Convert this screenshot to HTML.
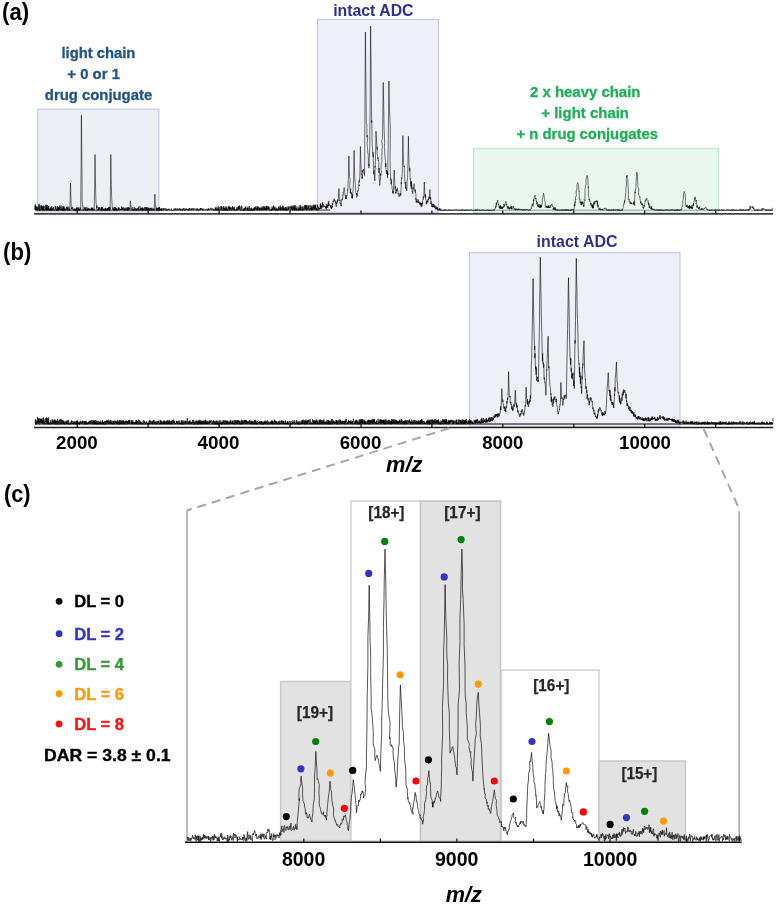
<!DOCTYPE html>
<html><head><meta charset="utf-8"><title>ADC mass spectra</title>
<style>html,body{margin:0;padding:0;background:#fff;overflow:hidden;} svg{display:block;}</style>
</head><body>
<svg width="777" height="905" viewBox="0 0 777 905" font-family="'Liberation Sans', Arial, sans-serif"><rect width="777" height="905" fill="#fff"/><text x="2.1" y="19.5" font-size="23.8" fill="#000" font-weight="bold" text-anchor="start" textLength="27.1" lengthAdjust="spacingAndGlyphs">(a)</text><rect x="37.6" y="109.2" width="121.2" height="102.8" fill="#EEEFF4" stroke="#CDD2E2" stroke-width="1.4"/><rect x="317.5" y="19.5" width="121" height="193" fill="#EFEFF8" stroke="#C6C6EA" stroke-width="1.2"/><rect x="473.5" y="148.5" width="245" height="64" fill="#EBF8F0" stroke="#BFE9D0" stroke-width="1.2"/><text x="61.5" y="58.4" font-size="15.5" fill="#215487" font-weight="bold" text-anchor="start" textLength="73.9" lengthAdjust="spacingAndGlyphs" stroke="#215487" stroke-width="0.3">light chain</text><text x="67.3" y="79.1" font-size="15.5" fill="#215487" font-weight="bold" text-anchor="start" textLength="52.7" lengthAdjust="spacingAndGlyphs" stroke="#215487" stroke-width="0.3">+ 0 or 1</text><text x="44.8" y="99.9" font-size="15.5" fill="#215487" font-weight="bold" text-anchor="start" textLength="107.4" lengthAdjust="spacingAndGlyphs" stroke="#215487" stroke-width="0.3">drug conjugate</text><text x="333.2" y="16.3" font-size="16" fill="#2E3192" font-weight="bold" text-anchor="start" textLength="80.3" lengthAdjust="spacingAndGlyphs">intact ADC</text><text x="530" y="96.6" font-size="15.5" fill="#1DB055" font-weight="bold" text-anchor="start" textLength="110.4" lengthAdjust="spacingAndGlyphs" stroke="#1DB055" stroke-width="0.3">2 x heavy chain</text><text x="541.3" y="118.2" font-size="15.5" fill="#1DB055" font-weight="bold" text-anchor="start" textLength="87.7" lengthAdjust="spacingAndGlyphs" stroke="#1DB055" stroke-width="0.3">+ light chain</text><text x="516.6" y="139.3" font-size="15.5" fill="#1DB055" font-weight="bold" text-anchor="start" textLength="141.3" lengthAdjust="spacingAndGlyphs" stroke="#1DB055" stroke-width="0.3">+ n drug conjugates</text><path d="M34.9 209.5L35.2 204.6L35 210.1L35.4 204.6L36.2 209.9L35.9 209.8L36.1 206.4L36 209.7L36.4 208.9L36.5 210.2L36.8 206.6L36.9 209L36.8 210.1L36.9 206.7L37.1 210.1L37.6 209.5L37.4 210L37.8 209.5L38.1 210L37.7 209.5L37.8 207.2L38.1 210L38.3 209.3L38.9 204.4L38.6 204.2L39 207.8L39.2 208.9L39.3 210.4L39.1 210.6L39.5 204.2L39.5 208.8L39.5 210.4L39.7 208.5L40 207.1L40.2 207.7L40.8 205.5L40.8 210.3L40.3 209L40.8 208.9L41.1 210.1L41.3 208.2L41.7 205.4L41.5 208.7L41.7 209.9L41.8 206.1L42.1 209.1L41.9 208.8L41.9 207.4L42.7 210.6L42.2 206.5L42.7 207.2L42.6 206.7L43 210.2L43 206.8L43.5 210.3L43.2 210.6L43.4 206.1L43.7 206L43.7 205.5L43.8 209L44.2 210L44.4 210.5L44.8 208.2L44.4 207.4L45 206L45.1 210.1L45.5 210.1L45.7 207.8L45.7 206.2L45.9 204.6L46.3 210.5L46.1 209.1L46.3 205.3L46.4 209.7L46.7 208.4L47 210.6L46.5 207.8L47.3 204.9L47.3 205.7L47.7 205.5L47.5 208.2L47.4 210.1L48 207.2L47.9 210L48.1 206.1L48.4 210.3L48.7 206L48.4 209.9L48.2 209.4L49 209.4L48.9 207.8L49 210.2L49.2 209.6L49.2 210.2L49.6 210.4L49.7 209.3L49.9 210.6L49.6 208.5L49.9 209.7L50.8 208.2L50.2 208.9L50.9 210.1L51 206.9L50.8 208.7L51.1 208.4L51.2 210.3L51 209.6L51.1 210.6L51.8 206.1L51.7 210.1L51.8 209.7L51.9 210.6L52.4 209.9L52.4 208.2L52.6 207.8L52.7 210.2L52.8 209.9L52.8 209.4L53.2 208.5L53.5 209.4L53.3 209.1L53.6 207L53.7 208.2L53.9 210.4L54.2 210.1L54.1 210.5L54.1 210.5L54.7 210.2L54.4 210.3L54.6 210.3L54.9 210.2L55.2 209.6L55.2 206L55.5 207.8L55.7 207.3L55.6 207.9L55.7 209.4L55.9 206.7L56 208.7L56.3 209.6L56.9 210.6L56.6 209.3L56.5 210.4L57.1 210.6L57.2 209.8L57.4 208.2L57.1 210L57.4 207.5L57.6 209.2L57.9 210.6L57.6 206L58.3 209.4L58.1 209.7L58.7 206.9L58.5 210.6L58.9 208L59 210.1L58.9 210.2L58.9 210.5L59.3 207.6L59.4 209.7L59.6 205.6L59.5 209L59.8 209L60 209.3L60.5 210L60.9 208.9L60.8 207L60.7 210.2L61 205.5L61.3 208L61.7 209.8L61.3 209L61.8 210.6L61.8 209.7L61.9 209.5L62.3 210.3L62.4 209.3L62.3 206.3L62.4 210.6L63.2 208.2L62.7 209.6L63 210.4L63.7 206.9L63.3 210.6L63.6 209.9L63.8 206L63.9 210.6L63.9 207.3L64.5 209.3L64.1 207.7L64 208.9L65 209.7L64.6 208.9L64.6 210.6L65.2 210L65.4 210.3L65.4 209.3L65.5 210.1L65.4 210.2L65.9 208.7L66.1 209.6L66.1 208L66.4 208.3L66.6 206.9L66.7 208.2L66.6 209L66.7 210.1L67.2 207.6L67.5 210.5L67.5 209.7L67.9 206.4L67.5 208.9L68 207.7L68.3 209.6L68.2 209.8L68.2 210.1L68.8 209.9L68.8 209.3L68.8 209.4L69.4 210.4L68.9 207.4L69.2 210.6L69.4 209.7L69.8 210.2L70.2 197.7L70.5 183L70.8 195L71.1 202.7L71.4 208.3L71.3 208.9L71.7 208.2L71.7 209.4L72 207.3L72.3 206.9L72.5 208.2L72.6 208.6L72.6 207.8L72.9 207.5L72.8 210L73 210L73.3 210.2L73.6 210.1L74 209.2L74.3 210.2L74 210.2L73.8 210.3L74.2 210.3L74.7 208.4L74.8 209L74.8 209.6L74.9 210.6L75.2 209.9L74.9 209.3L75.1 210.6L75.5 209.7L75.5 210.6L75.7 210.6L76 210.4L75.9 209.5L76.3 210.3L76.3 207.9L76.6 210.1L76.8 209.8L76.8 208.1L77 210.3L77 210.3L77 207.1L77.3 208.9L77.7 210L77.7 210.5L78 209.4L78.5 209.8L78.1 207.8L78.4 209.7L78.4 210.4L78.8 207.4L78.8 209.3L78.8 210.3L79.1 210.6L79.3 209.4L79.4 210.3L79.5 209.6L79.7 209.1L79.9 210.6L79.9 208.4L80.3 208.3L80.3 207.6L80.3 209.5L80.7 210.1L80.9 186L81.1 167.6L81.4 115.2L81.8 157.7L82.1 181.1L82.1 199.9L82.5 205.4L82.9 205.1L82.9 208.3L83.2 210.5L83.5 210.2L83.4 209.5L83.6 210.1L83.6 209.7L84.1 209.6L84.2 209.1L84 206.9L84.9 209.3L84.8 208.4L85 210.6L85 209.8L85.3 209.7L85 209L85.1 210L85.5 209.4L85.5 207.3L85.9 209.5L86.2 209.8L86 210.6L86.3 210.3L86.4 210.6L86.6 210.6L86.9 206.8L87 210.5L87.2 210L87.7 210.2L87.4 208.8L87.6 210.1L87.7 210.4L87.7 210.5L88 210.3L87.8 209.8L88 208.1L88.4 209.9L88.5 209.9L88.7 208.3L89 208.5L89.1 209.9L89.3 208.5L89.3 208.5L89.3 210.4L89.6 209.4L89.4 209.9L89.8 209.8L90 209.8L89.9 209.7L90.2 209.7L90.3 209.5L90.3 210.1L90.8 208.9L90.9 210L91.3 207.5L91.1 210L91.6 209.9L91.4 210.4L91.7 209.7L91.6 210.2L91.6 208.5L92.3 209.6L92.2 210.2L92.3 208.4L92.7 210.4L92.4 208L93 208.5L93.1 207.7L93.2 209.3L93.1 210.6L93.2 210.1L93.7 209.7L94 209.3L94.1 210.1L94.2 210.1L94.7 185.4L95 154.5L95.4 179.3L95.7 192.7L95.9 198.2L96 202.2L96.4 206L96.7 205.5L96.5 208.4L96.9 206.1L97 207.7L97 206.9L97 210.6L97.7 209.7L97.4 209.8L98 209.5L98 210.1L98.1 210.2L98.4 209.3L98.5 208.6L98.6 210.1L98.6 207L98.6 210L99.1 210.4L99 208.1L99.1 209.8L99.5 210L99.4 209.9L100.1 207.1L99.5 207.5L100.3 209.3L100.1 209.9L99.9 208.7L100.7 210.3L100.5 209.9L101.3 209.7L100.7 209.7L101 210L101.5 207L101.3 209.8L102.1 208.7L101.8 210.1L101.6 210.6L102 210.5L102 207.1L102.6 208.5L102.7 207.7L102.8 210.4L102.6 209L102.9 209.4L103.4 209.7L103.1 208.6L103.1 210.6L103.3 209.5L103.9 210L104.1 210.2L103.7 209.4L103.9 210.6L104 209.9L104.6 210.5L104.4 209.7L104.9 208.3L105 209.1L105 209.5L105.5 207.9L105.2 210.2L105.7 210.6L105.5 209.3L105.7 210L105.8 209.4L106.3 209.4L106.4 210.6L106.5 208.9L106.6 209.5L106.6 209.7L107.1 208.1L107.2 208.2L107.2 210.6L107.9 209.9L107.5 208.1L107.4 210.3L107.6 208.3L108.1 210.2L108.3 210.1L108.5 209.4L108.6 207L108.4 210.3L108.7 210L109.1 208.8L108.9 209.6L109.3 210.3L109.6 207.1L109.6 210.5L109.9 208.5L109.8 206.8L110 208.1L110 210.1L110.3 197.2L110.5 184.5L110.8 154.5L111.2 180.4L111.5 190.9L111.6 196.4L112 203.3L112.1 205.1L112.4 208.4L112.5 208.4L112.8 209.9L113 207.4L113.5 210.1L113.6 209.4L113.4 209.8L113.8 210.1L114 208.4L114.1 210.6L114.1 210.1L114.3 210.3L114.6 209L114.6 210.6L114.6 207L114.8 210.6L115.2 209.3L115.2 207.9L115.4 207.2L115.7 208.1L115.7 210.3L115.9 208.1L115.8 209L115.8 209.9L116.5 210.6L116.2 210.5L116.4 208.4L116.7 210.1L117 210.1L117 210.2L117.1 208.6L117.3 209.7L117.3 210.4L117.9 209.8L118.1 210.3L118 208.8L118.1 210L118.3 208.4L118.4 209.8L118.4 207.4L118.7 208.5L118.9 209.9L119.1 209.8L118.8 209.6L119.2 207.6L119.4 209.9L119.5 210.2L119.9 209.4L120 209.7L119.8 208.7L120.4 209.5L120.1 210.2L120.5 209.2L120.7 209.8L120.9 209.3L120.8 208.9L121 209.9L121.3 210L121.2 207.5L121.4 207.5L121.8 206.5L121.4 210L122.2 208.5L121.9 207.2L122.5 207.7L122.4 208.4L122.5 209.3L122.4 208.8L123.1 209.8L122.7 208.1L123 209.5L123.2 209.9L123 210L123.8 207.2L124 208.6L124 210L124 208.1L124.6 209.9L124.4 209.2L124.6 210.3L124.7 210.5L124.7 210.5L125 210.3L124.8 210.5L125.3 210.3L125.2 210.1L125.8 207.7L125.8 209.6L126 210.4L125.9 210L126.4 209.3L126.3 210.1L126.5 209.8L126.7 209.8L126.6 208.5L127.3 209.9L126.8 209.4L127.3 207.1L127.5 210.6L127.8 209.1L127.5 209.5L127.5 208.2L127.9 209.3L128.3 209.4L128.2 210.5L128.5 207.3L128.5 207.8L128.7 209.3L128.8 207.5L129.2 208.5L129 208.2L129.8 208.1L129.3 210.3L129.7 209.8L130.1 206L130.4 200.8L130.7 205.1L131 207L131.3 209.6L131 208.4L132 209.3L131.9 209.6L132.5 210L132.7 210.6L132.9 210.1L132.7 208.3L132.7 207.2L133.1 210.5L133.4 210.6L133.7 210.1L133.1 210.4L133.8 208.8L134.2 210.1L134.4 209.4L134.6 207.6L134.2 207.6L134.2 207.8L134.6 207.3L134.8 208.9L134.8 209.6L135 210L135.3 210.5L135.3 210L135.5 208.1L136 209.8L135.9 210.1L135.8 210.1L136.5 209.2L136.3 210.6L136.6 210L136.4 209.9L136.5 209.4L137.1 208.1L136.8 210.3L137.1 209.5L137.2 209.2L137.6 209.6L137.7 209.7L137.6 208.3L137.7 210.2L137.9 209.7L138.7 210.6L138.5 209.7L138.4 208.1L138.7 206.6L138.8 210L138.9 209.8L139.2 210L139.2 209.7L139.1 210.2L139.6 209.9L140.1 208.7L140 207.7L140.2 206.3L140.2 210L140.3 209.6L140.5 210.2L140.8 210.1L140.8 208.5L140.9 210.3L141 208.1L141.2 209L141.3 210.2L141.6 209.1L141.5 208.5L142 207.6L142.2 210.6L142.1 208.3L142.6 208.6L142.2 210.5L142.1 210.4L142.6 207.7L142.8 210.2L142.7 210.1L143.4 208.6L143.1 210.1L143 209.8L143.9 209.9L143.5 209.1L143.9 209.5L144.1 209.6L143.9 209.4L144.3 208L144.1 208.1L144.6 207.1L144.8 209.6L144.8 208.6L145.1 210.6L145 210.3L145.1 209.6L145.6 207.1L145.8 208.6L145.9 210.4L145.8 210.1L146 208.3L146.3 209L146.4 207.4L146.4 210.3L146.4 207.5L147 209.9L147.3 210.3L147.5 210.3L147.3 207.1L147.3 207.2L147.6 210.2L147.4 209.9L147.9 208.6L147.9 210.3L148.1 210.2L148.1 210.4L148.7 207.7L148.3 209.6L148.8 210.3L148.8 208.1L149 209.6L149.4 208.4L149.5 209.9L149.4 210.1L149.9 210.1L149.8 210.6L150.1 210L150.2 208.3L150.2 207.9L150.5 209.7L150.6 208.2L150.8 207.8L150.8 210.2L151.3 208.5L151.4 208.1L151.3 210L151.7 210.4L151.6 208.6L151.7 209.3L152 210.2L152.1 208.4L152.1 207.9L152.5 210L152.6 210.4L152.5 210.3L152.8 210L153.4 210L153.2 209.2L153.4 209L153.2 209L153.9 210.2L153.7 209.7L153.8 208.5L154.2 210.4L154.6 203.3L154.9 194.2L155.2 201.7L155.4 204.1L155.8 208.6L155.6 208.3L156.3 208L156.4 210.6L156.7 208.6L156.7 207.7L157.2 210.6L157.4 208.3L157.3 210.3L157.6 208L157.9 209.5L158 208L158.1 210L157.9 209.7L158.3 207.6L158.3 210.3L158.8 210.2L159 207.4L158.9 207.6L159.3 210.6L159.6 206.9L159.4 210.6L159.5 207.9L159.6 208L160 210.6L159.8 209.9L159.8 209.5L160.6 209L160.3 209.1L160.8 210.1L160.8 208.7L160.9 210.1L161.3 210.3L161.1 210.6L161.6 208.5L161.8 208.5L161.4 210.2L162.3 210.4L162 208.4L162.3 209.8L161.9 209.9L162.2 210.5L162.6 209.3L162.3 209.7L162.6 210.3L162.9 208.9L163.7 209.3L163.2 210L163.2 209L163.2 208L163.6 208.7L163.7 210.5L163.6 210.5L164.3 209.9L164.5 208.4L164.3 209.7L164.6 210.4L165.3 208.6L164.7 209.3L165.7 210.6L165.4 210.3L165.5 209.7L165.4 209.1L166.1 208.2L165.9 210.6L166.2 209.8L166.4 210.1L166.3 210.6L166.5 209.3L166.5 210.6L167.4 210.6L167 210.3L167.4 209.4L167.5 210.1L167.7 210.6L168.1 209.3L167.6 210.6L167.9 208.9L168 209.6L168.7 210.4L168.3 210.3L168.6 209.9L169.1 208.9L168.8 209.3L169.1 208.8L169.2 209.2L169 208.8L169.7 210.3L169.7 210.6L169.6 210.3L170 210.6L169.9 210L170.5 210.3L170.6 210.4L170.4 210.6L170.2 210.5L170.9 209.8L171.3 209L171.3 209L171.5 210.5L171.5 210L171.5 208.6L171.7 210.2L172 210.4L172.3 210L172.3 209.9L172.4 210.6L172.8 210L172.7 210.6L173 210.2L173.3 210.6L173 210L173.2 210.5L173.6 210.2L173.5 210.2L173.5 210.3L173.9 209.3L174.4 210.5L174 208.4L174.2 208.6L174.6 210.5L174.7 210.6L174.7 209.5L175 210.1L174.9 210.4L175.6 209.7L175.5 208.2L175.3 210.3L176.1 210.2L176.1 210L176 209.3L176.3 210.6L176.5 209.7L176.4 209.4L176.6 209.4L176.9 210.4L176.7 210.1L176.9 208.6L177 208.9L177.4 209.4L177.3 208.7L177.6 208.5L177.8 210.5L178.1 209.1L177.6 209.6L178.5 210L178.7 209.7L178.7 210.3L178.3 209.2L178.9 210L179 210.4L178.7 210.1L179.1 209.7L179.5 210L179.1 208.2L179.9 210.3L179.8 209.9L180.4 208.7L180.3 210.2L180.2 208.9L180.6 209.5L180.4 210.5L180.6 209.9L181.2 209.8L181.2 209L181.2 209.9L181.3 209.8L181.8 210L181.5 210.3L181.9 208.8L182.1 210.4L182.6 210.6L182.2 209.2L182.9 210.2L182.9 209.8L182.6 210.6L182.8 210.6L183.1 210.3L183.1 208.8L183.3 210.1L183.6 209.2L183.3 208.2L183.5 209.2L184.1 208L184.5 208.7L184 209.8L184.3 210.6L184.5 209.7L184.5 210.5L185.1 209.2L185.4 210.6L185.1 209.9L185.4 208.9L185.4 210.2L185.6 210.3L185.4 210.5L186.2 210.3L186.1 208.4L186.3 209.9L186.4 210L186.9 209.9L186.4 209.2L186.6 209.6L186.7 208.8L187.2 210L187.6 210.4L187.7 209.7L187.8 209.5L187.3 209.6L188.1 210.1L188.2 210.3L188.2 209.1L188.1 210.6L188.2 209.4L188.7 210.6L188.7 208.7L188.6 210.4L189.1 210.2L189.4 208.6L189.1 209.8L189.4 210.5L189.4 208.2L189.9 209.2L189.8 209.7L190.1 210.4L190.2 209.8L190.5 210.1L190.7 210.2L190.9 208.6L190.8 209.8L191 210.2L191.1 210.4L191.3 210.2L191.4 208.3L191.3 210.6L191.5 210.4L191.9 209.4L191.6 210.1L192 209.2L192.5 208.4L192.5 210.1L192.8 210.5L192.7 209.9L193 210.3L192.9 210.4L193.4 210.6L193.5 209.8L193.4 208.4L193.4 210.2L193.6 209.2L194 208.4L194.2 209.3L194.3 208.7L194.3 209.6L194.5 210.3L194.6 210.1L194.5 210.1L195.2 209.5L195.3 210.1L195.5 209.6L195.3 209.9L196 209.3L195.8 208.6L196.1 210.4L195.9 210.3L196.1 210.5L196.5 210.6L196.6 209.6L196.6 210.1L197 208.4L196.7 209.8L197.1 210.4L197.5 208.6L197.5 210.4L197.8 210.5L197.7 208.9L198 210.1L198.2 210.1L198 209L198.4 210.5L198.7 209.9L198.8 209.3L199 210.6L198.5 209.2L199.1 209.7L199.4 210.4L199.1 209.8L199.6 210.2L199.8 208.5L200.1 209.2L200 209.8L200.1 209.8L200.4 210.5L200.4 208L200.8 209.9L200.8 208.8L201 209.6L200.9 208.6L201.2 210.3L201.3 210.2L201.7 209.6L201.5 209.4L201.6 208.2L201.8 209.5L202.4 210.3L202.4 208.6L202.5 209.5L202.5 210.4L202.9 210.6L202.9 210.4L202.7 209.3L203.1 210.6L203.4 209.4L203.5 208.7L203.4 209.9L203.4 209.4L204 210.5L204.3 210.1L204.1 210.2L204.5 210.6L204.8 210.3L204.5 210.1L204.7 210.1L205.1 210.2L205.2 210.1L205.2 209.8L205.4 209.3L205.6 209.8L205.4 210.6L205.7 210.1L206.3 210.3L206.2 209.2L206.2 209.3L206.4 209.5L206.8 209.9L206.8 209.3L206.9 208.9L207.2 210.6L207.2 210.6L207.5 209.2L207.7 208.8L207.6 210.6L208.1 210.1L207.8 210.2L208.3 210.3L208.6 209.5L208.3 210L208.4 209.9L208.4 210.2L208.6 208.2L208.9 209.8L209 209.5L209.2 208.8L209.7 210.6L209.4 209.7L209.8 209.6L210.1 209.9L210 209.5L210.1 209.7L210.5 209.7L210.8 210L210.5 209.2L210.6 207.8L211.4 208.9L211.1 209.1L211.6 209.7L211.3 209.5L211.6 210.3L211.5 209.7L211.7 209.6L212 208.2L211.9 210.3L212.5 210.2L212.8 210.4L212.6 210.3L212.7 210.5L213 210.3L212.9 208.7L213.1 208.8L213.5 210.6L213.3 210.1L214 209.5L213.9 209.6L213.6 209.5L214.4 210.4L214.3 209.1L214.1 210.1L214.4 210.2L214.6 209.7L214.2 210.4L215.3 208.7L215.1 207.8L215.6 210.4L215.4 207.7L215.6 209.4L215.7 209.4L215.9 209.7L216.2 208.4L216.1 210.1L216.3 209.9L216.1 206.8L216.2 210.2L217 210.5L216.9 210.1L216.7 209.3L217.3 209.4L217.5 210.1L217.6 208.5L217.6 207.6L217.7 210.4L217.9 209.6L218.7 208.6L218.2 210.5L218.3 206.2L218.8 208.9L219 209.7L219 210.3L219 210.3L219.2 210.4L219.2 208.4L219.3 207L219.8 207.9L220 210.5L219.9 210.6L220.4 209.5L220.5 209.2L220.5 208.6L221 206.6L221.1 206.7L220.8 206L221.3 209.7L221.4 209.3L221.6 206.2L221.3 208.2L221.5 210.2L221.7 206.7L222.2 208.6L222.4 210.6L222.1 210.4L222.7 209.4L222.8 209.2L222.8 209.2L223.5 208.4L222.8 209.3L223.1 206.6L223.3 207.1L223.6 210.6L223.3 210.6L223.6 207.5L224.1 209L223.8 206.1L224.2 209.9L224.7 210.3L224.3 210L224.5 208.1L225 210.6L225.3 208.9L225.4 209.5L225.2 208.5L225.8 206.5L225.8 210.2L225.7 209.3L225.9 208.1L226.2 210.4L226.1 210.1L226.5 210.3L226.5 206.9L226.8 207.6L227 210.5L227 210.5L227.2 208.7L227.6 210.3L227.5 210.4L227.6 210.3L227.9 209.6L227.8 210.1L228.2 206.6L228.5 209.3L228.7 207.1L228.5 206.5L228.7 207.3L229 209.5L228.5 209L228.7 209.7L229.2 210.6L229.3 205.9L229.9 210.3L230.1 209.5L229.9 208.7L230 207.3L230.1 209.1L230.3 208.6L230.3 207.7L230.6 209L230.8 208.7L230.7 207.3L231 210.1L231.1 209.7L231.3 209.7L231.6 210.5L231.8 210.6L231.9 207.2L231.8 210L232.1 209.4L232.3 208L232.5 208.3L232.6 206.8L232.6 209.5L232.9 208.4L232.6 206.3L233.3 210L233.4 209.5L233.5 210.2L233.8 209.5L233.7 209.6L233.9 207.7L234.3 209.8L234.4 210.4L234.5 206.9L234.5 209.4L234.9 210L235 209.9L234.7 209.9L234.7 210.6L235.3 210.5L235.8 210.4L235.7 210.3L235.2 209.5L235.7 209.9L235.9 210.4L235.9 209.4L236.6 210.3L236.5 208.1L236.6 207.4L236.9 210.5L237 210.4L236.8 210.1L237.1 209.2L237.4 210L237.6 208.2L237.5 208.4L238.1 207.1L238.4 208.3L238.1 208.5L238.3 205.9L238.4 209L238.7 209.8L238.8 209.7L238.3 209.9L239.5 205.6L239.2 208.1L238.7 210L239.1 206.4L239.2 207.8L240.2 210L239.7 205.7L240 207.3L240.3 210L240.1 210L240.5 210.5L240.5 210.5L240.8 210.1L240.9 210.6L241.3 210L241 207.6L241.6 205.7L241.7 208.5L241.9 207.1L241.8 206.9L241.9 208.8L242.2 209.4L242.2 210.3L242.6 209.7L242.4 210.2L242.9 210.1L243 209.3L242.8 208.9L243.4 209.1L243.6 208.5L243.5 209.8L243.4 210.6L243.5 210.2L243.9 210.2L244.1 208.7L244.2 210L244.4 208.4L244.3 210.6L244.6 209.8L244.7 210.2L244.8 208.9L245 207.6L245.8 207.7L245.1 207.4L245.6 210.1L245.8 206.5L245.6 208.8L246.4 210.2L246.1 210.4L246.2 209.9L246.4 209.1L246.7 209L246.8 207.7L246.6 208L247.3 209.2L247.2 210.5L247.7 208.3L247.8 210.1L247.6 208.2L247.6 210.3L248.2 209.9L248 206.3L248.1 207L248.3 208.2L248.5 210.3L248.5 209.5L248.7 210.2L249.1 210.6L249.5 210.1L249.2 210.2L249.6 206L249.7 210.4L249.7 209.9L250.3 209.8L250.4 209.1L250.4 209.1L250.1 208.1L250.3 210.6L251 210.4L250.8 209.2L251.1 209L251.6 207.6L251.5 210.6L251.5 210L251.9 209.7L252 209.3L251.9 209.8L251.8 208.2L252.5 210.2L252.1 210.5L252.5 209.9L252.8 210.6L253 209.8L253.2 208.9L253 210.4L253.2 209.2L253.4 210.1L253.2 208.9L253.5 210.3L253.6 208.3L253.9 208L254.2 209.8L254.2 209.2L254.4 208.4L254.4 207L254.6 210.6L254.7 208L255.1 209.7L255.4 206.6L255.1 207L255.4 209.8L255.6 209.5L255.6 209L256 206.3L256.4 209.6L256.3 208.7L256.6 208.2L256.9 208.2L257 209.9L256.6 208.9L257 210.3L257.2 209.9L257.3 206.6L257.5 210.3L257.5 207.9L257.4 210L257.6 206.1L257.6 209.5L258.3 209.8L258.1 210.2L258.7 209.1L258.5 206.8L258.9 210.1L259.4 208.3L258.8 210L259.3 210.6L259.4 207.4L259.5 209.9L259.7 208.1L260 210.4L260 209.3L260.3 208.5L260 210.3L260.7 207.6L260.6 210.3L260.5 209.8L260.9 209.9L261.3 207.9L261.3 209.9L261.4 209.8L261.6 210.1L261.8 206.8L261.7 210.1L262.1 209.7L262 208.4L262.5 209.9L262.3 209.3L262.8 210.2L262.7 206.4L262.8 210.1L262.9 210.4L262.8 210.1L263.1 209.2L263.7 208.6L263.4 207.3L263.8 206.2L263.8 209.4L263.8 207.5L263.8 210L264.4 209.9L264.6 209.9L264.4 207.1L264.4 210.1L265.4 208.9L265 209.6L265 206.1L265.3 210L265.6 209.3L265.9 207.9L266.2 210.2L266.1 207.5L266 208.8L266.3 210.3L266.7 205.9L266.5 209.6L266.9 210L266.6 207.8L267.2 206.2L267.3 209.9L267.6 209.8L267.4 207.6L267.7 208.3L268.2 209.5L268.2 208.1L268 206.1L268.1 207.2L268.4 208.8L268.5 206.5L268.6 206.6L269 208.1L269 210.3L269.5 209.5L269.2 208.4L269.7 207.3L269.7 209.2L269.8 209.1L269.9 208.8L270.3 210.5L269.9 210.4L270.1 210.6L270.6 210.1L271.3 210.4L271 210.4L270.8 209L271.5 208.8L271.4 209.6L271.2 210.4L271.2 209.2L271.7 210.3L271.8 209.8L272.2 207.9L271.9 206.5L272.4 210.3L272.7 208.3L272.5 210.1L272.5 208.8L273.2 209.1L272.9 208.7L273.4 205.6L273.8 208.7L273.5 209.8L273.8 206.1L273.9 210L274 209.2L274.3 209.8L274.6 207.6L274.5 210L274.8 209.5L274.7 209.9L274.9 208.2L275.1 206.7L275.2 210.2L275.4 210.2L275.3 208.8L275.7 210.4L275.9 209.9L276.2 209.4L275.9 208.6L276.1 209L276.5 207.7L276.5 209.4L276.7 210.4L276.8 210L276.8 209.1L277.1 210.3L277.1 210.6L277.5 210L277.4 210.2L277.9 208.6L277.7 209.7L278.2 210.3L278.1 208L278.3 208.2L278.3 210.3L278.5 208.5L278.3 207L279 207.3L279.2 207.5L279.1 209.7L279 206.3L279.4 210.2L279.9 209.5L280 210.1L279.9 209.2L279.8 208L280.5 208.3L280.5 210.3L280.3 205.5L280.7 209.8L281 207.9L281.2 207L281.1 207.7L281.3 209.4L281.8 209.2L281.8 210.2L281.5 209.8L281.9 207.3L282.2 207.7L282.1 208.5L282.2 208.2L282.4 209.8L282.6 205.7L282.7 209.6L282.8 210.2L282.7 208.3L283.5 210.2L283.4 206.1L283.6 209L283.6 210.2L283.4 210.1L284 208.8L284.1 210.4L284.4 210.2L284.7 209.8L284.6 209.5L285.1 207.6L284.8 209.9L285.2 207.1L284.7 209.9L285.7 206.9L285.5 210.2L285.5 210.3L285.7 209.5L285.9 210.4L286.6 209.5L286.3 207.3L286.3 207.1L286.8 210.3L286.6 210.6L286.8 209.5L287.2 210.2L287.1 209.4L287.3 210.2L287.6 209.5L287.4 210.2L287.9 209.3L288 206.5L288 209.8L288.2 207.3L288.4 209.9L288.3 207.8L288.5 207.3L288.9 208.3L289.1 207.8L288.9 208.8L289.3 206.3L289.4 207.7L289.4 208.9L289.8 209.5L289.8 209.6L290.7 209.5L290.4 210L290.6 210.4L290.5 206L290.8 208.1L291.1 208.7L291.5 206.3L291.3 208.9L291.8 209.5L291.3 207.2L291.7 208.4L292 209.7L292.1 209.6L292.2 208.6L292.5 209.9L292.2 205.6L292.5 210.5L293.3 206.4L293.3 205.4L293.3 208.1L293 210L293.6 206.7L293.3 209.2L293.9 207.8L293.9 210L293.9 210L294.5 205.3L294.4 210.5L294.6 210.1L294.7 207.4L294.6 207.1L294.8 209.9L295.2 210.2L295.4 207.7L295.7 208.6L295.7 208.5L295.7 209.4L295.5 205.3L296.1 210.6L296.1 208.7L296.2 210L296.6 209.5L296.7 209.9L297 206.5L296.9 208.4L297.2 210L297.6 209.1L297.7 208.7L297.4 208.7L297.6 209.7L297.6 209.8L297.9 209.4L297.7 210.4L297.9 210.2L298.4 208.7L298.7 210.2L298.9 206.8L298.8 210.4L299 209.4L299.3 208.6L299.7 209.7L299.2 209.3L299.3 209.9L299.7 209.9L299.5 209.5L300 205L300.2 209.1L300.3 210L300.4 205.5L300.5 210.5L300.8 207.3L301 207.8L301 207.3L301.2 206.8L301.4 210L301.7 210.2L301.6 209.8L301.8 208.9L302.5 210.1L302 206.3L302.1 210L302.5 209.4L302.9 209.2L302.7 210.4L303.1 206.5L303 209.9L303.3 209.7L303 209.6L303.6 209.3L304 209.2L304 208.5L303.9 210.2L304.3 209.3L304.1 208.8L304.3 205.3L304.6 208.2L304.8 207.7L304.8 209.4L305.3 209.2L305.2 205.1L305 209.7L305.8 204.9L305.8 208.8L305.6 205.2L305.6 208.6L306.1 206.7L306.4 206.5L306.7 209.5L306.7 209.8L306.5 205.2L306.6 210.3L307 207.6L307.3 209.8L307.2 209.4L307.5 209.8L307.9 209.9L307.5 209.8L307.8 205.2L308.5 208L308.2 209L308.4 208.8L308.4 206.4L308.4 208.2L308.4 209.6L308.7 209.7L309.1 204.9L309.4 208.5L309.2 208.1L309.5 210.2L309.7 210.3L309.6 209.9L309.9 209.9L310.3 208.4L310.2 209.1L310.2 208.3L310.7 209.6L310.6 209.1L310.7 205.1L311 210.4L311.2 208.3L311.1 208.2L311.7 209.1L311.6 205.8L311.6 210.3L312 206.9L312.5 210L312.1 209.2L312.5 209.2L312.6 209L312.5 208.5L312.7 210.2L312.9 206.7L313 209.3L313.1 205.2L313.5 209.6L313.8 209.2L313.4 204.8L313.8 208.4L314.4 209.1L314 209.3L314.3 205.5L314.4 209.9L314.8 204.8L315 208.4L315 206L315.2 208.7L315.4 206L315.4 210L315.5 208.9L315.5 207.2L315.6 204.5L315.7 208.3L316.2 209.2L316.2 207.8L316.5 208.1L316.6 210.1L317.2 209.7L316.8 208.6L316.9 210.3L317.2 205.1L317.2 204.5L317.5 207.1L317.5 206L318 209.4L318.1 209.8L318.4 207.1L318.5 207.1L318.6 207.4L318.6 209.9L318.8 209.4L319 208L319.5 209.3L319.6 208.6L319.3 208.5L319.9 208.7L320.4 204.2L320.2 208.7L320.5 207.6L320.7 203.4L320.9 206.6L320.7 208.5L321 206.2L321.2 208.6L321.3 208.1L321.4 208.7L321.7 205.7L322 205.7L321.4 206L322 205.6L322.2 206.2L322.5 202.3L322.4 206.3L322.4 207.3L323 207.1L323 206.6L323.2 204.3L323.3 207.3L323.4 206.6L323.6 206.4L323.7 206.1L323.9 205.6L324.2 206L324.5 206.1L324.6 206.6L324.8 205.9L324.9 207L325.1 207L325.4 207.4L325.4 207.7L325.8 206.1L325.3 208.5L326 207.9L325.9 208L326.4 204.1L326.6 209.5L326.5 208.8L326.7 206.3L327.3 207.6L326.9 206.9L327.1 207.7L327.7 205.2L327.9 207.6L327.8 207.2L327.6 204.8L328.4 202.5L328 206L328.5 205.7L328.8 200.9L328.7 205.9L328.8 205.1L329 205L329.1 204.3L329.3 205.1L329.5 204.8L329.7 205.3L329.9 205.8L330 206.1L330.2 206.1L330.3 206.6L330.4 206.8L330.7 205.4L330.6 206.8L331 208.1L331.2 205.6L331.1 205.2L331.4 208.9L331.6 208.1L331.6 207.7L332.2 206L332.4 207.6L332.5 203.8L332.3 203.1L332.5 205L332.8 204.3L332.7 203.6L333 203.6L333.1 200.7L333.3 201.8L333.5 201.5L333.6 200.6L333.8 199.9L333.9 200L334.2 198.6L334.5 200.3L334.7 200.5L334.8 201.2L335 201.5L334.9 200.2L335.5 203.2L335.7 202.8L335.8 201.8L335.7 203L335.7 204L336.2 205.1L336.2 206.7L336.4 203.6L337.1 201.4L336.8 203.8L337.1 202L337.3 201.7L337.8 199.5L337.5 201.9L337.4 200.7L337.7 200.1L337.9 201.2L338.1 199.9L338.3 199.1L338.6 194.3L338.9 188.5L339.2 194.1L339.5 200.4L339.8 200.9L340.2 199.9L339.9 203.2L340.1 202.7L340.5 203.8L340.6 203.3L340.8 206L341.2 205.6L341.5 206.1L341.4 204.2L341.4 200.1L341.4 199.8L342 199.7L342.5 198.5L342.4 200.2L342.4 198.8L342.7 197.9L342.9 195L342.6 195.2L343.2 194.4L343.2 194.8L343.1 192L343.4 192.4L343.5 191.5L343.7 191.4L343.8 189.4L344 189.4L344.2 187.5L344.4 190L344.6 191.4L344.7 192.4L344.9 193.4L345 194.4L345.1 195.7L345.3 196.3L345.7 197.1L345.8 198.5L345.8 199.1L346.1 196.6L345.8 195.2L346.3 199.1L346.2 199.1L346.5 195.9L347 196.1L346.9 195.7L347.1 196L347.6 189.5L347.7 190.2L347.9 188L348 184.7L348.3 179.9L348.6 166.6L348.9 155.9L349.2 167.9L349.5 176.4L350.2 179.5L350.1 179.8L349.7 185.9L350.4 191L350.2 192.9L350.8 188.8L350.4 191.3L350.9 194.1L351 192.2L351.5 192.6L351.6 194.5L351.5 194.4L352 196.1L352.1 197.8L352.4 194.8L352 197.9L352.3 194.4L352.2 198.5L352.8 194L353.1 189.9L353.2 188.1L353.3 184.9L353.6 180L353.9 162.3L354.1 150.4L354.3 161.7L354.5 169.2L354.7 176.5L354.9 180.1L355 180.9L355.1 182.5L355.4 184.9L355.8 193.1L356.5 194.6L356.1 194.8L356.4 194.1L356.1 194.2L356.7 194L356.7 194.8L356.8 193L356.7 197.4L357.4 195.5L357.3 196L357.8 190.6L358 191.3L357.9 191.3L358.6 190L358.4 187.3L358.3 187.3L359 184.7L359.3 186L358.7 183.5L359.1 180.4L359.4 182.4L359.5 179.1L359.6 179.3L359.8 177.3L360.2 157.8L360.4 146.5L360.6 153.9L360.8 159.7L361 165.7L361.2 172.2L361.3 175.2L361.8 174.7L362.1 174.5L362 178.6L362.4 176.4L362.3 178.6L362.2 169.9L362.7 172L362.9 172.4L363 171.6L363.2 170.9L363.3 170.1L363.6 168.9L363.9 170L364.1 173.8L364.2 173.3L364.4 174.3L364.6 175.6L364.8 130.5L365 103.4L365.1 77.2L365.4 32L365.7 62.7L366 84.9L366.3 123.1L366.9 125.2L366.7 127.4L366.9 129.3L366.9 137.3L367.3 135.2L367.7 137.8L367.1 143.8L367.9 153.1L368.1 153.7L368.3 156.3L368.4 162.4L368.4 164.7L369 165.8L368.9 164.1L368.8 167.4L369 168.1L369.1 165.7L369.8 146.4L369.8 134.3L370.1 113.2L370.4 58.4L370.6 26.2L370.8 47.3L371 60.3L371.2 76.7L371.5 109.6L371.7 122.5L371.7 120.4L372.1 133L372 135.2L372.2 144.6L372.6 150.1L373.3 157.4L373 152.2L373.2 157.2L373.2 160.1L373.6 163.2L373.4 164.9L373.6 169.1L373.8 171.5L373.8 174.4L374 170.2L374.8 180.9L375 174.5L375.1 165.9L375.2 167.4L375.4 161.8L375.8 142.1L376 131.2L376.2 135.2L376.4 137.7L376.6 141.9L376.8 144.7L377.3 149.6L377 146.8L377.2 154.2L377.8 156.2L377.9 159.1L377.7 157.5L378.2 160.6L378.4 159.9L378.8 161.8L378.7 172.3L379 173L379 168L379.6 169.5L379.1 178.1L379.3 179L379.7 182.5L379.8 185.5L380.1 180.1L380.5 179.9L380.4 175L380.6 173.6L381.1 175.4L380.7 175.5L381.5 171L381 169.7L381.3 163.3L381.8 162.1L382 152.5L382 149.2L382.5 147.1L381.7 140.5L382.4 139.1L382.6 132.8L383 101.5L383.2 82.4L383.4 94.3L383.6 101L383.8 111L384 126.4L384.5 138.3L384.6 143.3L384.4 147.5L384.9 154.2L385.2 159.5L385.5 160.5L385.7 167.1L385.7 165.1L385.8 163L385.8 168.4L386.3 170.9L386.2 170.9L386.9 174L386.8 170.1L387.1 173.7L387.3 171.2L387.5 177.8L387.6 172.4L388.1 175.1L387.7 173.9L388.3 138.3L388.7 101.2L388.9 81L389.1 93.3L389.3 101L389.5 109.4L390.3 127.1L390.2 150.3L390 157L390.5 176.5L390.8 180.5L390.7 178.5L391.2 179.1L390.9 184.1L391.6 180.3L391.5 184.4L391.6 185.9L392.1 186.6L391.9 188.2L392.7 190.4L392.6 192.9L392.9 190.7L393 192.7L393.2 193.8L393.3 190.6L393.6 184.8L393.9 176.5L394.2 170L394.5 177.2L394.8 183.5L395.2 189.5L395.2 186.9L395.4 186.2L395.3 191.6L395.8 193.6L396.2 192.1L396.2 192.6L396.4 189.5L396.5 191.2L396.6 190.9L396.8 190.2L396.9 189.3L397.1 188.6L397.3 187.7L397.5 188.8L397.7 191.2L397.8 190.7L398 192.1L398.1 193.6L398.2 193L398.4 193.4L398.2 194.3L399.1 194.9L399.1 196.8L399.1 195.3L399.8 195.4L399.5 195.2L400 195.1L399.9 194.6L400.1 193.4L400.3 193L399.9 194.8L400.5 195.1L400.9 193.8L400.6 195.6L401.3 186L401.4 182L401.3 184.2L401.4 177.7L402 178.5L402 176.6L402.3 172.1L402.6 152.4L402.9 135.6L403.2 151.5L403.5 162.7L404 167.1L404.4 165.9L404.3 170.1L404.5 173.5L404.5 174.3L404.6 177.8L405.1 181.8L405.4 184.2L404.9 182.8L405.8 181.9L405.4 188.1L405.8 184.7L405.6 188.6L406.2 187.2L406.4 188.9L406.4 190.4L406.4 189.3L406.8 190.5L407.1 182.9L407.2 181.1L407.6 177.9L407.6 174.3L407.8 169L408.2 149.1L408.4 136.2L408.6 147.9L408.8 155.6L409 164.5L409.2 166.9L409.6 171.2L409.5 170.3L409.9 167.9L410 173.6L410.2 178.9L410 178.6L410.5 179L410.5 183.3L410.3 182.9L410.6 184.3L411.1 186.4L411.1 182.5L411.3 188.8L411.1 181L411.9 185.6L411.9 189.6L412.1 190.4L412 191.3L412.2 192L412.4 191.6L412.8 193.7L412.9 190L412.8 187.4L413.8 189.3L413.3 189.3L413.4 188.3L413.6 186.8L413.7 186.5L413.9 185.2L414.1 183.7L414.3 186.2L414.5 187.3L414.6 188.4L414.8 189.6L414.9 191.1L415.3 192.4L415.2 190.3L415.1 189.5L415.8 194L416 195.3L415.8 199.6L415.9 198.2L416 202.1L416.8 200.9L416.4 202.5L417 199.1L416.6 201.6L416.9 202.1L417.1 201.6L417.5 202L417.7 201.2L417.7 202.5L417.6 202.4L417.6 202.4L418.2 203.1L418.5 202.5L418.3 199.6L418.3 200.9L418.7 201.1L418.5 202.7L418.9 202.9L419.1 203L419.1 201.7L419.4 204.3L419.8 204.1L420.1 203.1L420.1 203.5L420.1 202.8L420.4 205.1L420.3 202.6L420.7 204.4L420.9 204.9L421.2 205.7L421.1 203L421.1 206.8L421.5 206.3L421.6 203.7L421.9 206.3L421.9 206.4L422.1 205.8L422.4 202.5L422.6 204.1L422.7 203.3L422.5 201.3L423.3 199L423.1 199.4L423.2 196.5L423.5 198.4L423.8 197L424.1 186.9L424.3 182L424.5 186.8L424.7 190.3L424.9 195L425.1 196.5L425.3 194.6L425.8 197.5L425.4 194.5L425.4 198L426 199.9L426.2 201.2L426.2 201.3L426.2 203.3L426.5 201.4L426.8 201.1L426.7 204.1L427.2 200.7L427.3 202L427.7 202.3L427.6 200.5L428 202.2L427.6 199.7L428.1 200.1L428.4 199.9L428.4 200.1L428.8 198.6L429 199.2L428.6 199.5L429.1 196.7L429 199L429.3 198.3L429.6 193.5L429.9 189.5L430.2 196L430.5 199.3L430.6 197.1L430.9 204L431.3 201.4L431.3 201.9L431.5 205.5L431.5 206.6L432.1 206.5L431.8 204L432.5 205.6L432.8 207L432.3 206.4L432.6 206.4L432.9 203.8L432.6 204.4L433.3 204.3L432.8 207.2L433.4 205.8L433.5 206.7L434 206.8L433.8 204.2L434.1 207.3L434.7 206.7L434.4 207.4L434.7 207.8L434.5 207.7L434.8 205.1L434.9 207.5L435.1 208.1L435.4 207.9L435.5 209.3L435.7 208.8L436 206.2L436.1 208.8L436.1 208.2L436.3 209.2L436.7 208.4L436.5 208.4L436.5 209.1L437 207.1L437.2 209.3L437.3 207.3L437.4 209.9L437.6 209.7L437.9 209.9L437.6 210.6L437.9 209.3L438.2 210L438.5 209.9L438.7 209.9L438.7 208.7L438.8 209.3L438.9 210.2L439.3 210L439.4 208.5L439.6 209.8L439.8 209.4L440 208.2L439.8 210.5L440.2 210.1L439.8 210.1L440.2 210L440.5 210.6L440.9 210.5L440.8 209.6L441 210.6L441 209.8L441.5 209.9L441.2 210.3L441.3 210.6L441.5 209.7L441.6 209.6L442.2 210L442.4 210L442.4 210.6L442.4 210.3L442.4 210L442.8 210.2L443.1 210.2L442.9 210.4L443.7 210L443.5 210.1L443.7 210.2L443.7 210.6L444.3 210.4L444.4 209.3L444.3 210.1L444.4 210.4L445 210L444.5 210.6L444.9 209.9L444.8 210.4L445.4 210.4L445.1 210.2L445.6 210.1L445.9 209.8L445.4 209.6L446 210.3L446.2 210.1L446.4 210.3L446.5 209.7L446.7 210.6L446.6 210.4L447.3 210.5L447.1 210.1L447.2 210.1L447.3 210.3L447.6 210.1L447.6 210.4L448.1 210.5L447.8 210.4L448 210.3L448.4 210L448.5 210.3L448.7 209.2L448.8 210.1L448.7 210.2L448.7 210L449.3 210.3L449.4 210.2L449.6 210.2L449.5 210L449.9 209.7L450 210.1L450 210L450.3 210L450 210.4L450.9 210.4L450.4 210.1L450.6 210.1L451.3 210.4L451.1 210.3L451.5 210.5L451.3 210.5L451.4 210L452 209.7L451.9 210.2L452.1 210.2L452.2 209.8L452.8 210.4L452.6 210.6L453 209.9L453 210L452.7 210.3L453.2 210L453.3 210L453.7 210.1L453.8 210L453.8 210.3L453.7 210.1L454 209.6L454.3 210L454.2 210L454.3 210.3L454.4 210.1L454.6 210.3L454.9 210.6L455 210.1L455.2 210.1L455.4 210.2L455.4 210L455.3 209.7L455.7 210.4L456 210.4L455.9 209.5L456.3 210.2L456 210.1L456.6 210L456.4 209.9L456.8 209.6L456.9 209.8L457.4 210.4L457.1 210.5L457.6 210.3L457.6 210.3L457.9 210.3L457.8 210.3L458.2 210.6L457.9 210L458.4 210.4L458.5 209.7L458.6 210.4L459 210.6L458.8 210.3L459.3 210L459.2 209.8L459.2 210.6L459.6 210L459.9 210.1L460.1 210.2L460.3 210L460.4 210.3L460.3 210.6L460.5 210L460.4 210.2L461.2 210.3L461.3 209.7L461.3 210.2L461.3 210.4L461.6 210.6L461.3 209.7L462 210.1L461.9 210.4L462.2 210.1L462 210.1L462.5 210.2L462.2 210.1L462.4 209.7L463 210.2L463 210.3L462.8 209.6L463.2 210.3L463.2 210.2L463.5 210.1L463.8 209.7L464.1 210.6L463.9 210.3L464 209.8L464.4 210.2L464.4 210.5L464.7 209.9L464.5 210.6L464.9 210.5L465.3 209.9L465.1 209.8L465.1 210.3L465.7 210.4L465.5 209.8L466 210.6L465.8 210.3L466 210L466.4 210.6L466.3 209.9L466.2 209.9L466.3 209.5L466.7 210L466.8 210.5L467 209.8L467.4 209.8L467.6 210.6L467.8 210.2L467.6 210L467.8 210.2L468 210.6L468.1 209.6L468 210.6L468.4 210.3L469 210.1L468.6 210.3L468.7 210.5L469.1 210L469.2 210.2L469.1 210.6L469.8 210.1L469.9 210.3L469.8 210.5L470.2 209.8L469.9 209.5L470.4 210.4L470 210L470.5 210.4L470.6 210.2L470.7 210.2L471.1 210.2L471.2 209.9L471.7 210L471.6 210L471.2 209.8L471.7 209.5L471.8 210L472 210L472.5 210.6L472.5 209.9L472.6 209.9L472.8 210.6L472.9 210L473.1 210.1L473.2 210.5L473.2 210.5L473.3 210.6L473.4 210.5L473.8 210L473.9 210L474.2 210.1L474.3 210.4L474.7 210.2L474.5 210.4L474.5 210.1L474.3 210.4L475.1 209.5L474.9 210.3L475.4 210L475.6 210.6L475.4 210L475.9 210.4L475.4 210.5L476.2 210L476.1 209.8L476.1 210.6L476.6 210.6L476.8 209.9L477.1 209.7L476.7 210.3L477.3 209.9L476.8 210.3L477.4 209.7L477.5 210.6L477.5 210.4L478 210.1L478.1 209.9L477.8 209.4L478.3 210.2L478.3 210.5L478.7 210.1L478.6 209.8L479.1 210.4L478.8 210.1L479.4 209.5L479.6 209.7L479.5 210L479.6 210.6L479.5 210.1L480 210.6L480 210.6L480.1 209.8L480.4 210L480.7 210.6L480.6 210.3L480.9 210.5L480.9 210.1L481.4 210.2L481 209.9L481.4 210.2L481.2 210.3L481.8 210.5L481.9 210.2L482.3 210L482 209.7L482.2 210.5L482.3 210.3L482.9 209.7L483.2 210L482.8 210.6L483 210.2L483.2 210.2L483.2 210.3L483.7 210.1L483.7 209.8L483.8 209.9L484.1 210.4L484.3 210L484 210.3L484.7 210.6L484.3 210.3L484.9 210.1L484.8 209.9L485.2 210.1L485 210.3L485.4 210.5L485.7 210.4L485.9 210L485.6 210.6L485.9 210.6L486 210.4L486.3 210.1L486.4 210L486.2 210.6L486.8 210.6L486.9 210.1L486.8 210.4L487.1 209.3L487.2 210.1L487.2 210.6L487.6 210.5L487.7 210.3L487.8 210.1L488.2 209.9L488.2 210.2L488.5 210.6L488.4 210L488.9 210.5L488.4 210.4L488.8 210.1L489.2 210.3L489.3 209.8L489.3 209.9L489.4 210.3L489.5 209.8L489.9 210.6L489.9 210.3L489.9 209.9L490.3 210.1L490.6 209.8L490.7 210.6L490.9 210.5L491 210.2L491 210.6L491.1 210.3L491.6 210.2L491.8 210L491.6 209.9L492 210.4L492 210.5L491.7 210.3L492 210.3L492.2 209.9L492.3 210.5L493 210.1L492.7 210.3L493.1 210.1L493.2 210L493.5 209.8L493.2 209.7L493.8 210.4L493.6 210L493.7 210.6L494.1 209.8L494.4 209.4L494.2 210.3L494.7 210.1L494.8 210.2L494.8 209.6L495 208.6L495.2 208.5L495.7 207.6L495.1 207.1L495.8 207.1L495.7 207.4L495.8 206.2L496.1 207L496.4 202.6L496.2 205.3L496.8 204.2L496.8 203.2L497 203.2L497.1 202.5L497.3 202.1L497.4 201L497.7 200L498 202.2L498.2 203.1L498.3 203.9L498.5 204.7L498.4 205.3L498.7 204L499.2 206.6L499.4 208.1L499.3 206.9L499.4 207.2L499.8 206L499.7 206.3L499.9 208.5L500.3 205.2L500.2 208.1L500.7 206.3L500.6 208.8L501.1 207.5L501 208.2L501.2 206.4L501.2 208.7L501.2 208.6L501.3 207.5L501.8 208.8L502 208.4L502.3 207.2L502.3 209L502.4 208.3L502.4 207.7L502.5 206.8L503 206.6L503.2 206.7L503.6 207.6L503.6 207.3L503.7 206.4L503.6 207.3L503.9 204L504.6 205.2L504.5 206.5L504.7 205.4L504.9 205.1L504.9 204.8L505.1 203.7L505.2 203.4L505.4 203.2L505.5 202.6L505.8 201.3L506.1 202.9L506.3 203.7L506.4 204.1L506.6 205L506.8 203.9L506.7 206.3L507.5 206.4L507.3 208.5L507.8 206.9L507.9 206.7L507.7 206.5L508.1 207.1L508 207.1L508.1 208.5L508.5 206.4L509 208.5L509 207.8L508.8 208.9L509.2 208.7L509.6 208.6L509.2 209.3L509.6 209.4L509.7 208L510 207.3L510.4 208.5L510.4 208L510.6 206.7L510.9 208.5L511.1 208.8L511.3 206.5L511.3 209.2L511.5 209L511.8 207.6L511.8 206.5L511.7 208.7L511.8 208.6L512.2 209.3L512.4 208.4L512.6 207.8L512.7 207.7L512.9 207.1L513.2 206L513.5 206.8L513.6 207.6L513.8 208.2L513.9 208.7L514.1 208.8L514.2 209.7L514.6 208.8L514.7 208.6L515 208L515.2 210L515 209.6L515.2 209.5L515.5 210.3L515.5 209L515.9 209.6L516.1 209.9L515.8 210L516.4 209.3L516.1 209.4L516.4 209.9L516.7 209.6L517 209.6L517.2 209.4L516.8 208.6L517.1 209.7L517.6 209.9L517.6 210.4L517.8 209.2L517.7 209.9L518.3 209.6L518.4 209.5L518.3 208.9L518.7 208.4L518.6 209.8L518.6 209.9L518.9 209.4L519.1 209.5L519.3 209.5L519.3 209.8L519.4 209.5L519.8 209.1L519.7 209.9L519.9 209.8L520 209.1L520.1 209.2L520.4 209.1L520.3 209.7L520.6 209.8L521.1 210.1L520.9 209.7L521.2 209.9L521.1 209.5L521.5 209.8L521.8 209.7L521.9 209.7L521.6 209.3L521.9 210L522.3 210.4L522.3 209.6L522.6 210.1L522.5 209.7L523 209.7L522.9 209.6L522.8 209.7L523.4 209.3L523.1 210.3L523.6 209.8L523.4 210.2L523.9 209.4L523.9 210.2L524.1 210.1L524.8 209.7L524.5 210.2L524.5 209.8L524.8 210.1L524.6 209.7L524.9 209.6L525.3 209.9L525.5 210.2L525.4 210.4L526.1 209.5L525.7 209.8L526.1 209.4L526.1 210L526.3 209.9L526.4 209L526.6 210L526.8 209.4L526.9 209.6L527.1 210L527.1 209.8L527.3 209.6L527.4 209.3L527.6 209.8L527.8 210.2L528 210L528 210.5L528.6 210.6L528.4 210.4L528.5 209.7L528.5 210.4L528.6 210.3L528.9 210.3L529.5 210.2L529.2 209.9L529.3 209.8L529.8 209.7L529.7 209.8L530.2 209.7L529.7 209.8L530.3 210.1L530.4 210.4L530.3 209.6L530.8 209.5L530.7 209L531.1 208.5L531.4 208.8L531.3 208.4L531.2 206.9L531.1 206.8L531.5 207.1L531.9 206.4L532.1 204.3L531.9 203.8L532.5 203.9L533.1 206.5L533.1 203.8L533.6 204.2L533.5 199.5L533.8 200.8L533.6 201.3L534 200L533.9 197.6L534.3 197.4L534.5 197.5L534.6 196.7L534.8 195.8L535 194.9L535.2 196.5L535.4 197.4L535.5 198L535.7 198.7L535.8 199.2L535.9 198L536.4 201.6L536.2 201.1L536.8 202.5L536.9 203.8L536.6 204.3L537 201.8L537.5 204.7L537.7 206.4L537.8 205.3L537.8 206.3L537.9 204.3L538.4 204.8L538.4 207.1L538.6 204.4L538.7 207.2L538.7 205.8L539.3 204.4L539 206.1L539.5 207.4L539.5 206.7L540 205.4L539.9 207.8L539.8 208L540.2 207.2L540.3 207.4L540.8 204.6L540.3 206.8L540.5 207.6L540.7 206.5L541.3 206.6L541 206.1L541.5 205.3L541.6 206.4L541.4 207.3L542.2 203.1L542.4 201.2L542.2 199.6L542.9 197.3L543 196.4L543.2 195.7L543.3 194.4L543.6 193.2L543.9 194.8L544.1 196.6L544.2 197L544.4 198.2L544.7 199.3L544.6 200.5L545.5 203.1L545.3 203.6L545.1 205.1L545.5 206.2L546 207.4L546.3 207.2L546.1 207.6L546.3 205.7L546.4 206.9L546.2 206.6L547 207.3L547.1 205.7L547.3 207.6L547.2 207.1L547.2 208.1L547.6 206.8L548 206.6L548 207.1L548.4 207.8L548.5 206.1L548.2 207.8L548.9 206.5L549.1 205.9L548.9 205.1L548.8 206.5L549.3 208L549.6 207.7L549.8 206.8L550 207.6L549.7 207.3L550.2 207.6L550.3 206.7L550.6 207.3L550.6 205.2L551.3 205.8L551.1 205.9L551.3 205.2L551.4 205L551.6 204.4L551.7 204.6L552 204.1L552.3 205.1L552.5 205.7L552.6 206.4L552.8 206.9L552.9 206.7L553.2 206.6L553.2 209.6L554.2 207.4L553.8 209.3L553.7 208.4L554.2 209.6L554.2 209.9L554.4 208.5L554.7 209.5L554.5 208.5L555 207.5L554.7 209.6L555.6 209.6L555.5 209.5L555.5 210.2L555.5 207.8L555.6 208.3L556.2 210.3L556.2 210.1L556.2 209.9L556.4 210.6L556.5 210.3L556.8 209.7L557.2 209.8L557.1 210.6L557.2 209.5L557.4 210.6L557.3 210.6L557.5 209.9L557.5 210.3L557.9 210.3L558.2 209.8L558.4 209.7L558.6 210.3L558.8 210L558.6 209.7L559.1 210.6L559.4 210.6L559.5 210.4L559.5 210L559.8 210L560 209.5L559.8 210.4L560 210.2L560.1 209.8L559.9 210L560.3 210L560.8 209.8L560.8 209.9L560.9 210.6L560.9 210.3L561 210.5L561.8 209.9L561.5 210.5L561.6 210.1L562 210.5L562.1 210L561.9 209.5L561.9 210.5L562.4 209.9L562.6 209.7L562.8 210.6L562.8 209.8L562.8 209.8L563.2 209.9L563.3 210.4L563.5 210.4L563.4 209.8L563.9 209.8L563.7 210.6L564.2 210.2L564.2 209.9L564.4 210.4L564.4 210.5L564.7 210.2L565 209.3L564.7 210.6L565.2 210.2L565 209.8L565.5 210.4L565.4 210.6L565.5 210.5L565.8 210L566 210.4L566.3 209.5L566 209L566.3 210.6L566.9 210.1L566.7 209.8L567 209.8L566.7 210.6L567.6 209.7L567.1 210.5L567.4 209.8L567.8 209.4L568.1 210.2L567.9 210L568.3 209.7L568.1 210.6L568.5 210L568.6 210.5L568.6 210.3L568.8 209.8L569 210.4L568.9 209.8L569 210.3L569.6 210.1L569.8 210.6L569.8 210L569.9 210.4L570.1 210.5L570.3 210.5L570.1 210L570.3 210.3L570.8 210.4L570.8 210.5L571.1 209.2L571.4 209.7L570.8 209.2L571.3 210.1L571.2 209.9L571.7 209.7L572.1 210.2L571.9 210.5L572.1 210.5L572.4 210.1L572.2 210.1L572.8 209.3L572.6 210L572.6 210L573.1 209.7L573.6 210.6L573.1 209.4L573.6 210L573.6 210L574.4 207.9L574.1 205.5L574.5 206.4L574.6 203.6L574.7 205.9L575 205.3L575 204.1L575.2 201.6L575.1 202.8L575.3 199.7L575.5 200.1L575.9 200.1L575.5 197.8L576.3 195.5L576.1 190.6L576.9 189.9L577 184.5L577.2 183.8L577.4 183.5L577.7 182.6L578 183L578.1 184.1L578.5 184.9L578.7 186.2L579 191.5L579.1 191.3L579.2 191.2L579.3 199.1L579.8 198.9L580.1 201.4L579.9 200.9L580.2 202.1L580.3 202.8L580.4 201.8L580.8 204.3L581.2 203.9L581.2 204.7L581.5 202.9L581.1 202.9L581.7 201.5L581.7 204.5L581.6 203.2L581.7 202.1L582.2 202.8L582.2 201.7L582.5 204.2L583 203.3L582.9 203.4L582.8 202.4L583.6 204.7L583.7 204.9L583.4 206.6L583.6 205.1L583.9 206.5L584.1 205.2L584.2 199.6L585 200.6L584.9 197.9L585 195.2L585 191.6L585.2 187.9L586.1 183.6L585.9 181.8L586.2 179.7L586.2 177.8L586.5 176.9L586.7 176.3L587 175.3L587.3 175.9L587.4 176.9L587.8 178.3L588.3 187.6L588.3 186.8L588.5 192L588.3 193.8L588.6 196.3L589.1 197.8L588.7 199.5L589.3 199.8L589.3 199L589.5 200.7L590.2 200.2L590 201.2L589.9 201.5L590.4 202.5L590.2 203.9L590.6 204L590.9 203L590.7 205.2L591.2 205L591 203.3L591.2 205.6L591.8 206.2L591.4 205.4L591.9 205.8L592.2 207.9L592.5 204.6L592.4 208.3L592.7 206.7L592.4 205.5L593 208.1L593.1 206.3L593.4 208.3L593.4 203.9L593.7 204.5L593.7 205.5L593.7 205.7L593.8 204.1L594.1 202.5L593.9 204.7L594 201.4L595.1 201.7L594.4 203.3L594.9 203.9L595.2 202.2L595.5 201.5L595.7 201.5L596 200.7L596.3 201.7L596.4 201.9L596.8 202.2L597 200.3L597.4 204.5L597.6 201.5L597.3 205.8L597.6 206.5L597.9 204.3L598.2 206.3L598.1 206.1L598.2 205.5L598.2 207.3L598.5 208.1L599 209.2L599.1 209.8L598.9 208.9L599.5 209.7L599.5 209.3L599.6 208.4L599.8 208.3L599.9 207.7L600 209.5L600.4 209.7L600.6 209.8L600.6 210.2L600.7 209.3L600.9 209.6L600.7 209.4L600.9 210.3L601.2 209.6L601.4 209.5L601.2 209.9L601.6 210L601.9 209.6L602.5 210L601.9 209.3L602 209.7L602.5 210.1L602.5 209.8L603 209.6L602.6 209.9L603.1 210.4L603.1 210.4L603.3 210L603.9 209.7L604.1 209.3L604.3 208.3L604.2 209L604.4 208.8L604.5 208.5L604.7 208.3L605 207.8L605.3 208.2L605.4 208.7L605.6 208.8L605.7 209L605.9 209.3L606.2 208.4L606.3 209L606.3 209.5L606.8 209.6L606.8 210.4L606.9 209.9L607.5 210.1L607 210.4L607.5 210L607.6 210.3L607.2 210.5L607.9 209.8L607.9 210.4L608 210.1L608.5 210.4L608.3 209.8L608.6 209.9L608.7 210.6L608.6 209.7L609.4 210.2L609.2 209.8L609.5 210.2L609.7 210.5L609.7 209.9L610.3 210.3L610 210.4L610.1 209.8L610.3 210.3L610.2 209.8L610.5 210.3L610.8 210L610.6 210L611.2 210.6L611.1 209.5L611.1 210.5L611.2 210.1L611.7 210.2L611.7 209.8L612.2 210.4L611.8 210.4L612.1 209.6L612.4 210.2L612.4 210.1L612.7 210.1L612.8 209.8L613.4 210.5L613.4 210.4L613.3 210.4L613.4 209.9L613.6 210.6L613.6 209L613.9 209.8L613.9 210L614.3 209.5L614.2 210.2L614.2 210.1L614.7 210.2L614.6 210.1L615 210.5L615.2 210.1L615.2 210.3L615.3 210L615.4 209.9L615.5 210.5L615.9 210.5L615.5 209.6L616.1 209.9L616.5 210.1L616.6 210.2L616.7 210.2L617.1 209.4L616.9 209.3L617.1 210.3L617 209.8L617.5 210.4L617.3 210L617.7 209.9L618 210.3L618 209.9L618.3 210.5L618.2 210.5L617.9 210.3L618.4 209.4L618.7 209.9L618.8 210.4L618.8 210.6L619 210L619.1 209.4L619.6 210L619.3 210.5L619.5 209.7L619.6 210.6L619.9 210L620.1 210.4L620.6 209.9L620.4 209.8L620.8 210.4L621 210L620.5 210.6L620.8 210.6L620.9 210.1L621.4 210.3L621.5 210.2L621.3 210.2L621.4 210.6L622 210.1L622 210.6L622 208.8L622.4 210.6L622.8 208.7L623.1 208.3L623.6 207.3L623.1 206.7L623.4 204.8L624 204.6L623.9 204L624.1 203.6L623.9 203.7L624.2 203.9L624.1 203.7L624.6 200.5L624.6 202.3L624.8 200.3L624.9 200.3L625.2 199.4L625.8 192.3L625.8 188.6L626 188.2L626.5 184L626.2 179.8L626.6 176.4L626.7 177.2L627 175.1L627.3 177.9L627.5 178.3L627.8 180L628.1 186.8L628.3 189.2L628.4 193.1L628.5 200L629.5 199.3L629.1 201.4L629.2 201.2L629.3 201.5L629.5 201.2L630 201.4L630.1 202.6L629.8 203.4L630.2 202.2L630.4 203.2L631.3 203L630.5 202.2L630.9 204L631.2 203.7L631.1 202.6L631.4 202.9L631.5 204L631.7 203.7L631.8 203.8L632 203.8L632.1 203.6L632.3 204.1L632.5 203.8L632.7 203.8L632.9 204L633 203.9L633.2 204L633.3 204.1L633.6 203.6L633.6 203.8L634 201.3L633.6 204.6L634.2 202L634.3 204.9L634.7 205.6L634.7 197.5L634.8 195.8L635.1 191.8L635 193.2L635.5 189.9L635.9 187.8L636 182.5L636.2 181.2L636.3 178.1L636.5 176.4L636.8 172.3L637.1 173.6L637.2 174L637.5 176L637.6 180L637.9 184.7L637.9 186.9L638.8 189L638.5 193.8L638.9 193.7L638.6 194.3L639.4 196.5L639.3 196.6L639.3 197.2L639.5 197.1L639.9 196.7L640.1 197.8L639.9 198.4L640.1 199.4L640.3 200.6L640.4 200.7L640.7 203.4L640.9 201.3L641.1 202.1L640.7 201.9L641.4 203.5L641.6 203.6L641.4 204.8L641.8 205L641.7 204.5L642.1 204.7L642.2 203.1L642.9 206L642.9 206.8L642.7 206.8L642.9 207.8L643 207.3L643.2 208.1L643.8 207.9L643.9 207.8L643.4 208.7L644.1 206L643.9 205L644.7 206.5L644.4 206.1L644.7 205.4L644.7 204.6L645 202.3L645.2 200.3L645.4 200.7L645.6 200.8L645.5 199.7L646 200.4L646.2 199.4L646.4 199.3L646.7 198L647 199L647.1 199.6L647.5 200L648.1 200.8L648.2 200.6L648 202L648 202.6L648.7 203.2L648 202.9L648.4 204.1L648.7 205.2L649.1 204.3L648.6 202.8L649.1 207.5L649.3 208.1L649.9 205.5L649.6 207.5L650.7 208.3L650.5 208.1L650.2 207.6L650.5 208.6L650.6 208.5L650.8 208.1L650.6 208.3L651.3 206.7L651.4 208.5L651.4 207.7L651.8 206.4L651.4 208L651.6 209.5L652.2 209.3L652.1 208.4L652 209.1L652.7 209.1L652.4 209.2L653 208.9L653.2 209.7L653.3 209.8L653.7 208.8L653.4 210L653.6 209.8L654.1 210.2L654 209.8L654.4 209.8L654.5 209.7L654.4 210.1L654.2 209.9L654.8 210L655.2 210.2L654.9 210.1L655.4 210.2L655.3 209.9L655.3 209.9L655.7 209.6L655.7 210.6L656.4 210.2L656.9 209.8L656.7 209.7L656.8 209.9L656.7 210.6L657 209.5L657.4 210.2L657.5 210.3L657.5 209.9L657.8 210.2L658 210.6L657.7 210.6L658.2 209.5L658 210.4L658.3 209.9L658.7 210.6L659 209.7L658.8 210.2L658.9 210.4L659.1 209.6L659.4 210.3L659.4 209.9L659.5 210.4L659.9 210.1L659.8 210.6L660.4 210.4L660.2 210L660 209.9L660.7 209.6L660.8 210.3L660.8 210.3L661 210.5L661.1 210.2L661 209.8L661.1 210.2L661.5 210.1L661.8 210.5L661.6 209.7L662.1 210.1L662.1 210.5L662 209.9L662.2 210.2L662.4 209.8L662.5 210.4L662.9 209.8L662.8 210L663.4 210.4L663.3 210L663.5 210.3L664 210.5L663.6 210.1L664.1 210L663.8 210.6L664.2 210.3L664.2 210.2L664.4 210.4L664.9 209.8L664.7 210.6L664.7 209.9L665 210L665.3 210L665.5 210.1L665.6 210.4L665.3 210.1L665.9 209.6L666.6 210.1L666.2 210.4L666.3 210.2L666.6 209.7L666.2 209.7L666.6 210.2L667.2 210L667.2 210.4L667.1 209.6L667.3 210.2L667.4 209.8L667.8 210.2L668.1 210.3L667.7 209.8L668.3 210.4L668.2 210.6L668.6 210.1L668.8 209.7L668.8 210.3L669.1 209.9L669 210.3L669.3 210.5L669.2 209.9L669.6 210.2L669.7 210.2L669.7 209.8L669.7 210L669.9 209.9L670.5 210.1L670.3 209.8L670.6 210.3L671.1 210.6L670.5 210.4L670.8 210.4L671.1 210.5L671.3 210.1L671.4 209.8L672 210.2L671.6 210.6L671.7 209.9L672.1 210.2L672.2 209.3L672.3 210L672.5 209.9L672.6 210.2L672.9 210.4L672.6 209.8L673.6 210.1L673.5 210.3L673.5 209.9L673.8 210.5L673.6 209.9L673.9 210.2L674.2 210.6L674.2 210.3L674.3 209.7L674.6 209.8L674.5 210.4L674.5 210.5L674.6 210.1L675 209.7L675.3 210.6L675.1 210L675.6 210.6L675.8 210.1L676.1 210.1L675.9 209.7L675.8 210.2L676.1 210.2L676.1 210.3L676.3 209.7L676.5 210.6L677.2 210.2L676.8 209.6L677.2 209.5L677.4 210.6L677.2 209.8L678.1 210.4L677.6 210.5L677.5 209.6L678 210.5L678 209.7L678.3 209.8L678.4 209.6L678.8 210L678.9 210.6L679.5 209.5L678.9 210.6L679.6 210.3L679.8 210.2L679.5 210.4L680.2 210L680 210.2L680.1 210.4L680.5 210.4L680.4 210.4L680.4 209.7L680.8 209.9L680.7 209.8L681.1 209.9L681.2 210.2L681 209.5L681.6 209.9L681.9 209.1L681.8 207.9L681.7 207.7L682.1 206.9L682.5 206.1L682.7 205.2L682.8 200.8L683.1 199.6L683.3 198.7L683.5 193.7L683.7 192.9L683.9 192.6L684.2 191.4L684.5 192L684.6 192.7L685 193.4L685.4 197.6L685.6 197.6L685.3 202.1L685.8 205.9L686 206.8L686.4 205.4L686.7 207.3L686.5 206.3L686.6 205.7L686.6 206.4L687 205.6L687.2 206.4L687.7 206.1L687.2 204.9L687.7 207.4L687.9 208.1L688.2 207L688.1 207.3L688.5 206L688.2 207.2L688.6 207.9L689 208.4L688.9 206.6L689.1 207.6L689.5 208.6L689.3 208L689.4 205.1L689.6 208L690 208.5L690.2 206.5L690 206.4L690.2 208.1L690.5 207.2L690.8 206.2L690.9 206.7L690.9 207.6L691 208.2L691 207.3L691.5 207.7L691.8 208L691.7 207.1L691.8 208.9L692.2 207.6L692.2 208.1L692 205.1L691.7 208L692.5 208.5L693 205.9L693.4 203.3L693.4 205.7L693.4 204.7L693.5 203.6L693.9 202.9L693.8 202L694.2 200.7L694.4 200.5L694.5 198.4L694.7 199L694.8 198.4L695.1 196.7L695.4 199.1L695.6 200L695.7 200.6L695.9 201.5L696.4 200.2L696.3 203.5L696 203L696.6 204.5L696.8 204.6L696.5 207.4L697.4 206.6L697.4 205.5L697.6 206.1L697.4 207.1L697.7 207.8L698.2 208.1L698.3 207.5L698.4 208.2L698.3 209L698.8 208.3L698.6 208.5L699 207.5L699.5 207L699.3 207.5L699.7 206.6L699.5 209L699.6 209.4L700.2 208.9L700 209.6L700.2 209.7L700.6 209.6L700.7 209.5L701 209.8L701.1 208.8L701.1 209.4L701.1 208.6L701.3 209.2L701.5 209.7L701.8 208.7L701.8 209.3L702 208.5L702.3 209.3L702.3 209.6L702.4 209.1L702.5 209.1L703.2 209.5L703 209.3L702.8 208.7L703.3 209.1L703.4 209.1L703.7 209.4L703.7 209.2L703.6 208.9L703.7 208.7L704.1 208.5L704.2 208.2L704.4 208.8L704.7 208.8L704.9 208.2L705 207.9L705.2 207.5L705.5 206.9L705.8 207.3L705.9 207.7L706.1 207.8L706.2 208.3L706.4 208.4L706.7 208.8L706.9 208.8L706.9 209.8L707 209.8L707.4 208.9L707.5 209.3L707.6 209.9L707.9 210.1L708 209.9L708.2 210.5L708.3 210.3L708.7 210.6L709.1 209.9L708.8 209.7L709 210.3L709.4 210.3L709.2 209.9L709.3 210.2L710 210.1L709.5 210.6L709.7 210.1L710.3 210.1L710.6 210.3L710.1 210.5L710.5 210.4L710.8 210.4L710.6 210.5L711.1 210.1L711.1 209.6L711.7 209.8L711.3 210.6L711.6 210.5L711.8 209.7L711.8 209.8L712.1 210.4L712.3 210.1L712.3 210.4L712.7 209.7L712.6 210.3L712.6 210.2L712.8 210.5L713.5 210.2L713.6 210.3L713.4 209.8L713.6 210.5L713.7 210.5L714 210.1L714.3 210.1L714 210.1L714.7 210L714.4 210.1L714.6 210.6L714.7 210.5L715.2 209.7L715 210.1L715.4 210.1L715.7 209.9L715.3 210.2L715.5 210.5L716.1 210.3L716 210.2L715.9 209.5L716.5 210.3L716.8 209.7L716.7 210.3L716.9 210.3L717.2 210.1L717.2 209.9L717 210.1L717.3 210.2L717.7 210.1L717.5 209.8L717.6 210L717.9 210.5L718.2 210.6L718.2 210.1L718.4 209.9L718.8 210.6L718.5 210.5L718.8 210.5L718.9 209.6L718.9 210.5L719.2 210.3L719.5 210L719.7 209.4L719.7 210.6L719.9 210.1L720 210L720.4 210.5L720.4 210.3L720.6 210.2L720.7 210.4L720.9 210.4L721 210.3L720.9 210.2L721.2 210.1L721.6 210L721.3 210.1L721.5 209.6L721.4 210.1L721.6 210L722.3 210.5L722.1 209.6L722.3 210.6L722.3 210.4L722.9 210.3L723 209.9L723.1 210.1L722.9 210.6L723.5 210L723.5 209.8L723.3 210.6L724.2 210.4L724.1 210.2L724.1 210.1L723.7 210.4L724.3 209.5L724.3 210.3L725.1 210.1L724.9 210.4L725.1 210.4L725.4 210.4L725.4 210.4L725.5 210.6L725.7 210.1L725.9 210.2L726 210L726.2 210.4L726.3 210.1L726.1 210L726.7 210L726.7 210.4L726.7 209.7L727.1 209.6L727.2 209.5L727.3 209.9L727.3 209.5L727.6 209.7L727.7 209.6L728.1 210.6L728 210.3L728.3 210L728.2 209.7L728.5 209.9L728.3 210.6L729 209.9L729.1 210.3L729 210.4L729.1 209.9L729.2 210L729.6 210L729.9 210.1L729.5 210L729.8 210L730.1 210.6L730.5 210.4L730.3 209.7L730.3 210.4L730.7 210.3L731 210L731.1 210.5L731.1 210.2L731.2 210.6L731.8 209.4L731.5 210.4L731.9 209.6L732.2 210.3L731.9 210.4L732.4 210.6L732.6 210.3L732.6 210L732.6 210.5L733 210.2L733 210.5L732.8 209.2L733.3 210.2L733.4 209.3L733.9 210.4L734.1 209.9L734 209.9L734.3 210.4L733.8 210.3L734.5 210.5L734.4 210.6L734.7 210.3L735.2 210.2L735 209.9L735.2 210.4L734.9 210.2L735.2 210.2L735.6 210.4L735.5 210.1L735.9 210L735.6 210.2L736.3 210.6L736.3 209.9L736.5 209.8L736.8 210.1L736.9 209.9L736.6 209.8L737.1 210.5L737.1 210.1L737.5 210.6L737.5 210.6L737.7 210.1L737.9 210L738.2 210.2L738 210.6L737.8 210.4L738.3 210L738.2 210.2L738.6 210.6L738.4 209.8L738.9 210.2L739.2 210.2L739.4 210.1L739.3 210.6L739.4 209.8L739.6 210.3L739.7 210.2L739.6 210.5L740 210.2L740.3 210.3L740.5 210L740.7 208.9L740.7 210.5L740.9 210.3L741.3 210.1L741.1 210.6L741.2 209.5L741.5 210.6L741.6 210.1L742 210L742.1 209.8L742 210.4L742 209.8L742.1 210.3L742.3 209.8L742.8 210.6L742.8 210.1L742.7 210.6L743.4 210.4L743.4 210.1L743.4 210.2L744 209.7L743.2 209.9L744.1 209.8L743.8 209.8L744.4 210.6L744.5 209.9L744.5 210.4L744.4 210.4L744.9 210.2L744.8 210.3L745.4 209.8L745.3 210.6L745.5 210.4L745.6 210.5L746.1 209.7L745.8 209.9L745.9 209.6L746.3 210.4L745.8 210.2L746.2 210L747 210.2L746.9 210.2L746.9 210L747.4 210.6L747.5 210.3L747.3 210.3L747.5 210.4L748.1 210.2L748 209.7L747.9 210.3L747.9 209.3L748.3 210.4L748.3 210.1L748.7 209.5L748.5 210.3L748.7 210.6L748.8 209.8L749.2 210.1L749.3 209.5L749.6 209.3L749.9 210.1L750 208.6L750.1 205.9L749.9 208.7L750.5 207.5L750.8 207.4L750.9 206.8L751.1 206.9L751.3 206.9L751.5 206.9L751.7 207L751.8 206.9L752 207.3L752.1 206.9L752.5 207.7L752.3 208L753.1 206.2L753 206.6L753.2 208.5L753.3 208.2L753.6 209.1L753.6 207.8L754 208.2L754.2 209.9L754.3 210.5L754.4 210L754.8 210.3L754.5 209.7L755 210.6L755.4 210.1L755.2 210.3L755.5 210.3L755.5 209.7L755.8 210.3L755.7 210.2L755.8 210.4L755.7 210.6L756.1 210.5L756.4 210L756.5 210.1L756.5 209.9L756.8 210.6L757.2 209.5L757.5 210.6L757.3 209.7L757 210.2L757.6 210.2L757.9 210L758 210.5L758 210.2L758.3 210.4L758.3 210.6L758.9 210.6L758.3 209.7L758.7 210.2L758.7 209.9L758.9 209.8L759 210L759.1 210.2L758.8 210.1L760.1 210.5L759.4 210.2L759.8 209.8L759.9 210.4L760 210.2L760.4 210.5L760.5 210.2L760.9 210.2L760.7 209.9L761 210L760.7 210.6L761.3 209.5L761.7 210L761.6 210.1L762.1 210.1L761.8 210.6L762 209.8L762.1 208L762.4 210.2L762.7 209.5L762.9 209.5L763.1 209.4L763.2 209L763.4 209.3L763.7 208.2L764 209.1L764.1 209L764.3 209.1L764.4 209.8L764.6 210L765.2 209.6L765 209.7L765.5 210.6L765.6 210.4L765.8 209.7L765.7 210.3L766 210.3L766.2 209.9L766.3 209.8L766.5 210.5L766.3 210.4L766.4 209.8L766.1 210.2L767 210.5L767.1 210.2L767.4 210.6L767.2 209.7L767.6 210.5L767.7 210.2L767.7 209.8L767.8 209.8L767.8 210.2L768.1 209.8L768.3 210.6L768.1 210.3L768.3 209.5L768.7 210.1L769.3 210.6L769.2 210.1L768.9 209.5L769.2 210.6L769.7 210.3L769.9 210.4L769.8 210L770 209.8L770 210.1L770.5 210.4L770.8 209.6L770.5 210.3L770.8 209.7L771 210.4L771.2 210.3L771.5 210L771.6 210.6L771.6 210.6L771.4 210.4L771.7 210.1L771.8 210.2L772 209.6L772.4 210.5L772.3 207.7" fill="none" stroke="#000" stroke-width="0.55" stroke-linejoin="round"/><line x1="35" y1="210.1" x2="162" y2="210.1" stroke="#000" stroke-width="0.9"/><line x1="162" y1="210.1" x2="215" y2="210.1" stroke="#666" stroke-width="0.6"/><line x1="215" y1="210.1" x2="330" y2="210.1" stroke="#000" stroke-width="0.8"/><line x1="440" y1="210.2" x2="772.5" y2="210.2" stroke="#555" stroke-width="0.6"/><line x1="34" y1="213.8" x2="773" y2="213.8" stroke="#444" stroke-width="1.8"/><line x1="77.2" y1="210.5" x2="77.2" y2="213.5" stroke="#000" stroke-width="1.2"/><line x1="148.1" y1="210.5" x2="148.1" y2="213.5" stroke="#000" stroke-width="1.2"/><line x1="219.1" y1="210.5" x2="219.1" y2="213.5" stroke="#000" stroke-width="1.2"/><line x1="290.0" y1="210.5" x2="290.0" y2="213.5" stroke="#000" stroke-width="1.2"/><line x1="361.0" y1="210.5" x2="361.0" y2="213.5" stroke="#000" stroke-width="1.2"/><line x1="431.9" y1="210.5" x2="431.9" y2="213.5" stroke="#000" stroke-width="1.2"/><line x1="502.8" y1="210.5" x2="502.8" y2="213.5" stroke="#000" stroke-width="1.2"/><line x1="573.8" y1="210.5" x2="573.8" y2="213.5" stroke="#000" stroke-width="1.2"/><line x1="644.7" y1="210.5" x2="644.7" y2="213.5" stroke="#000" stroke-width="1.2"/><line x1="715.7" y1="210.5" x2="715.7" y2="213.5" stroke="#000" stroke-width="1.2"/><text x="3.1" y="260.2" font-size="23.8" fill="#000" font-weight="bold" text-anchor="start" textLength="28.2" lengthAdjust="spacingAndGlyphs">(b)</text><rect x="469.5" y="252.5" width="210.5" height="174" fill="#EFEFF8" stroke="#C6C6EA" stroke-width="1.2"/><text x="536.6" y="246.9" font-size="16" fill="#2E3192" font-weight="bold" text-anchor="start" textLength="80.9" lengthAdjust="spacingAndGlyphs">intact ADC</text><path d="M35 423.5L35.3 423.3L35.4 419.2L35.6 424.3L35.7 421.6L35.9 420L36 424L36.2 424L36.3 423.8L36.5 421.1L36.6 422.1L36.8 424.1L36.9 422.8L37.1 420.5L37.2 422.9L37.4 421.5L37.5 416.8L37.7 421L37.8 422.9L38 423.8L38.1 423.1L38.3 422.5L38.4 418.3L38.6 419.8L38.7 423.2L38.9 418.3L39 422.3L39.2 421L39.3 424.3L39.5 424.3L39.6 423.5L39.8 418.4L39.9 420.5L40.1 419.3L40.2 421.2L40.4 423.1L40.5 422.3L40.7 421.7L40.8 419L41 423.4L41.1 418.5L41.3 421.8L41.4 419.3L41.6 422.5L41.7 420.3L41.9 423.2L42 422L42.2 424.1L42.3 423.3L42.5 423.6L42.6 420.4L42.8 422.8L42.9 418.1L43.1 419L43.2 423.3L43.4 417.5L43.5 422.1L43.7 420L43.8 423.3L44 423.8L44.1 423.8L44.3 424.2L44.4 422L44.6 424.3L44.7 423.7L44.9 419.4L45 424.3L45.2 423L45.3 422.4L45.5 421.1L45.6 422L45.8 418.1L45.9 420L46.1 421.7L46.2 421.4L46.4 422.3L46.5 417.4L46.7 423.8L46.8 420.8L47 421.8L47.1 424L47.3 423.1L47.4 417.9L47.6 420L47.7 424.3L47.9 423.9L48 424.2L48.2 418.9L48.3 423.9L48.5 423.9L48.6 417.3L48.8 423.1L48.9 423.3L49.1 424.3L49.2 422.7L49.4 423.3L49.5 422.4L49.7 424L49.8 424.3L50 423.8L50.1 423.4L50.3 424.3L50.4 421.9L50.6 424L50.7 420L50.9 420.1L51 424.2L51.2 424L51.3 422.8L51.5 421.8L51.6 424.1L51.8 423.8L51.9 423L52.1 422.3L52.2 419.6L52.4 420.1L52.5 420.9L52.7 424L52.8 419.4L53 422.1L53.1 423.6L53.3 424.3L53.4 422.6L53.6 423.4L53.7 423.1L53.9 420.8L54 420.3L54.2 422.4L54.3 421.1L54.5 423.5L54.6 419.9L54.8 422.4L54.9 419.4L55.1 424.3L55.2 420.5L55.4 422.3L55.5 421.5L55.7 424.3L55.8 422.5L56 423.8L56.1 423.9L56.3 424.3L56.4 420.7L56.6 421.4L56.7 423.7L56.9 424.1L57 423.2L57.2 420.9L57.3 423.8L57.5 419L57.6 419.7L57.8 424.2L57.9 422.5L58.1 424.3L58.2 421.3L58.4 424.3L58.5 423.2L58.7 423.1L58.8 422.1L59 422.3L59.1 419.8L59.3 424.3L59.4 423.8L59.6 423.2L59.7 422.7L59.9 419.5L60 421.8L60.2 421.5L60.3 419.2L60.5 424.1L60.6 423.8L60.8 423.1L60.9 423.6L61.1 421.5L61.2 419.3L61.4 424.2L61.5 422.9L61.7 421.9L61.8 423.4L62 420L62.1 421.9L62.3 421.1L62.4 424.3L62.6 424.3L62.7 424L62.9 421.4L63 420.3L63.2 424.1L63.3 421.6L63.5 422.3L63.6 421.2L63.8 423.9L63.9 422.1L64.1 424.1L64.2 424.3L64.4 422.1L64.5 424.3L64.7 422.7L64.8 424.2L65 423.1L65.1 420.8L65.3 423.9L65.4 423.2L65.6 424L65.7 423.9L65.9 423.5L66 424L66.2 421.3L66.3 423L66.5 423.5L66.6 420.7L66.8 423.3L66.9 422.5L67.1 422.1L67.2 424L67.4 424.2L67.5 420.7L67.7 420.3L67.8 424.3L68 424.3L68.1 424.1L68.3 423.1L68.4 420.3L68.6 420.4L68.7 420.1L68.9 424.3L69 422.6L69.2 423.4L69.3 423.8L69.5 424.3L69.6 424.3L69.8 423.6L69.9 423.7L70.1 423.9L70.2 424.3L70.4 422.5L70.5 423.1L70.7 424.2L70.8 423L71 423.2L71.1 422.5L71.3 420.3L71.4 423.7L71.6 423L71.7 423.4L71.9 421L72 422.1L72.2 424.2L72.3 423.3L72.5 424L72.6 423.9L72.8 423.6L72.9 421.1L73.1 423.8L73.2 424.2L73.4 423L73.5 423.4L73.7 421.9L73.8 423.8L74 424.3L74.1 424.2L74.3 424.3L74.4 421.4L74.6 423.9L74.7 424.1L74.9 423.9L75 422L75.2 423.7L75.3 422.7L75.5 424L75.6 424.2L75.8 423.4L75.9 421.6L76.1 421L76.2 423.9L76.4 420.8L76.5 424.3L76.7 423.4L76.8 424.1L77 422.9L77.1 423.6L77.3 420.9L77.4 423.9L77.6 420.3L77.7 424.1L77.9 423.1L78 423.1L78.2 421.8L78.3 423.5L78.5 423.1L78.6 424.1L78.8 423.5L78.9 422.3L79.1 424.2L79.2 423L79.4 424.3L79.5 423.3L79.7 424.3L79.8 421.5L80 422L80.1 423.3L80.3 423.5L80.4 422.3L80.6 422.9L80.7 420.8L80.9 420.7L81 423.2L81.2 422.7L81.3 423L81.5 423.9L81.6 423.7L81.8 421.9L81.9 423L82.1 422.5L82.2 423L82.4 420.8L82.5 421.4L82.7 424L82.8 421.2L83 420.8L83.1 421.6L83.3 424.2L83.4 424.1L83.6 424.3L83.7 424.3L83.9 423.6L84 421.1L84.2 421.4L84.3 422.7L84.5 421L84.6 422.6L84.8 424.3L84.9 421.5L85.1 424.1L85.2 420.9L85.4 423.8L85.5 424.3L85.7 422.5L85.8 423.8L86 421.1L86.1 423.3L86.3 421.8L86.4 424.3L86.6 422.6L86.7 422L86.9 424.3L87 422.8L87.2 423.9L87.3 423.9L87.5 423.9L87.6 422.9L87.8 423.5L87.9 423.9L88.1 422.2L88.2 422L88.4 423.2L88.5 423.9L88.7 422.3L88.8 423.4L89 423.9L89.1 420.8L89.3 424.2L89.4 421.7L89.6 422.6L89.7 422.4L89.9 422.1L90 421.9L90.2 420.6L90.3 420.5L90.5 423.9L90.6 423.4L90.8 420.9L90.9 423.6L91.1 423.7L91.2 421.2L91.4 420.2L91.5 421.1L91.7 423.2L91.8 423.3L92 420L92.1 422L92.3 422.3L92.4 424L92.6 424.1L92.7 424.3L92.9 420.9L93 423.6L93.2 424.1L93.3 422.7L93.5 424.3L93.6 422.9L93.8 420.3L93.9 421.5L94.1 423.7L94.2 421L94.4 423.9L94.5 423L94.7 423.8L94.8 420.2L95 424.3L95.1 422L95.3 422.5L95.4 422.4L95.6 424.2L95.7 422.8L95.9 420L96 423L96.2 424.3L96.3 424.3L96.5 423.9L96.6 421.7L96.8 424.3L96.9 424L97.1 422.2L97.2 420.8L97.4 423.2L97.5 422.6L97.7 424.1L97.8 423.9L98 423.1L98.1 424.1L98.3 423.2L98.4 424.3L98.6 421.1L98.7 422.4L98.9 424.1L99 424.3L99.2 422L99.3 423.6L99.5 424.3L99.6 424.3L99.8 422L99.9 422.9L100.1 421.4L100.2 424L100.4 422.4L100.5 420.7L100.7 421.2L100.8 421.7L101 423.2L101.1 424L101.3 422.5L101.4 424.3L101.6 424.2L101.7 423.7L101.9 424.1L102 423L102.2 421L102.3 424.3L102.5 421.4L102.6 419.9L102.8 424.3L102.9 423.6L103.1 422.1L103.2 422.2L103.4 424.3L103.5 421.9L103.7 423.7L103.8 423.6L104 422.8L104.1 422.3L104.3 421.3L104.4 422.7L104.6 424.3L104.7 423.1L104.9 424.3L105 421.8L105.2 424.3L105.3 422.4L105.5 421.4L105.6 424.1L105.8 424.1L105.9 421.4L106.1 421L106.2 424.3L106.4 420.2L106.5 424L106.7 423.2L106.8 423.6L107 423.5L107.1 421.1L107.3 422.7L107.4 420.5L107.6 422.6L107.7 420.7L107.9 423.2L108 423L108.2 423.1L108.3 423.8L108.5 421.4L108.6 423.6L108.8 419.7L108.9 424.3L109.1 422.6L109.2 421.6L109.4 422.8L109.5 423.9L109.7 421.4L109.8 423.8L110 423.5L110.1 422.2L110.3 419.8L110.4 424.1L110.6 423.7L110.7 422.5L110.9 423.9L111 420.5L111.2 423.3L111.3 424.1L111.5 423.5L111.6 424L111.8 422.6L111.9 420.7L112.1 424.1L112.2 424.3L112.4 424.3L112.5 422.7L112.7 423.4L112.8 423.7L113 423.8L113.1 421.1L113.3 423.7L113.4 420.8L113.6 424.3L113.7 424.1L113.9 423.5L114 421.8L114.2 421.8L114.3 422.8L114.5 424.3L114.6 422.5L114.8 420.9L114.9 421.7L115.1 420.6L115.2 423.3L115.4 423.5L115.5 423.9L115.7 421.8L115.8 421.4L116 422.8L116.1 421.4L116.3 423.6L116.4 421.4L116.6 422.3L116.7 424.1L116.9 423.3L117 422.1L117.2 424.2L117.3 420.3L117.5 421.2L117.6 424.3L117.8 424.2L117.9 424.3L118.1 420.7L118.2 423.9L118.4 421.7L118.5 423L118.7 424.3L118.8 424.1L119 424.2L119.1 421.5L119.3 423.9L119.4 424.3L119.6 420.5L119.7 423L119.9 423.9L120 420.1L120.2 422.4L120.3 423.3L120.5 423.6L120.6 422.4L120.8 424.3L120.9 420.4L121.1 421.5L121.2 421.9L121.4 421.6L121.5 420.9L121.7 423.3L121.8 420.8L122 424.2L122.1 422L122.3 422.1L122.4 423.7L122.6 424.1L122.7 420.6L122.9 420.3L123 424.3L123.2 422.6L123.3 424.2L123.5 424L123.6 420.5L123.8 422.3L123.9 421.2L124.1 424L124.2 421.5L124.4 422.2L124.5 424L124.7 423.2L124.8 424.3L125 423.1L125.1 424.3L125.3 423.5L125.4 420.8L125.6 423.1L125.7 423.2L125.9 424.1L126 421.4L126.2 422.2L126.3 420.8L126.5 420.7L126.6 420.7L126.8 422.9L126.9 421.7L127.1 424.1L127.2 424.1L127.4 421.5L127.5 422.2L127.7 421L127.8 424.3L128 422.6L128.1 421.6L128.3 422.5L128.4 421L128.6 423.8L128.7 420.2L128.9 421.3L129 420.2L129.2 423.6L129.3 420.6L129.5 423.6L129.6 422.7L129.8 419.8L129.9 423L130.1 422.2L130.2 423.2L130.4 423L130.5 423.2L130.7 422.7L130.8 422.9L131 423.4L131.1 423.9L131.3 419.9L131.4 422.5L131.6 424.2L131.7 423.6L131.9 422.2L132 424.1L132.2 420.5L132.3 422.9L132.5 422.3L132.6 422.1L132.8 424.3L132.9 420.5L133.1 421.7L133.2 424L133.4 422.7L133.5 422.7L133.7 423.8L133.8 423.8L134 423.4L134.1 421.9L134.3 423L134.4 424.1L134.6 424L134.7 423.8L134.9 422.4L135 422.9L135.2 423.7L135.3 422.6L135.5 422L135.6 423.8L135.8 424.3L135.9 420.1L136.1 423.9L136.2 424L136.4 421.6L136.5 420.3L136.7 423.9L136.8 422.9L137 421L137.1 424.1L137.3 424.2L137.4 422.8L137.6 421.2L137.7 424.3L137.9 423.7L138 423.3L138.2 422.7L138.3 423L138.5 419.8L138.6 420.2L138.8 424.3L138.9 424.2L139.1 423.4L139.2 423.4L139.4 423.9L139.5 422.8L139.7 420.2L139.8 424.2L140 424.3L140.1 422.7L140.3 424.1L140.4 423.9L140.6 423.9L140.7 421.4L140.9 424.2L141 422.8L141.2 423.7L141.3 421.9L141.5 423.1L141.6 424.2L141.8 424L141.9 424.2L142.1 424.3L142.2 423.9L142.4 424.3L142.5 422.7L142.7 423.5L142.8 423.9L143 423.7L143.1 420.2L143.3 420.2L143.4 423.3L143.6 424L143.7 423.9L143.9 424L144 424.3L144.2 420.9L144.3 420.7L144.5 423.4L144.6 422.9L144.8 422.2L144.9 422.1L145.1 421.8L145.2 422.5L145.4 423.1L145.5 424.3L145.7 422.6L145.8 422.4L146 423.9L146.1 423.7L146.3 422.7L146.4 423.3L146.6 421.3L146.7 423.5L146.9 422.5L147 422.5L147.2 424.2L147.3 423.8L147.5 423.3L147.6 424L147.8 424.1L147.9 423.7L148.1 423.2L148.2 424.3L148.4 423L148.5 423.7L148.7 423.4L148.8 424.3L149 421.4L149.1 424.2L149.3 420.5L149.4 422.3L149.6 420.6L149.7 423.2L149.9 423.6L150 424L150.2 420.3L150.3 423.4L150.5 423.9L150.6 424L150.8 424.1L150.9 423.3L151.1 423L151.2 421.1L151.4 423.8L151.5 423.4L151.7 423.6L151.8 423.9L152 423.9L152.1 421.2L152.3 424.2L152.4 423.9L152.6 421.4L152.7 423.3L152.9 424.3L153 422.2L153.2 420.1L153.3 421.9L153.5 419.8L153.6 422.2L153.8 423.7L153.9 421.7L154.1 422.6L154.2 423.7L154.4 422.9L154.5 420.5L154.7 422L154.8 424L155 422.1L155.1 422.2L155.3 423.5L155.4 423.5L155.6 421.6L155.7 424.3L155.9 422.8L156 424.2L156.2 424L156.3 421.9L156.5 423.9L156.6 421.4L156.8 422.1L156.9 422.7L157.1 424.3L157.2 423.6L157.4 421.1L157.5 422.5L157.7 424.1L157.8 423.4L158 423L158.1 422.9L158.3 423.5L158.4 421.3L158.6 422.9L158.7 421.2L158.9 420.4L159 420.9L159.2 421.8L159.3 424.2L159.5 424L159.6 424.3L159.8 423.1L159.9 423.7L160.1 423.9L160.2 420.6L160.4 424L160.5 424.1L160.7 423.4L160.8 420L161 421.8L161.1 421L161.3 424.3L161.4 421.6L161.6 424.1L161.7 423.6L161.9 423.7L162 423.7L162.2 421.6L162.3 423.6L162.5 423.7L162.6 424.1L162.8 422.7L162.9 422.5L163.1 424.1L163.2 421.3L163.4 422L163.5 423.9L163.7 422.9L163.8 420.7L164 421.6L164.1 423.6L164.3 424.3L164.4 420.5L164.6 422L164.7 422.3L164.9 423.5L165 421.5L165.2 424.3L165.3 421.6L165.5 421.8L165.6 422.7L165.8 423.5L165.9 421.8L166.1 423.4L166.2 423.8L166.4 423.6L166.5 421.4L166.7 423.9L166.8 422.8L167 423.4L167.1 420.3L167.3 424.3L167.4 422.9L167.6 424.2L167.7 420.7L167.9 424L168 420.5L168.2 422.6L168.3 424.1L168.5 423.4L168.6 423.9L168.8 423.1L168.9 421.1L169.1 423.3L169.2 420L169.4 420.5L169.5 424.2L169.7 424.2L169.8 422.6L170 423.5L170.1 424.3L170.3 421.2L170.4 422.7L170.6 423.8L170.7 422.7L170.9 422.7L171 421.5L171.2 423.6L171.3 423L171.5 424.3L171.6 420.9L171.8 420.6L171.9 424.3L172.1 422.2L172.2 420.7L172.4 421.6L172.5 421.9L172.7 423.5L172.8 419.9L173 423.5L173.1 421.1L173.3 421.8L173.4 423.1L173.6 420.2L173.7 419.6L173.9 423L174 423.4L174.2 421L174.3 423L174.5 421.3L174.6 424.1L174.8 424.3L174.9 422.8L175.1 423.8L175.2 423.3L175.4 424L175.5 424L175.7 423.4L175.8 424L176 423.3L176.1 422.9L176.3 420.7L176.4 423.3L176.6 422.5L176.7 421L176.9 423.3L177 423.8L177.2 423L177.3 421.2L177.5 423.9L177.6 421.7L177.8 423.5L177.9 423.1L178.1 423L178.2 423.5L178.4 424.3L178.5 423.9L178.7 424L178.8 421.2L179 422.7L179.1 420.4L179.3 424L179.4 422.8L179.6 423L179.7 423.9L179.9 423.1L180 422.5L180.2 423.6L180.3 423.6L180.5 424L180.6 424.2L180.8 422.8L180.9 424.3L181.1 424.3L181.2 420.3L181.4 420.5L181.5 423.7L181.7 423L181.8 424.3L182 420.1L182.1 423.8L182.3 421.4L182.4 421.7L182.6 424.3L182.7 424.3L182.9 423L183 424.3L183.2 420.5L183.3 420.5L183.5 422L183.6 424.3L183.8 423.9L183.9 424L184.1 423.2L184.2 423.9L184.4 424.3L184.5 421.6L184.7 421.5L184.8 423L185 420.6L185.1 421L185.3 423.6L185.4 423.8L185.6 423.9L185.7 421.3L185.9 423L186 420.8L186.2 423.2L186.3 421.3L186.5 423.8L186.6 424L186.8 423.8L187 423.7L187.3 418L187.5 420.5L187.8 424.2L188.1 424.1L188.3 422.7L188.4 421.9L188.6 423.5L188.7 422.1L188.9 421.2L189 423.8L189.2 423.3L189.3 423.3L189.5 421.9L189.6 420.7L189.8 423.2L189.9 424.3L190.1 420.4L190.2 422.6L190.4 423.6L190.5 422L190.7 423.5L190.8 423.9L191 423.9L191.1 422.2L191.3 423.8L191.4 424.1L191.6 423.7L191.7 423.1L191.9 421.7L192 423.9L192.2 423.8L192.3 421.6L192.5 422.8L192.6 420.1L192.8 421L192.9 420.8L193.1 423.2L193.2 421.3L193.4 419.9L193.5 424.3L193.7 423.5L193.8 422L194 423.7L194.1 424.2L194.3 423.6L194.4 424.3L194.6 424.3L194.7 423.9L194.9 421.8L195 424.3L195.2 420.7L195.3 422.8L195.5 423L195.6 424.2L195.8 423.6L195.9 423.7L196.1 421.3L196.2 423.8L196.4 424.2L196.5 420.5L196.7 420.4L196.8 420.7L197 424L197.1 423.1L197.3 422L197.4 424.3L197.6 423.7L197.7 424.1L197.9 421.1L198 424.1L198.2 420.5L198.3 424.3L198.5 421.2L198.6 423.2L198.8 424.3L198.9 423.3L199.1 419.9L199.2 424L199.4 421.6L199.5 421.2L199.7 423.7L199.8 422.6L200 423.4L200.1 419.8L200.3 424.3L200.4 423.7L200.6 422L200.7 424L200.9 424.3L201 420.9L201.2 422.3L201.3 422.4L201.5 421L201.6 424L201.8 420.7L201.9 423.9L202.1 420.9L202.2 422.1L202.4 421.6L202.5 422.4L202.7 422L202.8 423.7L203 422.2L203.1 424.3L203.3 421.6L203.4 420.8L203.6 420.5L203.7 424.2L203.9 421.1L204 423L204.2 423.7L204.3 423.4L204.5 423.4L204.6 423.2L204.8 420.4L204.9 421.9L205.1 424.2L205.2 421.6L205.4 422.5L205.5 419.8L205.7 423.8L205.8 421.6L206 422.9L206.1 424.2L206.3 424.3L206.4 420.7L206.6 424L206.7 423.3L206.9 423.2L207 423.9L207.2 422.8L207.3 424L207.5 421.9L207.6 423L207.8 422.3L207.9 420.7L208.1 424.3L208.2 424L208.4 424.1L208.5 423.7L208.7 423.1L208.8 421.8L209 423.8L209.1 421.7L209.3 421.8L209.4 422.6L209.6 421.2L209.7 423.4L209.9 420.3L210 420.1L210.2 422.9L210.3 420.9L210.5 421.9L210.6 423L210.8 422.7L210.9 421.9L211.1 420.5L211.2 420.7L211.4 420.4L211.5 423.2L211.7 424.3L211.8 424.1L212 423.8L212.1 424L212.3 422.8L212.4 423.6L212.6 423.7L212.7 423.8L212.9 420.6L213 423.6L213.2 424.3L213.3 421.8L213.5 420.3L213.6 422.1L213.8 424.3L213.9 421.1L214.1 424L214.2 421.6L214.4 421.1L214.5 422.4L214.7 423.8L214.8 423.6L215 424.2L215.1 421.7L215.3 424.3L215.4 423.4L215.6 421.9L215.7 421.6L215.9 423.4L216 424.3L216.2 420.8L216.3 423.9L216.5 423.1L216.6 424.2L216.8 423.7L216.9 420.5L217.1 421.2L217.2 422.4L217.4 422.6L217.5 424.2L217.7 423.7L217.8 421L218 424.3L218.1 422.9L218.3 423.5L218.4 422L218.6 424.3L218.7 424.1L218.9 423.6L219 424.2L219.2 421.8L219.3 420L219.5 424.3L219.6 424L219.8 423.7L219.9 423.6L220.1 423.7L220.2 422.7L220.4 423.8L220.5 423L220.7 421L220.8 420.6L221 423.9L221.1 424.3L221.3 422.5L221.4 422.7L221.6 424.2L221.7 422.3L221.9 421.8L222 423.4L222.2 424.2L222.3 422.1L222.5 424.3L222.6 424.3L222.8 422.8L222.9 422.9L223.1 420L223.2 423.7L223.4 423.8L223.5 423.8L223.7 421L223.8 422L224 424.3L224.1 424.1L224.3 420.2L224.4 423.1L224.6 423.6L224.7 424.3L224.9 424.3L225 424.3L225.2 421.2L225.3 420.4L225.5 422.5L225.6 421.5L225.8 423.9L225.9 423.9L226.1 422.8L226.2 422.2L226.4 422.9L226.5 424.3L226.7 420.5L226.8 423.8L227 422.6L227.1 421.4L227.3 424.3L227.4 423.1L227.6 422.1L227.7 420.6L227.9 422.5L228 423.5L228.2 421.5L228.3 423.7L228.5 424.3L228.6 424.3L228.8 422L228.9 422.3L229.1 423.2L229.2 424L229.4 424.3L229.5 421.8L229.7 423.7L229.8 421.7L230 420.6L230.1 421.1L230.3 422.6L230.4 424L230.6 421.8L230.7 419.9L230.9 423.4L231 421.6L231.2 423.1L231.3 421.5L231.5 422.6L231.6 423.8L231.8 423.5L231.9 424.2L232.1 424L232.2 423.6L232.4 421.9L232.5 423.9L232.7 420.8L232.8 422.3L233 420.5L233.1 421.6L233.3 423.4L233.4 423.9L233.6 423.3L233.7 422.9L233.9 424.3L234 424.2L234.2 420.2L234.3 421.4L234.5 423.8L234.6 424.3L234.8 424.2L234.9 423.3L235.1 420.5L235.2 424.2L235.4 422.2L235.5 420.3L235.7 420.2L235.8 422.8L236 421.8L236.1 422L236.3 424.3L236.4 423.9L236.6 420.5L236.7 424.1L236.9 424.1L237 423L237.2 420.4L237.3 423.9L237.5 422.3L237.6 420.4L237.8 421.1L237.9 423.8L238.1 422.6L238.2 423.7L238.4 420.1L238.5 421.7L238.7 420.7L238.8 422.8L239 424.3L239.1 424.3L239.3 424.3L239.4 422.2L239.6 420.8L239.7 423.3L239.9 421.4L240 424L240.2 423.3L240.3 422.7L240.5 423L240.6 424.3L240.8 424L240.9 424.3L241.1 421.4L241.2 422.7L241.4 419.6L241.5 422.8L241.7 424.3L241.8 423.8L242 422.2L242.1 421.5L242.3 424.2L242.4 423.1L242.6 420.1L242.7 420.5L242.9 423.7L243 422.8L243.2 421.2L243.3 422.6L243.5 424.1L243.6 423.3L243.8 423.9L243.9 424L244.1 419.8L244.2 421.8L244.4 420.2L244.5 420.7L244.7 420.3L244.8 423.5L245 420.9L245.1 422.9L245.3 420.7L245.4 423.5L245.6 420.5L245.7 423.7L245.9 420.1L246 423.4L246.2 423.6L246.3 423.3L246.5 420.4L246.6 421.9L246.8 424.2L246.9 423.3L247.1 421.6L247.2 421.3L247.4 422.1L247.5 423.6L247.7 421.3L247.8 423.8L248 422L248.1 421.4L248.3 422.4L248.4 424L248.6 424L248.7 422L248.9 422.6L249 420.8L249.2 422.2L249.3 422.1L249.5 420.7L249.6 420.3L249.8 423.6L249.9 421.3L250.1 420.7L250.2 424.1L250.4 423.8L250.5 422.7L250.7 422.8L250.8 421.5L251 424.3L251.1 424.3L251.3 421.7L251.4 423.7L251.6 424L251.7 424.1L251.9 420.6L252 423.3L252.2 424.3L252.3 421.2L252.5 422L252.6 423.5L252.8 423.5L252.9 423.9L253.1 421L253.2 424.2L253.4 423.8L253.5 423.1L253.7 424.3L253.8 422L254 422.1L254.1 422.2L254.3 423.6L254.4 424.1L254.6 421.7L254.7 420.3L254.9 422.2L255 419.8L255.2 424.1L255.3 421.8L255.5 423.7L255.6 423.7L255.8 424.3L255.9 420.7L256.1 424.3L256.2 424.2L256.4 423.6L256.5 423.6L256.7 422.1L256.8 424.3L257 423.9L257.1 424.1L257.3 421.4L257.4 421.4L257.6 421L257.7 423.5L257.9 424.3L258 422.8L258.2 423.8L258.3 423.8L258.5 423.7L258.6 422.2L258.8 422.7L258.9 422L259.1 423.2L259.2 422.5L259.4 423.2L259.5 421.5L259.7 422.4L259.8 422.6L260 424.1L260.1 423.8L260.3 421.6L260.4 422.6L260.6 421.7L260.7 422.9L260.9 424.3L261 421.3L261.2 424.1L261.3 421.4L261.5 424.3L261.6 424.1L261.8 424.3L261.9 424.3L262.1 421.3L262.2 424.3L262.4 423.3L262.5 423.2L262.7 423.3L262.8 422.1L263 422.9L263.1 423.6L263.3 424.3L263.4 421.9L263.6 423.5L263.7 424.3L263.9 423.5L264 424.3L264.2 421.1L264.3 423.9L264.5 423.1L264.6 423.1L264.8 422.6L264.9 420.6L265.1 423.2L265.2 423.9L265.4 422L265.5 423.7L265.7 423.8L265.8 421.2L266 424.2L266.1 423.9L266.3 423.5L266.4 421.9L266.6 421.3L266.7 423.2L266.9 424.3L267 423.6L267.2 423.9L267.3 420.2L267.5 423.3L267.6 423.1L267.8 422.7L267.9 422.8L268.1 424.3L268.2 421.6L268.4 423.6L268.5 423.6L268.7 424.3L268.8 423.2L269 421.6L269.1 423.8L269.3 424.3L269.4 423.7L269.6 423.9L269.7 423.9L269.9 422.5L270 422.4L270.2 422.2L270.3 423.2L270.5 422.2L270.6 423.7L270.8 423.1L270.9 424.3L271.1 420.9L271.2 424L271.4 421.8L271.5 420.8L271.7 423.7L271.8 422.5L272 422.6L272.1 421.9L272.3 420.4L272.4 424.3L272.6 421.3L272.7 424.1L272.9 423.8L273 422.2L273.2 423.6L273.3 423.9L273.5 423.8L273.6 424.3L273.8 423L273.9 424.1L274.1 420.9L274.2 423.9L274.4 424.2L274.5 419.7L274.7 424L274.8 423L275 424.1L275.1 421.9L275.3 422.8L275.4 420.6L275.6 421.7L275.7 422.5L275.9 423.8L276 423.1L276.2 421.7L276.3 423.6L276.5 422.5L276.6 424.3L276.8 421L276.9 422.6L277.1 424.2L277.2 424.2L277.4 423.8L277.5 423.8L277.7 422.7L277.8 423L278 423.2L278.1 424.1L278.3 424.2L278.4 421.5L278.6 423.3L278.7 423.7L278.9 421.8L279 424.3L279.2 422.7L279.3 423.6L279.5 420.6L279.6 420.8L279.8 423.8L279.9 422.9L280.1 424.2L280.2 423.1L280.4 424.1L280.5 423.3L280.7 423.6L280.8 420.8L281 422.7L281.1 420.9L281.3 423.5L281.4 423.8L281.6 420.1L281.7 423.5L281.9 423.5L282 423.6L282.2 422L282.3 422.7L282.5 421.6L282.6 422.2L282.8 420.6L282.9 423.9L283.1 421.2L283.2 424.2L283.4 423.1L283.5 420.8L283.7 424.3L283.8 422.5L284 423.3L284.1 424L284.3 423.2L284.4 424.2L284.6 424.1L284.7 423L284.9 424L285 421.3L285.2 423.3L285.3 423.7L285.5 424L285.6 420.4L285.8 421.4L285.9 422.9L286.1 424.2L286.2 423.1L286.4 424.3L286.5 424.1L286.7 423.8L286.8 424.3L287 424.3L287.1 422.9L287.3 421.4L287.4 424L287.6 421.5L287.7 423.9L287.9 423.2L288 423.8L288.2 421.8L288.3 423.2L288.5 423.3L288.6 424.3L288.8 423.6L288.9 424.2L289.1 422.3L289.2 421.3L289.4 420.8L289.5 421.2L289.7 421.5L289.8 420.9L290 422.1L290.1 424.2L290.3 424.3L290.4 424.3L290.6 422.5L290.7 422.2L290.9 424.2L291 424.2L291.2 424.3L291.3 421.3L291.5 421.6L291.6 422.5L291.8 422.8L291.9 423.1L292.1 423.3L292.2 423.9L292.4 423.2L292.5 423.1L292.7 421.8L292.8 424.1L293 420.3L293.1 422.1L293.3 422.2L293.4 423.6L293.6 423.2L293.7 422.2L293.9 423.8L294 422L294.2 422.5L294.3 421.8L294.5 422.9L294.6 422.6L294.8 420.4L294.9 422.2L295.1 424.3L295.2 424.3L295.4 423.8L295.5 423.5L295.7 423.1L295.8 423.7L296 423.8L296.1 423.9L296.3 421.5L296.4 423.4L296.6 420.6L296.7 421.1L296.9 420.4L297 422.4L297.2 424.3L297.3 423.2L297.5 422.7L297.6 423.9L297.8 423.5L297.9 422.2L298.1 421.5L298.2 424.3L298.4 424.3L298.5 421.8L298.7 422.1L298.8 424.3L299 424.3L299.1 423.9L299.3 422.1L299.4 421.2L299.6 421.5L299.7 424.3L300 423.3L300.3 422.7L300.5 422.5L300.6 424.3L300.8 423.6L300.9 422.1L301.1 422.4L301.2 420.6L301.4 422.8L301.5 424.1L301.7 424.3L301.8 422.6L302 423.4L302.1 420.3L302.3 424L302.4 420.6L302.6 423.8L302.7 421.1L302.9 421.3L303 419.6L303.2 421.8L303.3 420.3L303.5 420.6L303.6 423.8L303.8 422.7L303.9 424.2L304.1 423.8L304.2 420.4L304.4 423.7L304.5 423L304.7 424.1L304.8 420.6L305 424.3L305.1 422.5L305.3 423.6L305.4 420.7L305.6 424.3L305.7 422.5L305.9 419.6L306 422.1L306.2 422.7L306.3 421.4L306.5 423.3L306.6 424.2L306.8 421.7L306.9 420.7L307.1 424.2L307.2 423.5L307.4 420.5L307.5 423.7L307.7 423.8L307.8 423.7L308 423.9L308.1 420.2L308.3 422.2L308.4 422.1L308.6 421.6L308.7 420.4L308.9 422.3L309 419.6L309.2 424.1L309.3 423.8L309.5 424.3L309.6 422.2L309.8 421.6L309.9 421.3L310.1 419.2L310.2 420L310.4 423.1L310.5 423.2L310.7 423L310.8 424L311 423.9L311.1 421.7L311.3 424.2L311.4 423.9L311.6 424.2L311.7 424.1L311.9 423.5L312 423.1L312.2 424L312.3 422.5L312.5 421.6L312.6 419.3L312.8 421.6L312.9 423.9L313.1 424.3L313.2 420L313.4 423.9L313.5 423.8L313.7 423.4L313.8 421.2L314 422.9L314.1 424.3L314.3 423.5L314.4 420.2L314.6 423.6L314.7 421.3L314.9 423.6L315 423.9L315.2 423.3L315.3 423L315.5 420.7L315.6 424L315.8 420.5L315.9 423.8L316.1 424.2L316.2 423.1L316.4 419.4L316.5 423.5L316.7 423.7L316.8 423.6L317 424.1L317.1 422.3L317.3 421.7L317.4 423.2L317.6 420.5L317.7 424.3L317.9 421.8L318 423.3L318.2 422.7L318.3 423.6L318.5 423.7L318.6 423.6L318.8 424L318.9 422.5L319.1 419.7L319.2 424.3L319.4 420.6L319.5 422.1L319.7 424.2L319.8 423.8L320 423.9L320.1 419.8L320.3 422.2L320.4 419.6L320.6 423.6L320.7 423.9L320.9 422.5L321 424.3L321.2 422.8L321.3 422.9L321.5 420L321.6 421.9L321.8 424.1L321.9 423.8L322.1 424.3L322.2 422.4L322.4 422.8L322.5 422.5L322.7 420.7L322.8 423.9L323 422.8L323.1 420.2L323.3 421.8L323.4 423.8L323.6 424.1L323.7 424.2L323.9 419.4L324 424.3L324.2 423.7L324.3 421.6L324.5 422.5L324.6 422.4L324.8 422.1L324.9 423.8L325.1 423.1L325.2 423.3L325.4 424.1L325.5 421.8L325.7 423.3L325.8 423.8L326 422.5L326.1 421.9L326.3 420.7L326.4 421.7L326.6 423.9L326.7 424.2L326.9 422.5L327 423.8L327.2 423.5L327.3 419.8L327.5 424L327.6 424.2L327.8 424.1L327.9 423L328.1 423L328.2 424.3L328.4 419.9L328.5 422.7L328.7 424.3L328.8 421.1L329 422.2L329.1 423.2L329.3 422L329.4 421.3L329.6 423.6L329.7 420.7L329.9 422.8L330 424.3L330.2 424.1L330.3 424.3L330.5 421.4L330.6 424L330.8 423.5L330.9 422.9L331.1 424.3L331.2 419.8L331.4 419.8L331.5 419.5L331.7 423.7L331.8 424.1L332 423.9L332.1 418.8L332.3 421.3L332.4 424.3L332.6 423.8L332.7 420.9L332.9 423.7L333 423.6L333.2 421.9L333.3 421.4L333.5 422.3L333.6 420.5L333.8 423.1L333.9 423.2L334.1 422.2L334.2 422.4L334.4 423.3L334.5 421.4L334.7 422L334.8 423.9L335 422.5L335.1 423.3L335.3 422.5L335.4 422.8L335.6 422L335.7 422.9L335.9 423.3L336 419.8L336.2 423.9L336.3 421.5L336.5 424.3L336.6 424.3L336.8 420.1L336.9 423.9L337.1 423.6L337.2 420.5L337.4 424.1L337.5 423.3L337.7 422.6L337.8 422.6L338 421.6L338.1 422.5L338.3 421.2L338.4 423.7L338.6 424.3L338.7 421.2L338.9 419.9L339 420.9L339.2 424.3L339.3 423.4L339.5 422.4L339.6 422.3L339.8 420.8L339.9 419.3L340.1 421.8L340.2 420.6L340.4 423.3L340.5 422.9L340.7 420L340.8 423.9L341 421.9L341.1 422.2L341.3 424.1L341.4 421.3L341.6 421.1L341.7 422.4L341.9 423.7L342 423.7L342.2 422.8L342.3 423.7L342.5 421.5L342.6 420.8L342.8 423.5L342.9 421.9L343.1 421.9L343.2 422.1L343.4 421.1L343.5 421.7L343.7 424L343.8 423.7L344 422.3L344.1 421L344.3 423.6L344.4 423L344.6 424.1L344.7 421.8L344.9 420.6L345 424.2L345.2 420.6L345.3 424.2L345.5 423.4L345.6 423.1L345.8 419.5L345.9 423.9L346.1 420.7L346.2 419.3L346.4 421.6L346.5 421.2L346.7 421.8L346.8 422.4L347 424L347.1 423.1L347.3 423.3L347.4 424.2L347.6 421.7L347.7 424.1L347.9 423.7L348 423.9L348.2 423.2L348.3 423.2L348.5 419.8L348.6 423.9L348.8 421.2L348.9 423.5L349.1 421L349.2 423L349.4 422.6L349.5 422.1L349.7 421.5L349.8 421.1L350 422.7L350.1 422.9L350.3 423.4L350.4 423.4L350.6 420.5L350.7 423.7L350.9 422.3L351 423.3L351.2 420.5L351.3 423.8L351.5 424.1L351.6 423.6L351.8 422.3L351.9 424L352.1 424.2L352.2 424L352.4 424.1L352.5 421L352.7 423.9L353 423.7L353.3 420.3L353.5 418.8L353.7 420.8L354 423.8L354.3 424.1L354.5 422.5L354.6 424L354.8 423.1L354.9 422.7L355.1 420.5L355.2 421.5L355.4 421.6L355.5 424.3L355.7 421.5L355.8 421.1L356 423.5L356.1 419.6L356.3 423.4L356.4 420.5L356.6 422.2L356.7 422.9L356.9 422L357 421L357.2 423.4L357.3 421.4L357.5 424.3L357.6 424.3L357.8 423.7L357.9 423.8L358.1 420.5L358.2 423.4L358.4 424.3L358.5 422.5L358.7 423.6L358.8 423.4L359 423.6L359.1 424.2L359.3 423.8L359.4 419.7L359.6 424.1L359.7 422.8L359.9 422.5L360 422.6L360.2 418.9L360.3 424L360.5 420.4L360.6 423.8L360.8 423.7L360.9 423.1L361.1 422.9L361.2 422.3L361.4 423.6L361.5 419L361.7 420.5L361.8 422.3L362 419.5L362.1 423.4L362.3 419.9L362.4 422.6L362.6 423.6L362.7 419.3L362.9 423.9L363 423.6L363.2 424.1L363.3 421.7L363.5 421.5L363.6 420.8L363.8 423.6L363.9 423.2L364.1 419.6L364.2 423.7L364.4 423.9L364.5 420.6L364.7 424.1L364.8 421.9L365 424L365.1 421.9L365.3 423.7L365.4 421.1L365.6 423.6L365.7 424.3L365.9 423.3L366 424.1L366.2 424.1L366.3 423.8L366.5 424.1L366.6 424.1L366.8 423.7L366.9 421.7L367.1 423.5L367.2 420.6L367.4 423.7L367.5 421.5L367.7 421.6L367.8 422.9L368 423L368.1 423.5L368.3 419.6L368.4 422.2L368.6 424.1L368.7 424.3L368.9 420.2L369 422.7L369.2 420.7L369.3 421.3L369.5 424.3L369.6 420L369.8 421.9L369.9 422.9L370.1 423.2L370.2 422.8L370.4 420L370.5 423.7L370.7 424.3L370.8 423.5L371 421.6L371.1 423.4L371.3 423.2L371.4 420L371.6 422.4L371.7 423.9L371.9 423.3L372 423.1L372.2 419.1L372.3 423.5L372.5 421.8L372.6 421.5L372.8 424.2L372.9 419.7L373.1 423.9L373.2 423.9L373.4 420L373.5 419.2L373.7 422.3L373.8 423.6L374 424L374.1 419.9L374.3 423L374.4 419.1L374.6 422.5L374.7 421.5L374.9 423L375 423.1L375.2 422.1L375.3 424.1L375.5 422.9L375.6 422.3L375.8 423.9L375.9 423.7L376.1 423.6L376.2 423.9L376.4 421.2L376.5 423.6L376.7 420.4L376.8 423.7L377 424L377.1 423L377.3 424L377.4 423.6L377.6 424.2L377.7 423.4L377.9 420.2L378 418.9L378.2 418.8L378.3 422.8L378.5 423.1L378.6 423.6L378.8 421.6L378.9 422.9L379.1 421.9L379.2 423.4L379.4 421L379.5 420.5L379.7 421.2L379.8 422L380 419.5L380.1 421.4L380.3 423.8L380.4 419.1L380.6 420.1L380.7 423.4L380.9 424.3L381 419.4L381.2 422.9L381.3 420.9L381.5 421.2L381.6 420.1L381.8 423.4L381.9 420.1L382.1 422.4L382.2 423.2L382.4 422.8L382.5 420.2L382.7 422.8L382.8 420.4L383 421.4L383.1 423L383.3 424L383.4 420.6L383.6 423.6L383.7 419.7L383.9 424.1L384 419.7L384.2 423.9L384.3 424.3L384.5 420.3L384.6 423.9L384.8 423.9L384.9 422.7L385.1 422.3L385.2 424L385.4 420.4L385.5 423.9L385.7 423.6L385.8 419.3L386 423.1L386.1 424.3L386.3 423.6L386.4 423.4L386.6 423.4L386.7 420.4L386.9 423.3L387 423.2L387.2 423.3L387.3 423.6L387.5 422.8L387.6 421.1L387.8 420.6L387.9 422.2L388.1 423.9L388.2 420.9L388.4 423.1L388.5 420.1L388.7 421.5L388.8 422.9L389 423.7L389.1 422.3L389.3 419.7L389.4 421.3L389.6 423.4L389.7 422.2L389.9 424.2L390 423.6L390.2 421.5L390.3 420.6L390.5 421.2L390.6 423.2L390.8 423.8L390.9 421.4L391.1 423.4L391.2 421.9L391.4 421.1L391.5 424.3L391.7 419.1L391.8 419.1L392 424L392.1 423.2L392.3 419.7L392.4 424L392.6 423.2L392.7 424L392.9 419.9L393 423.1L393.2 419.7L393.3 419.2L393.5 423.3L393.6 423.2L393.8 423.7L393.9 420.9L394.1 419.3L394.2 423.3L394.4 420.6L394.5 424L394.7 423.2L394.8 423.5L395 422.5L395.1 423.4L395.3 419.8L395.4 424.1L395.6 422.7L395.7 421.7L395.9 419.8L396 422.8L396.2 422.8L396.3 423.9L396.5 423.5L396.6 420.8L396.8 423.8L396.9 420.4L397.1 420.3L397.2 422.6L397.4 421.2L397.5 423.7L397.7 423.4L397.8 421.3L398 421.9L398.1 423.8L398.3 421.8L398.4 423.7L398.6 424.3L398.7 420.9L398.9 423L399 421.4L399.2 422.6L399.3 423.2L399.5 419.7L399.6 419.8L399.8 422.9L399.9 423.1L400.1 423.6L400.2 420.7L400.4 423.4L400.5 423.5L400.7 424.1L400.8 424L401 420.3L401.1 420.2L401.3 418.9L401.4 423.5L401.6 422.3L401.7 422.8L401.9 420.2L402 423.2L402.2 420.3L402.3 423.1L402.5 423.8L402.6 424.1L402.8 423.7L402.9 421.6L403.1 421.5L403.2 423.4L403.4 421.2L403.5 422.1L403.7 421.2L403.8 423.6L404 423.1L404.1 421.7L404.3 424.2L404.4 420.9L404.6 420.9L404.7 424.1L404.9 421.5L405 422.8L405.2 419.8L405.3 424.3L405.5 424.3L405.6 423.7L405.8 420.8L405.9 423.8L406.1 423.6L406.2 422.6L406.4 420.9L406.5 421.4L406.7 424.1L406.8 423.4L407 420L407.1 423.4L407.3 423.6L407.4 423.8L407.6 423.2L407.7 422.7L407.9 420.1L408 420.1L408.2 420L408.3 423.8L408.5 423.7L408.6 423.3L408.8 422L408.9 422.5L409.1 420.8L409.2 422.3L409.4 419.4L409.5 422L409.7 423.1L409.8 423.2L410 420.8L410.1 423L410.3 423.7L410.4 423.7L410.6 421.5L410.7 422.6L410.9 424.3L411 422.3L411.2 421.8L411.3 420.3L411.5 419.6L411.6 423.8L411.8 422.1L411.9 423.7L412.1 423.7L412.2 422.5L412.4 421.6L412.5 424.3L412.7 424.3L412.8 420.6L413 423.4L413.1 423.6L413.3 422.5L413.4 423.3L413.6 423.7L413.7 420.2L413.9 420.7L414 423.2L414.2 421.4L414.3 420.3L414.5 423.9L414.6 423.9L414.8 423.6L414.9 422.8L415.1 420L415.2 421L415.4 421.7L415.5 423.2L415.7 421.6L415.8 424.1L416 423.5L416.1 423.9L416.3 423.1L416.4 423.6L416.6 420.5L416.7 421.3L416.9 421.3L417 423.5L417.2 421.4L417.3 423.8L417.5 421.5L417.6 424.1L417.8 423.7L417.9 423.6L418.1 423.1L418.2 422.8L418.4 420.2L418.5 423.8L418.7 423.3L418.8 424.1L419 421.2L419.1 423.8L419.3 421.7L419.4 422.7L419.6 423.4L419.7 423.8L419.9 420.9L420 420.4L420.2 424.1L420.3 422.2L420.5 420.2L420.6 423.9L420.8 424.1L420.9 420.7L421.1 423.2L421.2 421.5L421.4 419.3L421.5 423.4L421.7 422.2L421.8 423L422 419.3L422.1 423.1L422.3 422.9L422.4 421.4L422.6 424.1L422.7 420.9L422.9 422.8L423 422.6L423.2 421.1L423.3 423.7L423.5 423.2L423.6 422.5L423.8 421.2L423.9 422.6L424.1 421.7L424.2 423.8L424.4 423.2L424.5 421.7L424.7 423.5L424.8 423.4L425 424L425.1 423.8L425.3 423.6L425.4 423.9L425.6 422.6L425.7 423.8L425.9 424.1L426 423.8L426.2 422L426.3 422.1L426.5 420.8L426.6 420.9L426.8 423.3L426.9 421.5L427.1 423L427.2 422.6L427.4 421.9L427.5 422.6L427.7 420.5L427.8 424.3L428 419.7L428.1 422.9L428.3 422.5L428.4 424.2L428.6 423L428.7 424L428.9 420.2L429 423.8L429.2 420.1L429.3 420.4L429.5 424L429.6 424.3L429.8 424.1L429.9 423.4L430.1 419.5L430.2 423.5L430.4 420.3L430.5 423.5L430.7 423L430.8 424.1L431 423.6L431.1 422.9L431.3 423.5L431.4 421.1L431.6 419.7L431.7 420L431.9 423.6L432 421.4L432.2 421.8L432.3 419.3L432.5 423.6L432.6 421.9L432.8 423.1L432.9 419.8L433.1 422.7L433.2 420.3L433.4 424.3L433.5 420.9L433.7 421.7L433.8 423.6L434 421.1L434.1 423.1L434.3 421.5L434.4 419.5L434.6 422.9L434.7 422.2L434.9 421.3L435 424.1L435.2 424L435.3 423.6L435.5 419.2L435.6 420.8L435.8 420.7L435.9 422.7L436.1 421.3L436.2 422.9L436.4 419.9L436.5 420.2L436.7 423.7L436.8 423.6L437 421.8L437.1 420.4L437.3 423.9L437.4 420.3L437.6 420.7L437.7 423.8L437.9 421.5L438 420L438.2 420.3L438.3 420.8L438.5 423.7L438.6 419.3L438.8 423.1L438.9 424.3L439.1 424.3L439.2 421.6L439.4 422.3L439.5 422.3L439.7 423.9L439.8 421.9L440 422.1L440.1 422.7L440.3 423.2L440.4 424.3L440.6 422.7L440.7 423.4L440.9 423.6L441 420.3L441.2 424.3L441.3 423L441.5 421.6L441.6 423.4L441.8 423.7L441.9 423.9L442.1 423.1L442.2 423.7L442.4 422.9L442.5 419.2L442.7 419.9L442.8 421.1L443 423.4L443.1 419.7L443.3 424.3L443.4 422.7L443.6 421.8L443.7 420.7L443.9 419.4L444 422L444.2 421.9L444.3 421L444.5 419.7L444.6 424L444.8 420.6L444.9 421L445.1 423.2L445.2 420.1L445.4 420.3L445.5 423.9L445.7 419.2L445.8 423L446 424.2L446.1 422.7L446.3 419.4L446.4 423.3L446.6 419.3L446.7 422.5L446.9 423.3L447 420.7L447.2 423.5L447.3 422.1L447.5 424L447.6 424.1L447.8 422.2L447.9 423.4L448.1 424.3L448.2 423.2L448.4 421.7L448.5 421.8L448.7 420L448.8 424.2L449 420.9L449.1 423.4L449.3 421.5L449.4 423.3L449.6 423.9L449.7 420L449.9 422.9L450 422.5L450.2 421L450.3 423.4L450.5 420.6L450.6 421.6L450.8 421L450.9 419.7L451.1 421.6L451.2 421.9L451.4 420.8L451.5 421.6L451.7 420.3L451.8 422.5L452 423.5L452.1 423.3L452.3 419.9L452.4 423.7L452.6 424.2L452.7 423.1L452.9 422.3L453 421.1L453.2 424.1L453.3 423.3L453.5 421.5L453.6 422.7L453.8 423.9L453.9 419.9L454.1 423.4L454.2 423.2L454.4 423.2L454.5 421.8L454.7 421.3L454.8 421.8L455 422.2L455.1 422.7L455.3 421.5L455.4 420.7L455.6 420.8L455.7 421.2L455.9 423.9L456 421.7L456.2 420.8L456.3 419.7L456.5 420.3L456.6 424.1L456.8 419.5L456.9 423.3L457.1 422.7L457.2 424.2L457.4 422.8L457.5 424L457.7 423.4L457.8 423.6L458 424L458.1 423.2L458.3 419.8L458.4 422.6L458.6 423.7L458.7 424.2L458.9 423.6L459 419.3L459.2 419.9L459.3 420.6L459.5 420.7L459.6 420.3L459.8 424L460 419.9L460.2 420.5L460.4 423.7L460.5 420L460.7 421.8L460.8 423L461 420.3L461.1 424.2L461.3 422.2L461.4 423.5L461.6 422.1L461.7 420.5L461.9 422.7L462 421.6L462.2 424.2L462.3 419.1L462.5 422.8L462.6 424.1L462.8 424.1L462.9 420.2L463.1 423.6L463.2 419.8L463.4 420.8L463.5 423.9L463.7 420.4L463.8 423.6L464 421.8L464.1 423.5L464.3 421.3L464.4 424L464.6 420.5L464.7 422.6L464.9 420.6L465 422.3L465.2 421.2L465.3 422.8L465.5 420.9L465.6 419.7L465.8 424.3L465.9 421.1L466.1 423L466.2 420.1L466.4 419L466.5 421.6L466.7 423.2L466.8 421L467 421.8L467.1 423.5L467.3 423.7L467.4 424L467.6 422.9L467.7 423.9L467.9 423.1L468 423.2L468.2 420.8L468.3 420.5L468.5 423.9L468.6 423.4L468.8 421.1L468.9 421.9L469.1 422.5L469.2 420.4L469.4 423.8L469.5 419.1L469.7 422.5L469.8 421.3L470 423.9L470.1 423.3L470.3 420.9L470.4 423L470.6 422.9L470.7 420.5L470.9 422.9L471 420L471.2 423.4L471.3 421.8L471.5 422.5L471.6 423.4L471.8 422.1L471.9 422.6L472.1 421.9L472.2 422L472.4 423.9L472.5 423.2L472.7 421.6L472.8 422.7L473 423.6L473.1 422.8L473.3 423.6L473.4 423.2L473.6 423.8L473.7 423.7L473.9 422L474 420.7L474.2 420.4L474.3 421.9L474.5 421.4L474.6 421.8L474.8 423.6L474.9 423.2L475.1 419.7L475.2 423.6L475.4 423.3L475.5 421.8L475.7 422.5L475.8 420.8L476 422.3L476.1 420L476.3 422.9L476.4 422.5L476.6 421.5L476.7 419.5L476.9 423.2L477 422.9L477.2 422.9L477.3 423.3L477.5 419.3L477.6 421.4L477.8 422.6L477.9 423.1L478.1 422.2L478.2 422.5L478.4 423.4L478.5 422.2L478.7 421.1L478.8 421.5L479 420.4L479.1 420.5L479.3 423.1L479.4 423.2L479.6 421L479.7 421.9L480 423.7L480.3 422.5L480.5 423.1L480.6 422.2L480.8 423.2L480.9 419.3L481.1 419.1L481.2 423.5L481.4 421.3L481.5 418.9L481.7 422.8L481.8 417.8L482 422.7L482.1 423L482.3 423.1L482.4 421.9L482.6 421.1L482.7 420.1L482.9 423.2L483 423L483.2 423L483.3 419.1L483.5 418.2L483.6 420.2L483.8 422.8L483.9 422.2L484.1 422L484.2 421.2L484.4 420.2L484.5 420L484.7 421.9L484.8 419.4L485 419.3L485.1 421.9L485.3 421.1L485.4 422L485.6 422.7L485.7 422.8L485.9 422.1L486 420.4L486.2 418.1L486.3 421.6L486.5 422.4L486.6 418.6L486.8 422.2L486.9 422.1L487.1 419.8L487.2 419.9L487.4 420.9L487.5 421.2L487.7 422.4L487.8 422.1L488 419.6L488.1 420.7L488.3 420.4L488.4 421L488.6 418.7L488.7 417.7L488.9 421.2L489 422L489.2 421.7L489.3 422.1L489.5 417.4L489.6 420.1L489.8 421.5L490 422L490.2 420.1L490.4 420.9L490.5 419.1L490.7 417.2L490.8 421.1L491 418.9L491.1 420.9L491.3 419.9L491.4 417L491.6 418.6L491.7 417.7L491.9 417.1L492 419.4L492.2 419.6L492.3 421L492.5 418.6L492.6 417.6L492.8 417.9L492.9 419.4L493.1 418L493.2 418.7L493.4 418.4L493.5 419.7L493.7 419.1L493.8 418.6L494 415.5L494.1 418.1L494.3 417.6L494.4 416.2L494.6 417.8L494.9 416.9L495.2 414.2L495.3 417.2L495.5 415.6L495.6 416.6L495.8 416.2L495.9 414.4L496.1 415.6L496.2 416.2L496.4 415.7L496.5 414.1L496.7 414L496.8 415.1L497 414.4L497.1 417.1L497.3 414.1L497.4 417.6L497.6 416.1L497.7 416.9L497.9 415.2L498 413.8L498.2 413L498.3 415.7L498.5 414.6L498.6 414.5L498.8 416.9L498.9 414.1L499.1 415.1L499.2 415.7L499.4 414.8L499.7 413.6L500 413.2L500.1 413.5L500.3 411.2L500.4 408.6L500.6 410.2L500.7 406.3L500.9 409.9L501 406L501.2 405L501.5 397.1L501.8 388.6L502.1 393.9L502.4 400.1L502.7 401.9L502.8 399.7L503 403.6L503.1 403.7L503.3 404.2L503.4 404.7L503.6 404.8L503.7 408L504 408.5L504.3 406.6L504.5 408.1L504.6 407.3L504.8 410.9L504.9 410.2L505.1 411.1L505.2 408.2L505.4 408.3L505.5 409.1L505.8 411.9L506.1 406.3L506.3 408L506.4 407.7L506.6 407.1L506.7 406.4L506.9 401.3L507 403.3L507.2 401.2L507.3 399.2L507.5 397.7L507.6 400L507.8 398.1L508.1 396.6L508.4 381.4L508.6 371.7L508.8 381.1L509 386.2L509.2 393.1L509.4 394.2L509.6 394.3L509.7 396.1L509.9 397.2L510 396L510.2 402.6L510.3 401.8L510.5 403L510.6 403.3L510.8 403L510.9 402.1L511.1 404.7L511.3 404.1L511.5 405.9L511.7 408.7L511.8 409.3L512 405.8L512.1 408.8L512.3 409.3L512.4 408.8L512.6 410.5L512.7 407.6L512.9 408.2L513.1 410.5L513.3 407.7L513.5 407.6L513.6 406.6L513.8 404.4L513.9 406.4L514.1 406.6L514.2 407.1L514.4 405.3L514.5 403.6L514.8 402.6L515 397.1L515.3 390.3L515.6 396L515.9 403.4L516.2 404.8L516.3 402.9L516.5 407.6L516.6 406.7L516.8 405L516.9 406.3L517.1 406.5L517.2 405.7L517.4 407.1L517.5 410.5L517.7 412.4L518 410.2L518.3 412L518.4 413.2L518.6 413.2L518.7 413.2L518.9 414L519 414.8L519.2 414.5L519.3 414.4L519.5 416.7L519.8 416.7L520.1 416.4L520.2 413.5L520.4 415.4L520.5 414.1L520.7 413.8L520.8 413.4L521 414.4L521.1 411.4L521.3 410.5L521.4 412.1L521.6 411.3L521.7 411.1L521.9 410.7L522.2 409.2L522.5 410.9L522.6 411.8L522.8 411.9L522.9 413.2L523.1 414.4L523.2 413.1L523.4 414.3L523.5 415.4L523.8 415.6L524.1 414.9L524.3 411.4L524.4 412.1L524.6 411.6L524.7 410.3L524.9 408.8L525 407.6L525.2 405L525.3 406.4L525.6 405.9L525.8 397.6L526.1 387.1L526.4 393.7L526.7 399.1L527 399.5L527.1 399.5L527.3 403.8L527.4 399.4L527.6 404.7L527.7 401.4L527.9 402.1L528 404.1L528.3 406.9L528.6 405.3L528.8 403.8L528.9 403.8L529.1 401.2L529.2 403.4L529.4 402.7L529.5 400.6L529.7 401.5L529.8 402.3L530 399.4L530.1 401.5L530.3 395.3L530.4 396.3L530.7 398.7L531 380.5L531.2 373.3L531.3 365.2L531.5 363.7L531.6 360.6L531.8 350.6L531.9 345.5L532.2 330L532.6 309L532.8 292.9L533.1 278.8L533.4 300.3L533.7 315.3L534.2 338L534.5 347.7L534.6 349.9L534.8 346.1L534.9 358.2L535.1 353.4L535.2 361.7L535.4 365L535.6 369.3L535.8 366.2L536 372.3L536.1 374.8L536.3 367.4L536.4 373.6L536.6 380.7L536.8 378.7L537 378.3L537.2 377.5L537.3 378.1L537.5 377.4L537.6 376.7L537.8 380.8L537.9 382L538.1 380.4L538.4 381.4L538.7 363.8L538.8 359.3L539 348.9L539.1 343L539.3 332.5L539.5 321.8L539.7 300.1L539.9 289L540 276.1L540.3 257.3L540.6 273.9L540.9 287.4L541.2 307.9L541.5 324.6L541.7 330.9L541.8 331.7L542 343.8L542.2 350.1L542.4 361.4L542.6 353.6L542.7 354.3L542.9 358.6L543 364.1L543.2 362.7L543.3 362.7L543.5 362.6L543.6 367.6L543.8 364.2L544.1 379.4L544.4 378.5L544.5 377.6L544.7 380.1L544.8 382.6L545 382.1L545.1 384.1L545.3 384.5L545.4 386.6L545.6 388.6L545.9 395.3L546.2 386.4L546.3 381.8L546.5 379.5L546.6 369.5L546.8 370.3L546.9 365.1L547.2 359.4L547.6 348.6L547.8 342.4L548.1 336.2L548.4 352.8L548.7 368.1L549 366.3L549.2 371.7L549.3 378.8L549.5 379.9L549.6 380.4L549.8 384.5L550.1 386.5L550.4 388.4L550.5 388.8L550.7 394.4L550.8 394.9L551 393.5L551.1 401.5L551.3 399.5L551.4 396.8L551.6 399.6L551.7 402.3L551.9 398.9L552 400.5L552.2 404.8L552.4 404.3L552.6 403.6L552.8 405.4L552.9 406.8L553.1 403.9L553.2 399.6L553.4 401.8L553.5 403.4L553.7 398.2L553.8 398.2L554 397.4L554.1 400.1L554.3 399.4L554.4 398.2L554.6 397.3L554.9 396.3L555.2 398.3L555.3 398.4L555.5 399.2L555.6 400L555.8 401.7L555.9 401.4L556.1 401.7L556.2 401.9L556.4 398.8L556.5 404L556.7 404.6L556.8 406L557 406.3L557.1 406L557.3 407.6L557.4 408.3L557.6 410L557.7 412.4L557.9 413.4L558 413.3L558.2 412.7L558.5 414.2L558.8 411.5L558.9 411.6L559.1 410.4L559.2 410.1L559.4 408.9L559.5 409.7L559.7 406.3L559.8 406.7L560 404.3L560.1 404.8L560.4 402.6L560.6 393.8L560.9 382.4L561.2 389.2L561.5 395.7L561.8 398.8L561.9 397.9L562.1 397.4L562.2 400.2L562.4 402.9L562.5 403.5L562.8 405.5L563.1 403.9L563.3 403.3L563.4 400.4L563.6 398.8L563.7 400L563.9 400L564 398L564.2 395.3L564.3 398.1L564.5 398.3L564.6 398L564.8 396.7L564.9 396.3L565.2 394.7L565.5 396.2L565.7 395.9L565.8 396.5L566 396.9L566.1 398.8L566.4 397.4L566.7 377L566.9 366.1L567 357.9L567.2 352.1L567.3 340.9L567.6 328.4L568 307.9L568.2 291.7L568.5 277.7L568.8 296L569.1 308.3L569.4 329.7L569.7 344.2L570 356.3L570.3 359.6L570.5 358.4L570.6 364.6L570.8 359.9L570.9 358.5L571.1 371.5L571.2 370.1L571.4 368.1L571.6 378.2L571.8 378L572 376.8L572.1 373.8L572.3 379.3L572.4 374.3L572.6 373.8L572.7 375.1L572.9 374.6L573.1 372.4L573.3 376.4L573.5 381.3L573.6 386L573.8 380.8L573.9 382L574.1 383.5L574.3 388.6L574.5 376.4L574.7 361.4L574.8 351.4L575 340.2L575.1 343.5L575.3 332L575.5 320.6L575.7 301L575.9 289.5L576 278.3L576.3 258.3L576.6 277.2L576.9 288.8L577.2 310.8L577.5 319.3L577.7 326L577.8 329.7L578 338.5L578.1 345.4L578.3 354.7L578.6 359.5L578.9 362.7L579 364.6L579.2 363.3L579.3 372.7L579.5 373.5L579.6 367.1L579.8 377.1L579.9 372.3L580.1 377.5L580.2 375.8L580.4 383.8L580.5 377.6L580.7 381.7L580.8 384.2L581 384.4L581.1 388L581.3 386.7L581.6 393.7L581.9 388.4L582 375.8L582.2 379.3L582.3 376L582.5 366.7L582.6 368.2L582.8 363.6L582.9 365.5L583.2 354.8L583.5 349.1L583.7 345.5L584 340.6L584.3 354.8L584.6 368.7L584.9 374.1L585 374.7L585.2 377.4L585.3 379.6L585.5 379.2L585.8 389L586.1 388.8L586.2 386.4L586.4 388.6L586.5 390L586.7 392.6L586.8 390.1L587 395.4L587.1 398.9L587.3 395.3L587.4 394.2L587.6 396L587.7 397.8L587.9 398.2L588 400.2L588.2 399L588.3 398.4L588.5 400.6L588.6 402.3L588.9 403.5L589.2 405.2L589.4 404L589.5 401.4L589.7 403.1L589.8 400.8L590 400.8L590.1 398.2L590.3 397.4L590.4 400.3L590.6 399.6L590.7 399.1L590.9 398.4L591 397.7L591.3 398L591.6 399.8L591.8 401.3L591.9 401.3L592.1 402L592.2 401.1L592.4 402.9L592.5 405.2L592.7 406.1L592.8 409.1L593 407.5L593.1 408.5L593.3 409.1L593.4 410.2L593.7 411.5L594 409.8L594.2 414.1L594.3 412.9L594.5 414.5L594.6 413.8L594.8 412.9L594.9 412.6L595.1 414.1L595.2 414.6L595.4 414.7L595.5 417.1L595.7 416.7L595.8 416.3L596 416.6L596.1 416.2L596.3 417.3L596.4 417.7L596.6 418.6L596.8 416.9L597 418.6L597.2 415.6L597.3 417.7L597.5 417.2L597.6 414.1L597.8 415.7L597.9 414.4L598.1 412.1L598.2 410.7L598.4 411.9L598.5 412.5L598.7 409.1L598.8 410.9L599 410.4L599.1 409.7L599.3 409.1L599.4 408.4L599.6 407.9L599.8 407.3L600 408.9L600.2 408.4L600.3 409.3L600.5 408.8L600.6 409.8L600.8 410.5L600.9 410.7L601.1 410L601.2 411.1L601.4 412.2L601.5 412.9L601.7 413.7L601.8 414.6L602 413.7L602.2 415.4L602.4 412.4L602.6 413.2L602.7 416.1L602.9 414.4L603 413.5L603.2 413.6L603.3 413.9L603.5 414.5L603.6 413.5L603.8 412.6L603.9 413.7L604.1 414.9L604.2 413.7L604.4 415.2L604.5 415L604.7 415.3L604.8 411.1L605 411.3L605.1 413.5L605.3 412.8L605.4 413.7L605.6 411.6L605.9 411.3L606.2 408.5L606.3 406L606.5 404.3L606.6 397.1L606.8 395.7L606.9 394.4L607.1 391.8L607.2 387.3L607.5 383.6L607.8 379.7L608 375.2L608.3 372.6L608.6 378.7L608.9 388.3L609.2 390.8L609.3 390L609.5 390.9L609.6 393.2L609.8 393.7L609.9 395.9L610.1 390L610.2 392.8L610.4 400.7L610.5 396.6L610.8 395.1L611.1 400.1L611.3 399.8L611.4 401.5L611.6 403L611.7 401.8L611.9 402.5L612 404.9L612.2 402L612.3 403.5L612.5 402.4L612.6 402.4L612.8 404.2L612.9 404.8L613.1 405.4L613.2 402.9L613.4 407.4L613.5 405.1L613.8 407.8L614.1 400.5L614.3 399.1L614.4 393.8L614.6 396.1L614.7 387.6L614.9 387.3L615 391.4L615.2 378.7L615.3 378.1L615.6 374.9L616 370.1L616.2 366.1L616.5 361.9L616.8 372.9L617.1 382.4L617.4 382.7L617.6 387L617.7 388L617.9 391.8L618 391.6L618.2 393.4L618.5 392L618.8 394L618.9 395.9L619.1 397.4L619.2 398.5L619.4 400.8L619.5 395.5L619.7 402.6L619.8 400.5L620 398.4L620.1 400.4L620.3 400.7L620.5 404.3L620.7 400.8L620.9 403L621 403.8L621.2 401.9L621.3 400.7L621.5 398.6L621.6 398.2L621.8 397.9L621.9 397.2L622.1 400.6L622.2 393.7L622.5 396.4L622.8 396.1L623 391.6L623.1 392.7L623.3 394.7L623.4 391.2L623.6 390.4L623.7 389.4L623.9 393.1L624 392.4L624.2 391.5L624.3 391.8L624.5 391L624.6 390.2L624.9 390.1L625.2 391.4L625.4 392.3L625.5 393.7L625.7 394.8L625.8 398.3L626 398.2L626.1 393.8L626.3 397L626.4 401.5L626.6 402L626.7 400.5L627 405.6L627.3 402.9L627.5 404.7L627.6 405.9L627.8 404.2L627.9 404.9L628.1 405.8L628.2 406.3L628.4 406.1L628.5 407.6L628.7 409.4L628.8 408.2L629 408.3L629.1 406.3L629.3 409.2L629.5 409.4L629.7 410.7L629.9 410L630 407.1L630.2 410.3L630.3 410.8L630.5 411.3L630.6 410.7L630.8 410.2L630.9 411.6L631.1 412L631.2 412.6L631.4 409.7L631.5 411.7L631.7 411.7L631.8 412.6L632 413.4L632.1 411.2L632.3 413.5L632.4 412L632.6 411.1L632.8 413.2L633 414.2L633.2 412.6L633.3 413.4L633.5 414.3L633.6 416.2L633.8 412.4L633.9 416.4L634.1 414.1L634.2 414.9L634.4 414.1L634.5 415.8L634.7 416.6L634.8 416.1L635 417L635.1 415.6L635.3 415L635.4 416.8L635.6 414.5L635.7 416.8L636 418.5L636.3 418.5L636.5 416.8L636.6 418.2L636.8 418.6L636.9 418.8L637.1 418.5L637.2 417.5L637.4 417.3L637.5 416.7L637.7 416.4L637.8 419.8L638 417.7L638.1 418.8L638.3 417.2L638.4 417.9L638.6 416.2L638.7 416.9L638.9 418.6L639 416.2L639.2 417.1L639.3 418.1L639.5 419.4L639.6 418.6L639.8 417.8L639.9 418.8L640.1 417.9L640.2 418.5L640.4 418.8L640.5 417.4L640.7 417.2L640.8 418.3L641 420.2L641.1 419.2L641.3 419.8L641.4 419.6L641.6 418.8L641.7 418.5L641.9 418.7L642 419.6L642.2 418.9L642.3 417.4L642.5 420.4L642.6 419.8L642.8 419.8L642.9 419L643.1 419.1L643.2 420.2L643.4 418L643.5 418.3L643.7 421L643.8 418.9L644 418.3L644.1 421.1L644.3 419.3L644.4 419.3L644.6 420.3L644.7 420.1L645 418.2L645.3 420.9L645.5 420.2L645.6 418.1L645.8 417.7L645.9 420.1L646.1 418L646.2 420L646.4 419.6L646.5 418.7L646.7 419.8L646.8 421.4L647 420.6L647.1 420.6L647.3 420.8L647.4 419.2L647.6 418.8L647.7 419.5L647.9 418.3L648 417.5L648.2 419.1L648.3 417.4L648.5 421.1L648.6 417.7L648.8 420L648.9 418.3L649.1 417.9L649.2 421.2L649.4 420.7L649.5 420.3L649.7 421.5L650 420.7L650.3 419.8L650.4 420.7L650.6 420.1L650.7 419.8L650.9 418.1L651 420.2L651.2 418.4L651.3 418.3L651.5 419.2L651.6 417.9L651.8 420.2L651.9 416.5L652.1 418.4L652.2 418.9L652.4 418.9L652.5 416.8L652.7 418L652.8 419.8L653 418.9L653.1 418.9L653.3 418.1L653.4 418.8L653.6 418.4L653.8 418.3L654 418.8L654.2 418.6L654.3 418.7L654.5 418.4L654.6 418.9L654.8 416.9L654.9 419.3L655.1 419.2L655.2 420.9L655.4 419L655.5 419.2L655.7 419.7L655.8 420.6L656 418.5L656.1 419.9L656.3 419L656.4 418.9L656.6 420.8L656.7 419.3L657 418.9L657.3 419.6L657.5 420.5L657.6 416.9L657.8 420.5L657.9 419.4L658.1 418.7L658.2 417.9L658.4 419.8L658.5 419.2L658.7 419.2L658.8 417.9L659 418.1L659.1 418.4L659.3 418.9L659.4 418L659.6 416.7L659.7 417.9L659.9 415.1L660 416.6L660.2 416.4L660.3 416.4L660.5 419.3L660.6 418.1L660.8 417.5L660.9 417L661.1 417.1L661.2 416.9L661.4 416.9L661.7 416.9L662 417.2L662.1 417.4L662.3 417.6L662.4 418L662.6 417.6L662.7 418.5L662.9 416.4L663 416.1L663.2 418.8L663.3 416.6L663.5 419.3L663.6 417.5L663.8 418.4L663.9 417.7L664.1 418.2L664.2 419.8L664.4 417.1L664.5 419.4L664.7 420.7L665 420.2L665.3 419.9L665.4 418.7L665.6 419.5L665.7 419.9L665.9 419.7L666 420.7L666.2 420.4L666.3 420.5L666.5 418.4L666.6 419.9L666.8 420.1L666.9 420.2L667.1 419.2L667.2 421L667.4 420.1L667.5 420L667.7 418.2L667.8 418L668 419.7L668.1 419.4L668.3 420.4L668.4 418.2L668.6 419.5L668.7 418L668.9 418.7L669 419L669.2 418.2L669.3 419.3L669.5 418.1L669.6 418.6L669.8 419.8L669.9 419.7L670.1 419.7L670.2 419.5L670.4 419.9L670.6 419L670.8 419.4L671 419.9L671.1 419.6L671.3 420.3L671.4 419.9L671.6 419.9L671.7 418.9L671.9 420.6L672 419.5L672.2 421.6L672.3 419L672.5 420L672.6 418.6L672.8 420.7L672.9 419.5L673.1 421.4L673.2 419.3L673.4 421.7L673.5 419.8L673.7 421.3L673.8 420.4L674 421.4L674.1 422L674.3 421.2L674.4 419.3L674.6 422L674.7 421.8L675 420.2L675.3 420.7L675.5 422.9L675.6 421.9L675.8 420.6L675.9 422.8L676.1 420.6L676.2 422.4L676.4 423.2L676.5 421.4L676.7 422.3L676.8 422.6L677 423.4L677.1 420.9L677.3 420.7L677.4 422.6L677.6 420.2L677.7 421.2L677.9 420.2L678 419.6L678.2 423.2L678.3 420.7L678.5 422.9L678.6 420L678.8 420.6L678.9 423L679.1 421.4L679.2 423L679.4 423.5L679.5 422.4L679.7 423.3L679.8 422.7L680 423.5L680.1 423.2L680.3 421.7L680.4 422.9L680.6 422.9L680.7 423.2L680.9 422.7L681 422.5L681.2 422.8L681.3 422.5L681.5 422.2L681.6 422.6L681.8 422.2L681.9 422.2L682.1 421.8L682.2 421.4L682.4 422.3L682.5 423.3L682.7 422.9L682.8 423.1L683 421.3L683.1 421.4L683.3 420.6L683.4 423.6L683.6 423.7L683.7 420.9L683.9 423.3L684 422.3L684.2 423.5L684.3 421.6L684.5 422.2L684.6 423.7L684.8 423.7L684.9 423L685.1 423.2L685.2 422.8L685.4 422L685.5 423.1L685.7 423.6L685.8 422.8L686 421.4L686.1 420.4L686.3 422L686.4 423.9L686.6 422.8L686.7 422.7L686.9 422.3L687 423.9L687.2 423L687.3 423.8L687.5 423.2L687.6 422.1L687.8 423.5L687.9 421.6L688.1 422.6L688.2 423.5L688.4 423.2L688.5 423.8L688.7 422L688.8 421.9L689 423.2L689.1 423.5L689.3 422.6L689.4 423.5L689.6 423.3L689.7 422.8L689.9 422.5L690 421.8L690.2 423.1L690.3 423.7L690.5 421.8L690.6 423.8L690.8 421.8L690.9 423.1L691.1 422.4L691.2 421.9L691.4 422.4L691.5 423.3L691.7 424.1L691.8 421.5L692 423.5L692.1 421.6L692.3 423.9L692.4 423.1L692.6 422L692.7 423.5L692.9 421.2L693 421.3L693.2 423.8L693.3 423.3L693.5 423.2L693.6 424.1L693.8 423.1L693.9 423.7L694.1 423.5L694.2 423.9L694.4 423.7L694.5 423.9L694.7 421.5L694.8 424.3L695 424.2L695.1 423.9L695.3 422.6L695.4 423.4L695.6 423.3L695.7 422L695.9 422.4L696 421.8L696.2 422.5L696.3 424.3L696.5 423.9L696.6 423.4L696.8 421.7L696.9 421.2L697.1 424.3L697.2 423.8L697.4 424L697.5 424.1L697.7 422.7L697.8 424L698 424L698.1 424.3L698.3 422.9L698.4 421.8L698.6 422.6L698.7 424.3L698.9 423.3L699 421.9L699.2 424L699.3 423.2L699.5 423.9L699.6 424.3L699.8 422.3L700 422.8L700.2 423.8L700.4 423.9L700.5 423.7L700.7 424.1L700.8 423.9L701 422.7L701.1 423.9L701.3 422.9L701.4 422.5L701.6 424.3L701.7 422.4L701.9 423.2L702 424.2L702.2 423.2L702.3 423.5L702.5 422.7L702.6 423.5L702.8 421.7L702.9 423.5L703.1 423.9L703.2 422.2L703.4 422.6L703.5 423.8L703.7 422.5L703.8 423.2L704 423.7L704.1 423.8L704.3 423.5L704.4 424.3L704.6 421.7L704.7 424.3L704.9 423.6L705 423.5L705.2 422.5L705.3 423.5L705.5 423.2L705.6 421.8L705.8 423.8L705.9 423.7L706.1 423.7L706.2 424.3L706.4 423.4L706.5 424L706.7 423.9L706.8 423.5L707 422.1L707.1 422.8L707.3 421.4L707.4 423.7L707.6 422.2L707.7 424.2L707.9 424.3L708 423.6L708.2 422.9L708.3 424.3L708.5 422.2L708.6 424.1L708.8 424.2L708.9 422.7L709.1 424L709.2 423.4L709.4 422.9L709.5 422.1L709.7 423.1L709.8 424L710 423.8L710.1 422.6L710.3 424.2L710.4 422.9L710.6 423.7L710.7 423.7L710.9 423.6L711 423.2L711.2 423.5L711.3 422.3L711.5 422.6L711.6 421.6L711.8 423.8L711.9 423.6L712.1 424.2L712.2 423.6L712.4 422.1L712.5 424L712.7 423.6L712.8 424.1L713 423.4L713.1 422.1L713.3 422.6L713.4 423.7L713.6 423.8L713.7 423.9L713.9 424L714 424.2L714.2 423.3L714.3 422L714.5 424.2L714.6 423.3L714.8 423.3L714.9 422.9L715.1 422.3L715.2 423.7L715.4 423.2L715.5 423.1L715.7 423.6L715.8 423.8L716 424.3L716.1 422L716.3 423.5L716.4 424.2L716.6 423.8L716.7 423.9L716.9 422.5L717 424.2L717.2 423.9L717.3 423.5L717.5 422.7L717.6 423L717.8 423.5L717.9 422.7L718.1 424L718.2 422.1L718.4 424.1L718.5 424L718.7 423.6L718.8 423.2L719 423.8L719.1 424.3L719.3 423.4L719.4 422.8L719.6 422.9L719.7 421.5L719.9 424.3L720 422.8L720.2 424.3L720.3 421.4L720.5 422.9L720.6 421.7L720.8 423L720.9 423.7L721.1 424.2L721.2 423.4L721.4 422.6L721.5 424.3L721.7 423L721.8 422.4L722 423.8L722.1 423.5L722.3 421.6L722.4 422.3L722.6 423.8L722.7 423.2L722.9 423L723 424.1L723.2 423.4L723.3 423.2L723.5 423.9L723.6 423.9L723.8 421.9L723.9 424.1L724.1 422.7L724.2 422.9L724.4 422.1L724.5 422.7L724.7 422.3L724.8 423.3L725 422.5L725.1 423.3L725.3 422.8L725.4 424L725.6 422.4L725.7 424.3L725.9 424.3L726 421.4L726.2 421.8L726.3 422.4L726.5 422.6L726.6 422.5L726.8 422.6L726.9 424.3L727.1 424.1L727.2 423.9L727.4 424.3L727.5 423.5L727.7 424L727.8 422.9L728 423.9L728.1 424.3L728.3 422.7L728.4 424.3L728.6 423.4L728.7 423.9L728.9 421.6L729 423.5L729.2 422.6L729.3 424.3L729.5 421.7L729.6 424L729.8 424.1L729.9 424.3L730.1 423.7L730.2 423.9L730.4 423.8L730.5 423.6L730.7 424L730.8 422.4L731 423.5L731.1 423.1L731.3 423.3L731.4 423.9L731.6 421.5L731.7 422.5L731.9 424.3L732 424.1L732.2 423.6L732.3 422.8L732.5 424.3L732.6 423.7L732.8 423.4L732.9 422L733.1 424.3L733.2 421.8L733.4 421.5L733.5 422L733.7 422.8L733.8 422.8L734 422.3L734.1 423.3L734.3 421.9L734.4 422.5L734.6 424L734.7 423.3L734.9 423.9L735 422.8L735.2 423.1L735.3 422.5L735.5 423.5L735.6 423.7L735.8 422.5L735.9 422.1L736.1 423.5L736.2 423.6L736.4 423.9L736.5 422.2L736.7 422.9L736.8 422.9L737 424.3L737.1 424.1L737.3 422.6L737.4 422.7L737.6 422.5L737.7 422.9L737.9 423.7L738 423.7L738.2 422.8L738.3 424.1L738.5 423.7L738.6 422.6L738.8 423.9L738.9 423L739.1 423.9L739.2 423.6L739.4 421.5L739.5 422L739.7 422.5L739.8 423.2L740 422.9L740.1 421.7L740.3 422.2L740.4 423.5L740.6 421.7L740.7 422.7L740.9 421.9L741 424.1L741.2 423.9L741.3 423.8L741.5 423.5L741.6 423.9L741.8 423.8L741.9 424.3L742.1 423.2L742.2 421.7L742.4 423.7L742.5 423.8L742.7 423.2L742.8 423L743 421.4L743.1 424.3L743.3 423.5L743.4 424L743.6 424.2L743.7 422.6L743.9 422.4L744 422.6L744.2 423.9L744.3 422.4L744.5 422.4L744.6 422.2L744.8 423.3L744.9 423.4L745.1 424.1L745.2 423.7L745.4 423.1L745.5 423.4L745.7 423.5L745.8 423.4L746 423.6L746.1 423.6L746.3 422.2L746.4 423.7L746.6 421.7L746.7 422L746.9 423.4L747 422L747.2 421.8L747.3 423.8L747.5 423.8L747.6 423.9L747.8 424.3L747.9 423.6L748.1 424.3L748.2 423.5L748.4 424.3L748.5 424.2L748.7 424.3L748.8 422.7L749 422.6L749.1 422L749.3 424L749.4 424.2L749.6 421.9L749.7 423.5L749.9 422.1L750 423.9L750.2 423.4L750.3 421.7L750.5 423.6L750.6 423.4L750.8 423.9L750.9 423.3L751.1 423.4L751.2 423.5L751.4 423.6L751.5 423.3L751.7 422.4L751.8 423.5L752 422.7L752.1 424.1L752.3 424.2L752.4 422L752.6 424L752.7 423.8L752.9 424L753 421.6L753.2 421.7L753.3 423.5L753.5 423.7L753.6 422.7L753.8 424L753.9 424.3L754.1 422.5L754.2 423.6L754.4 420.9L754.5 423.8L754.7 422.3L754.8 423.2L755 424.2L755.1 423.7L755.3 423.1L755.4 424.3L755.6 423.9L755.7 423.5L755.9 424.1L756 423.9L756.2 422.8L756.3 423.3L756.5 422.9L756.6 423.7L756.8 423.9L756.9 423.3L757.1 424.1L757.2 423.7L757.4 422.5L757.5 423.5L757.7 423.5L757.8 424.3L758 423.6L758.1 423.3L758.3 424.3L758.4 422.6L758.6 422.8L758.7 423.7L758.9 424.2L759 423.6L759.2 423.7L759.3 423.9L759.5 423.9L759.6 423.8L759.8 422.3L759.9 422.6L760.1 424.3L760.2 423.6L760.4 424.3L760.5 424L760.7 423.9L760.8 423.9L761 423.6L761.1 423.8L761.3 421.9L761.4 422.2L761.6 423.1L761.7 424.3L761.9 423.1L762 423.9L762.2 423.2L762.3 421.7L762.5 423.1L762.6 421.9L762.8 423.6L762.9 424L763.1 422.2L763.2 422.4L763.4 424.3L763.5 424.2L763.7 423.9L763.8 423.8L764 424.2L764.1 423.6L764.3 422.2L764.4 424L764.6 422.7L764.7 423.3L764.9 423.1L765 423.7L765.2 423.9L765.3 424.3L765.5 424.2L765.6 424L765.8 423.9L765.9 423.4L766.1 424.3L766.2 423.3L766.4 422.9L766.5 422.4L766.7 424.3L766.8 421.5L767 424L767.1 421.9L767.3 422.6L767.4 424.3L767.6 423.9L767.7 422.8L767.9 422.9L768 423.9L768.2 424.3L768.3 423.9L768.5 424L768.6 424.3L768.8 423.9L768.9 423.4L769.1 423.2L769.2 423.6L769.4 423.7L769.5 421.6L769.7 424L769.8 423.7L770 424.3L770.1 422.2L770.3 423.6L770.4 424.2L770.6 423.1L770.7 423L770.9 422.1L771 422.8L771.2 424.1L771.3 422.5L771.5 423.9L771.6 424.1L771.8 423.4L771.9 422.7L772.1 423.5L772.2 423.9L772.4 423.2L772.5 422.9L772.8 424.3L773 418.1" fill="none" stroke="#000" stroke-width="0.6" stroke-linejoin="round"/><line x1="35" y1="424.0" x2="772.8" y2="424.0" stroke="#000" stroke-width="1.0"/><line x1="34" y1="427.5" x2="773.2" y2="427.5" stroke="#222" stroke-width="1.3"/><line x1="77.2" y1="424" x2="77.2" y2="427.5" stroke="#000" stroke-width="1.2"/><line x1="148.1" y1="424" x2="148.1" y2="427.5" stroke="#000" stroke-width="1.2"/><line x1="219.1" y1="424" x2="219.1" y2="427.5" stroke="#000" stroke-width="1.2"/><line x1="290.0" y1="424" x2="290.0" y2="427.5" stroke="#000" stroke-width="1.2"/><line x1="361.0" y1="424" x2="361.0" y2="427.5" stroke="#000" stroke-width="1.2"/><line x1="431.9" y1="424" x2="431.9" y2="427.5" stroke="#000" stroke-width="1.2"/><line x1="502.8" y1="424" x2="502.8" y2="427.5" stroke="#000" stroke-width="1.2"/><line x1="573.8" y1="424" x2="573.8" y2="427.5" stroke="#000" stroke-width="1.2"/><line x1="644.7" y1="424" x2="644.7" y2="427.5" stroke="#000" stroke-width="1.2"/><line x1="715.7" y1="424" x2="715.7" y2="427.5" stroke="#000" stroke-width="1.2"/><text x="56" y="449" font-size="19" fill="#000" font-weight="bold" text-anchor="start" textLength="41.8" lengthAdjust="spacingAndGlyphs">2000</text><text x="197.6" y="449" font-size="19" fill="#000" font-weight="bold" text-anchor="start" textLength="42.0" lengthAdjust="spacingAndGlyphs">4000</text><text x="339.7" y="449" font-size="19" fill="#000" font-weight="bold" text-anchor="start" textLength="41.7" lengthAdjust="spacingAndGlyphs">6000</text><text x="482.2" y="449" font-size="19" fill="#000" font-weight="bold" text-anchor="start" textLength="41.2" lengthAdjust="spacingAndGlyphs">8000</text><text x="619.1" y="449" font-size="19" fill="#000" font-weight="bold" text-anchor="start" textLength="51.9" lengthAdjust="spacingAndGlyphs">10000</text><text x="386" y="471.5" font-size="22" fill="#000" font-weight="bold" font-style="italic" text-anchor="start" textLength="36.5" lengthAdjust="spacingAndGlyphs">m/z</text><line x1="449.3" y1="428.2" x2="187" y2="510.5" stroke="#A6A6A6" stroke-width="2" stroke-dasharray="9 6"/><line x1="703.7" y1="429" x2="738.5" y2="507.5" stroke="#A6A6A6" stroke-width="2" stroke-dasharray="9 6"/><text x="3.9" y="501.5" font-size="23.8" fill="#000" font-weight="bold" text-anchor="start" textLength="26.6" lengthAdjust="spacingAndGlyphs">(c)</text><rect x="280.6" y="681.5" width="69.9" height="159" fill="#E3E2E3" stroke="#C9C9C9" stroke-width="1.5"/><rect x="351" y="501" width="69.5" height="340" fill="#fff" stroke="#D2D2D2" stroke-width="1.5"/><rect x="420.5" y="501" width="80" height="340" fill="#E3E2E3" stroke="#C4C4C4" stroke-width="1.5"/><rect x="501.5" y="670" width="97.5" height="171" fill="#fff" stroke="#D2D2D2" stroke-width="1.5"/><rect x="599" y="761" width="86.5" height="80" fill="#E3E2E3" stroke="#C9C9C9" stroke-width="1.5"/><line x1="187" y1="510.5" x2="187" y2="842" stroke="#A6A6A6" stroke-width="1.5"/><line x1="739.2" y1="511" x2="739.2" y2="842" stroke="#A6A6A6" stroke-width="1.5"/><text x="296.8" y="717.6" font-size="16" fill="#262626" font-weight="bold" text-anchor="start" textLength="36.4" lengthAdjust="spacingAndGlyphs" stroke="#262626" stroke-width="0.25">[19+]</text><text x="368.3" y="517.6" font-size="16" fill="#262626" font-weight="bold" text-anchor="start" textLength="36.1" lengthAdjust="spacingAndGlyphs" stroke="#262626" stroke-width="0.25">[18+]</text><text x="444.2" y="517.6" font-size="16" fill="#262626" font-weight="bold" text-anchor="start" textLength="36.4" lengthAdjust="spacingAndGlyphs" stroke="#262626" stroke-width="0.25">[17+]</text><text x="533.2" y="691.2" font-size="16" fill="#262626" font-weight="bold" text-anchor="start" textLength="36.3" lengthAdjust="spacingAndGlyphs" stroke="#262626" stroke-width="0.25">[16+]</text><text x="621.4" y="779.3" font-size="16" fill="#262626" font-weight="bold" text-anchor="start" textLength="35.9" lengthAdjust="spacingAndGlyphs" stroke="#262626" stroke-width="0.25">[15+]</text><path d="M187.6 840.2L187.8 837.2L187.5 837.7L187.9 837.4L189 840.9L188.7 837.5L189.5 838.6L190.4 840.9L190.4 838.4L191 838.7L191.1 840.3L190.9 838.2L191.6 837.9L191.7 838.7L192.7 836.7L192.6 835.2L193.4 838.8L193.7 837.9L194 837.4L194.8 839.4L194.9 839.5L195.2 834.8L196.1 840.2L196.2 841.2L196.2 836L197.4 839.9L197 838.7L197.9 835.4L198.4 841.5L198.5 836L198.8 839.8L199.3 841.6L199.9 837.2L199.9 835.6L200.9 841.6L200.8 838.1L201.2 840L202.2 838L202 837L202.1 839.9L203 836.9L203.4 834.4L203.8 839.2L204.8 835.1L204.4 837.5L205.4 837.6L205.7 836.1L206.2 838.8L206.2 836.5L206.5 837.6L206.9 837.7L207.5 838.3L208.1 836.1L208.7 840.1L208.1 836.2L209.3 840L209.5 839.2L209.8 838.9L209.9 836.9L210.7 839.6L210.5 841.6L211.8 836.9L211.5 837.2L212.2 837.8L212.6 836L213.2 840.4L213 836.1L214.1 839.8L214.3 834.3L215.1 836.5L215.1 838.2L215.4 836.2L215.2 837.7L216.1 836.6L217.1 839.3L216.9 839.8L217.3 841.1L217.8 837.9L218.5 840.8L218.1 836.7L219.5 841.6L219.6 837.9L220.2 836.6L220.2 837L221.2 832.9L220.9 836L221.7 838.3L221.8 836.6L221.8 834.5L222.6 840L223.2 838.4L223.3 839.5L223.7 838.2L224.2 836.7L224.4 839L224.7 838.7L225.4 839.2L225.5 837.7L226.4 838.6L226.8 838.5L227.4 838.7L227.7 838.2L227.7 835L228.3 839L228.3 841.6L229.1 838.6L229.3 840.4L230.2 835.5L230 837.9L230.7 837.3L230.8 835.6L231.6 840.2L232 839.5L231.9 838.9L233.2 836.7L233.2 840.6L233 837.5L233.5 832.9L233.7 835.4L234 836.1L235 834L234.8 838L235.9 836.6L235.7 834.7L236.5 835.4L237.5 841.4L237.3 836.9L237.8 839.9L238.6 839.8L238.5 839.5L239.2 839.7L239.2 836.7L239.9 838.2L240.2 840L240.6 839.6L240.8 838.5L241.5 839.2L242 839.8L242.4 840.2L242.6 837L242.7 838.6L243.6 837L244.1 839.1L243.9 840.6L243.9 834.4L244.9 838.2L245.7 841.1L246.1 838.7L245.9 837.9L247 840.8L246.7 838.7L247.7 831.6L247.7 839.2L248.5 839.3L248.7 837.9L248.9 834.7L249.6 836.6L249.6 838.6L250.1 837.3L250.5 835.5L250.7 839.9L251.7 838.3L252.3 840.8L252.2 835.4L252.3 834.7L253.1 833.2L253.5 834.9L253.8 834.3L254.2 832.1L254.6 830.5L255 832.1L255.4 833.1L255.7 833.4L255.7 835.9L256.5 834.2L256.8 838.4L257.3 838.9L258 837.2L258 837.4L258.7 836.3L258.9 838.3L259.3 837.5L259.2 835.4L260.3 836.8L260.8 838.4L260.7 834.1L261.2 839.8L261.2 836.7L262.1 833.6L262.3 836.3L263.1 834.7L263.3 837.1L264 833.7L263.9 836.2L264.1 839.1L264.9 838.9L265.2 835.5L266.5 839.2L266.2 833.4L267 832.2L267 833.1L267.4 831.7L267.9 828.8L268.2 830.1L268.6 831.5L269 829.6L269.5 832.9L270.1 839.4L269.8 837.5L270.7 836.1L270.7 839.9L271.4 833.5L272.2 836L271.6 835.7L272.5 840.7L273.1 840.4L273.7 833.7L273.8 836.6L273.9 837L274.8 836.3L275.1 834.8L274.8 839.8L275.8 838.8L275.7 835L275.8 836.5L276.7 837.4L277.1 834.4L277.1 835.9L278.7 835L278.2 836.5L279.1 838.1L279.6 832.9L280.4 835.7L280.1 832.5L281.1 834.6L280.6 830.6L281.4 828.9L281.9 825.8L281.9 831.9L282.7 829.6L283.6 828.8L284 832.5L284 830.3L283.9 827.3L284.4 825.6L285.2 829.7L285.6 830.4L286.2 830.4L286.1 826.8L286.3 827.3L287.1 828.2L287.4 826.5L288.2 829.2L288 829.9L288.8 828.5L289.4 826L290 828.3L290.4 829.2L289.9 829.6L290.2 827.4L291 823.1L291.1 829.5L291.3 830.5L292.6 829.7L292.7 828.5L293.3 827.1L293.5 826.3L294.2 830.3L294.3 827.9L294.6 828.4L295.6 827.1L295.1 825.1L296 824.3L295.7 828.7L297 826.6L296.9 829.9L296.9 829.3L297.3 821.4L298.1 813.7L299.4 798.3L299.1 800.5L298.9 793.3L299.2 789L301 783.8L300.6 781.3L301.2 776.2L301.4 778.5L301.8 783.1L302.7 788.1L302.5 794.2L302.9 800.4L303.6 801.5L303.6 802.9L304.3 803.1L304.6 806.9L305.3 808.9L305.2 810.8L305.7 814.3L306.3 813.2L306.7 814.1L306.6 812.6L307.2 817.8L307.8 818.1L308 816.9L308.6 817.6L309 815.8L309.5 814.3L309.8 816.3L310.2 817.2L310.6 819.2L311.3 820.3L311.3 821.4L312.2 821.8L312 818.7L312.9 812.5L313.1 808.5L313.3 804.2L314.3 798.9L314.5 786.8L314.5 776.9L315 770.5L315.4 761.2L315.8 751.3L316.2 758.2L316.6 765L317 769.8L317.1 779.4L317.7 778.7L318.7 783L319.3 784.4L318.9 793.4L319.3 797.4L319.3 805.2L320.4 808.4L320.9 811.1L320.7 811L321.1 811.5L321.9 814.4L322 814.5L322.7 813.9L323.7 811.7L323.5 814L324 815.8L324.8 815.4L324.7 816.3L325.2 816.7L325.4 815.1L325.6 817.1L326.7 820L326.3 817.4L327 815.1L327 811.6L327.5 805.6L327.8 803L328.4 797L329.1 792.6L329.4 788.5L330 781.3L330.2 783.3L330.6 787.4L330.8 789.9L331.4 790.9L331.9 800.7L332.2 802L332.6 805L333.7 809L333.4 814.5L334 817.2L333.9 817.9L334.9 819.1L334.8 820.7L335.4 820.5L335.6 821.9L336.2 823.4L336.3 823.3L336.6 825.2L337 824.9L337.7 824.2L338.2 826.8L338.8 826.5L339.4 827.6L340 827.1L339.6 828L340 824.7L340.8 824.8L340.7 823.4L341.7 823.8L342.3 821L341.9 819.9L342.8 818.7L343.4 820.2L343.5 819.1L343.7 815.9L344.2 816.7L344.6 817.2L345 816.4L345.4 814.8L345.8 817.2L346.2 819.6L346.3 820.6L347.2 822.7L347.1 824.7L347.9 825.7L347.7 829.6L348.5 830.7L349 824.1L349.5 821.7L350.1 818.1L350.4 813.1L350.7 810.9L350.9 802.8L351.1 801.1L351.5 794.9L352 794.2L352.6 787.3L353 783L353.3 779.7L353.8 784.3L354.4 786.7L354.5 789.8L355.1 794.5L355.4 798.8L355.9 803.3L356.1 805.2L356.4 812.6L356.9 808.8L357.2 806.3L358.3 805.1L358.6 805.6L358.4 801.2L358.8 800.1L359.5 801.6L359.4 801.1L360.6 798.5L360.6 794.2L360.9 794.8L361.4 794.1L361.8 792.4L362.1 790.9L362.6 792.6L362.5 791L363.2 792.7L363.6 797.9L363.7 796.9L365 795.3L365.7 788.5L365 782.6L365.6 773.9L366.5 766.7L366.4 759.1L367 724.1L367.2 695.9L367.9 666.2L367.9 636.9L368.6 617.8L369.2 585.2L369.4 596.3L369.8 618.2L370.1 639L370.7 659.1L370.7 675.6L371.2 700.9L371.1 708.7L372 714.7L372.6 722.3L373.3 731.5L373.2 743.2L373.4 745.2L374.6 748.5L374.9 751.3L374.7 755.2L375.2 760.7L375.3 760.1L376.2 757L376.6 755.9L377 755.1L377.4 756.6L377.8 758.3L378 759.3L378.6 759.2L378.8 763.5L379.6 765.7L380.2 770.3L380.4 771.4L380.7 758.9L381.1 745.9L381.7 734.9L381.7 721.8L382.3 699.3L382.6 684.4L383.4 654.9L383.4 627.6L384 599.6L384.2 583L384.6 566.9L385 549.1L385.4 566.3L385.8 583.3L386 599.8L386.5 625.3L387.2 645.1L387.5 670.7L387.7 689.8L387.9 703L388.4 712.6L390.1 722.6L389.5 739L390 737.5L390.3 740.3L390.2 744.7L391.4 746.4L391.4 746L391.5 744.7L392.4 746.8L392.4 747.4L393.1 747.5L393 753.2L393.7 759.8L394.4 762.1L394.5 765L394.6 770.1L395.2 773.4L396 781.2L395.7 781.2L396.1 787L397.2 775.7L397.4 767.9L397.8 760.4L398.1 756.2L398.7 746.8L399.2 743.3L399.5 722.8L399.8 707.8L400.4 684.9L400.6 688.9L401 696.6L401.3 702.2L402 714L402.3 720.7L402.4 727.6L403.4 732.2L403.5 741.5L404.4 746.5L404.4 754.4L404.6 759.6L405.7 769.1L405.8 771.6L405.8 777.8L406 785.2L407.2 788.5L407.5 795.7L407.8 795.7L407.7 798.8L408 797.6L408.3 800.5L409.4 803.3L409.4 803.1L410.2 802.9L409.6 803.3L410.9 807.1L410.8 807.2L410.6 808.5L411.4 811.1L412.5 813.8L413.1 814.4L412.2 807.7L413 808.6L413.8 802.3L414.2 800.1L414.6 796.8L415.1 792.3L415.4 794.3L415.8 796.2L416.1 795.5L416.3 801.2L417 800.7L417.4 805.1L418.1 809.3L418.3 810.8L419.1 812L418.5 813L419.3 814L420 815.5L420.2 814.9L419.8 818.1L421.1 817.8L421.2 820.1L422.5 820.7L422.2 823.3L422.8 824.1L422.7 824.1L423.6 819.8L423 817L423.9 814.3L424.5 809.7L424.5 803.8L425.8 799.5L425.8 799L426.7 791.6L426.2 791L426.7 785.3L427.6 784.5L427.6 778.4L428.2 776.4L428.8 770.7L429 773.1L429.4 777.3L430 783L430.3 782.9L430.5 788.3L430.9 797.4L431.3 798L432.1 800.3L433 807.2L432.2 802.2L432.7 807.1L433.4 804.3L434.2 800.8L433.9 803.2L435.3 799.7L435.7 798.6L434.7 798.8L436 797.5L436.4 795.3L436.5 794.1L437 792.6L437.4 791.3L437.7 790.9L438.2 793.4L438.8 795.6L438.7 797.3L440 798.2L440.4 800L440.8 801.5L440.6 797.8L441.3 785.9L441.4 777.5L441.7 767.7L441.6 758.1L442.7 733.4L442.4 707.5L443.6 682.9L443.6 650.1L444.2 637.9L444.6 614.5L445.1 584.6L445.4 598.8L445.8 617L446.8 638.1L446.7 648.2L446.9 657.7L447.7 665.1L447.5 677.7L447.9 690.5L448.3 702.9L449.3 712.7L449.3 728.9L449.8 742.8L450.1 753.2L450.5 750.9L451.4 750.8L451.6 750.7L451.8 748.6L452.2 747.2L452.7 746.6L453 748.2L453.4 750.7L454 752.8L454.2 755.1L454.7 758.2L454.8 759.5L455.2 762.2L455.5 766.3L456.6 768.2L456.4 771.1L457.1 774.9L457.4 759.3L457.9 740.6L458.1 722.9L458.1 705L459.5 689.4L459.1 662.5L460 641L459.9 618.7L460.7 599.7L461 581.8L461.4 567.1L461.9 549L462.2 560L462.6 574.4L462.4 589.1L463.2 599.6L464.1 623.6L464.1 644.9L465 665.2L465.1 691.6L465.2 695.9L466.2 703.3L466.2 712.8L466.5 717.3L467.3 725.9L467.3 734.1L467.3 739L468 740.3L469.4 744.5L469.7 745.5L468.9 746.5L470 752.4L470.8 751.5L470.5 755.8L471.2 759.3L471.1 764L471.7 769.5L472.5 771.8L472.6 776.8L472.9 781.2L473.3 773.8L473.4 769.9L473.9 762L474.4 754.1L474.9 746.8L475.2 739.5L476.4 733.6L475.6 724.3L476.3 717.4L476.8 704.2L477.5 696.1L477.8 695.4L478.3 692.3L478.6 698.3L479 705.2L479.5 712.8L480 719.5L480.4 726.6L480.2 735.7L481.3 743.2L481.7 749L481.9 757.4L482.3 763.6L482.6 770L482.9 775.8L483.9 787.1L484.3 789.5L484.1 788.7L484.7 793.7L485.3 793.8L485 798.1L486.3 799.2L486.3 800L487.1 803.1L486.9 801.8L487.1 805.3L487.8 806.7L488.3 805.3L488.3 809.3L489.3 808.8L489.5 810.1L489.5 809.8L490.4 813.3L490.7 813.5L491 811.6L491.3 807.1L491.6 806.9L491.8 804.5L492.6 801.7L493 798.8L493.4 795.5L493.8 793.3L494.3 789.9L494.6 792.3L495 796.1L495.5 798.8L496.5 800.2L496.1 805.1L496.5 806.6L497 810.6L497.2 815.2L498.1 816.7L498.2 817.4L498.6 817.6L498.8 819.3L499.6 819.6L499.8 823L500.1 822.2L500.5 821.6L501.5 821.6L501.4 827L501.9 826.5L502.6 826.2L502.6 826.2L503.4 827.7L503.1 827.3L504 831L503.6 828.7L504.6 827.1L504.9 829.2L505.2 826.9L506.1 831.7L506.4 831.9L506.9 833.8L507.5 834.9L507.7 831.3L508 831.7L508.2 831.3L509.2 829L509.3 826.8L509.2 827.1L509.5 824.5L510 824.4L510.3 821.3L511.4 819.1L511.5 818L512.1 816.4L512 814.9L512.6 814.9L513 813.9L513.3 812.7L513.8 815.1L513.6 817.4L514.4 818.2L515.8 817.2L515.2 821.7L516.1 823.3L516.7 822.3L516.4 823.7L516.8 825.4L517.5 826.7L518 826.9L517.7 825.3L518.3 827L519.5 823.9L519.1 824.1L519.9 823.3L520.5 821.4L520.5 823.7L521 822.1L521.6 821.2L521.8 821.1L522.2 822.2L522.1 823.3L522.8 822.9L523.3 821.3L524 825.4L524.1 824.6L524.4 825.6L525.6 825.9L525.4 825.8L525.7 827L526 826.3L526.6 818.5L526.7 809.9L527.2 799.8L527.5 790.2L527.8 785L528.5 779.7L528.6 773.6L529.9 769.2L529.6 761.1L530.7 761.6L530.6 760L531 757.4L531.5 752.4L531.8 756L532.2 760.9L532.7 765L532.9 769.4L533.2 774.5L534.1 779.1L533.7 780.8L535.1 785L535 788.2L535.6 790.2L535.8 796.1L536.1 795.2L536.5 800.8L536.7 808.1L537.7 806.2L537.8 806.6L538.4 804.1L538.8 803.6L539 802.9L539.4 802L539.8 801.4L540.2 803.1L540.6 804.4L541 807.5L541.3 806.2L541.8 810.5L542.6 810.5L542.9 813.3L543.2 811.3L543.2 814.1L544 808.7L544.3 800.5L544.9 792.5L545 784.3L545.5 773.5L545.9 772.3L546 765.7L546.4 759.1L547.1 752.8L547.3 750.3L547.8 743.2L548.2 738.5L548.6 733.2L549 736.5L549.4 739.3L549.5 741.6L550 745.8L550.9 749.6L551.1 752L551 757.5L552.2 762.7L552.2 767.1L552.7 769.5L553.4 779.8L553.2 781.7L553.6 788L554.4 792.2L555 798.8L555 800.7L555.8 801.8L555.9 804.9L556.5 804.9L556.4 809.1L557 805.7L557.7 808.5L557.8 812.5L558 811.5L558.7 811.7L558.9 811.4L559.1 816.2L559.3 813.4L560.6 816.3L560.6 817.2L561.4 818.5L561.1 820.2L561.8 815.4L562.2 811.7L562.6 809.5L562.5 804.4L563.8 805.5L563.9 798.8L564.3 798.1L564.3 793.7L565.5 792.5L565.4 789.2L565.8 786.6L566.3 782.5L566.6 785L567 786.7L567.8 785.8L567.5 791.8L567.9 792.9L568.3 794.4L569.1 801.5L569.6 800.1L569.5 800.3L570.4 803.7L571.1 806.4L571.2 807.2L571.5 811.6L571.5 812.5L572.7 812.4L572.8 815.5L572.6 818L573.2 817.4L573 818.7L574.3 820.6L574.2 821.7L574.9 819.9L575.8 821.7L575.4 822.9L576.4 824.4L576.5 824.5L576.7 828.1L577.8 826.3L578 827.5L578 828.2L578.7 825.4L578.8 826.4L579.1 827.9L579.7 824.9L580.5 824L580.1 826.6L580.6 824.8L581.6 824.2L581.4 824.3L582.2 823.2L582.6 823L582.9 822.6L583.4 824.2L583.7 824.3L584.2 824.2L584.8 825.1L585 825.4L585.7 824.9L585.8 825.8L586.1 829.6L586.8 826.5L587.1 828.6L587.6 830.5L587.8 832.4L588.1 829.2L588.5 832.9L588.5 831.3L589.5 833.8L589.6 833.2L590 831.8L590.5 834.2L591.6 834.7L591.1 833L592.2 837.3L591.6 833.7L592.5 836.9L593.5 834.3L593.4 833.8L593.9 834.8L594 836.1L594 836.7L595.1 838.4L595.7 836.7L596.1 836.3L596.8 834.7L596.6 837.2L597.1 837L596.8 834.5L597.7 838.8L598.2 838.5L599 840.7L599.5 837L600 838.3L599.9 838.4L600.2 836.6L600.6 835.8L601 834.4L601.4 837.9L602.2 834.3L602.1 835.7L602.1 834.6L602.6 833.3L604.3 838.6L604.2 835.9L604.1 840.1L604.6 841.1L605.2 838.5L605.5 839.2L605.9 834.4L605.6 839.4L606.2 838.5L607 836.2L607.6 835L607.9 834.6L608.7 837.3L608.6 838.9L609.1 835L609.4 833.6L610.1 837.6L610 836.1L611.2 837L610.7 837.1L611.4 839L612 837.4L612.2 837.9L612.6 838.7L612.7 834.9L613.3 838.1L614 833.3L614.5 836.4L613.8 835.1L614.9 838.1L615.5 836.6L615.9 834.5L616.3 840.7L616.6 833.9L617 835.8L616.8 833.6L618.1 838.1L617.5 835.5L618.5 833.3L618.7 834.1L619.5 835.5L619.5 832.2L620.5 836L620.7 836.8L621.2 835.6L621.7 830.4L622.3 828.9L622.1 834.6L622.8 831.9L623.1 830.9L623.6 829.5L623.8 831.4L623.4 827.5L624.5 829.1L625 828.2L625.2 830.8L625.6 833.5L626.2 831.9L626.6 831L626.9 831.1L627.4 831.5L627.8 826.9L628.4 827.9L628.2 831.3L628.7 830.5L629.3 832.1L629.5 831.5L630.2 829.9L630.6 831.7L631.5 831.2L631.2 833.5L632.2 834.7L631.9 833.2L632.5 833.5L633.2 829.6L633.7 829.7L633.1 833.6L634.2 834.7L634.7 835.9L634.5 834.1L635.3 835.7L635.7 831.3L636.3 832.6L637 833.6L636.6 836.3L637.1 836.6L638.3 832.8L638.5 833.6L639.1 833.7L639 831.4L639.7 836.8L639.1 835.6L640.3 831.2L640.3 833.5L640.6 833.5L641.1 831L642.1 834.3L642.6 828.1L642.4 831.1L642.9 831L643.7 829.1L643.6 832.7L644.3 826.5L644.8 826L645.3 829.7L645.4 829.1L645.8 828.3L646.2 827.2L646.6 828.4L647 828.3L647.2 827.3L647.5 829.5L648.3 829.2L648.6 828.6L649.1 824.7L649.4 832.7L650.2 827.6L650.3 827.9L650.6 831.8L650.7 827.2L651.3 833.7L651.8 831.3L652.6 834.1L652.7 834.2L652.8 830.6L653.6 828.7L654 836.3L654.1 833.5L654.7 835.1L654.7 833.4L655.4 834.8L656.4 834.7L656.5 836.5L657 838.4L657.3 834.8L657.6 838.5L657.5 836.9L658.1 840.7L658.4 836.7L659.1 832.9L659.7 835.5L660.4 837.2L660.2 833.1L660.3 831.2L661.1 833.7L661.4 831.8L661.9 835.1L662.2 830.2L662.8 834.4L662.8 832.9L663.5 832.4L664.1 830.5L664.3 836.3L664.6 834.2L665 833.6L665.5 833.6L665.8 834.6L666.2 834.7L666.5 827.7L666.9 834.7L667.4 835.4L667.6 836.9L668.7 833.6L668.9 834.2L669.1 838.1L669.5 831.9L669.8 833L670.4 834.6L670.5 838.3L671 835.8L671.2 838.7L672.2 832.2L672.5 838.7L672.9 839.8L673.3 835.7L672.7 837L673.8 834.9L674.5 839.2L674.7 838.8L674.5 835.9L675.5 833.8L676 838.2L676 839.1L676.3 834.8L676.8 838.1L676.5 837.9L677.9 834.9L677.9 833.5L678.5 841.6L678.9 841.6L679.4 835.4L680.2 836.1L679.9 837.1L680.5 841.1L680.4 840.6L681.2 835.7L681.2 837.5L682.4 836.1L682.6 838.4L682.8 837L683.6 836.8L683.5 839.7L684.1 838.3L684.3 834.6L684.7 839.2L685.3 840.4L685.6 839.8L686.1 838L686.3 835.8L686.5 838.8L687.8 839.6L687.9 841.6L688.1 837.6L688.6 836.9L688.7 839.2L689.5 835.7L689.6 834.1L690.3 840.8L690.7 837.8L691 835.3L691.6 836.3L691.8 836.9L692.7 836.7L692.8 839.6L692.5 841.6L693.1 838.7L694.3 838.1L694 839.7L694.7 836.4L694.8 837.4L695.8 839.9L696.1 840.5L696.4 839.8L696.5 836.8L696.9 838.5L697.8 840L697.6 838.4L697.6 838.9L699.1 841.1L699.3 838.2L699 840.2L699.9 837.3L700.4 841.6L700.7 836.4L701.5 839.6L701.8 837.4L701.6 838.5L702.2 839.1L702.9 839.5L703.3 836.7L703.3 840.4L704.1 836.4L704 838.9L704.9 836.7L704.5 839.2L705.5 838L706.4 834.7L706.7 837L706.4 836.1L706.1 841.6L707.5 834.7L708.1 838.1L708.2 841.6L708.7 840.3L708.6 839.4L709.2 839.5L709.4 837.1L709.8 836.1L710.4 835.7L711.4 834.8L711.5 837.3L711.6 835.7L712.1 834.1L712.3 836.6L712.8 840.1L713.4 838.5L713.3 840.1L714.3 839.8L714.4 838.1L715.3 835.5L715.1 837.3L715.8 839.1L715.9 840.9L716.7 835L716.5 834.8L717.2 834.3L717.5 838L717.7 840.3L718.5 838.4L718.9 834.6L719.2 841.6L719.5 838.5L720 838.8L720.4 837.2L721.3 837.3L721.5 836.2L722.2 836.2L722.5 841.1L723.1 838.8L723 838.4L723.5 839.8L723.8 834.3L724.1 836.2L724.8 836.4L725.1 834.9L725.6 840.2L725.9 837.1L726.5 839.5L726.2 837.7L727.2 836L727.4 839.4L727.6 836.4L728.1 836.8L728.8 838L729.3 840.8L729.4 834.2L730 837.2L730.3 837L730.9 837.5L731.3 839.6L731.6 838.7L731.7 838.4L731.9 840.7L733 841.3L732.8 838.2L733.7 840.1L733.8 839.3L734.7 838.1L734.6 841.1L734.9 841.6L734.8 839.2L736 838L736.2 836.3L736.4 840.9L736.9 836.2L737.8 840.4L737.9 840.4L738.5 839.1L738.6 836.7L739.1 841.3L739.7 835.8L739.8 841.4L740.6 837.5L740.6 838.6L741.6 840.8" fill="none" stroke="#151515" stroke-width="0.72" stroke-linejoin="round"/><line x1="185" y1="842.2" x2="741.5" y2="842.2" stroke="#111" stroke-width="1.6"/><line x1="227.2" y1="838.5" x2="227.2" y2="842" stroke="#111" stroke-width="1.2"/><line x1="303.8" y1="838.5" x2="303.8" y2="842" stroke="#111" stroke-width="1.2"/><line x1="380.4" y1="838.5" x2="380.4" y2="842" stroke="#111" stroke-width="1.2"/><line x1="456.9" y1="838.5" x2="456.9" y2="842" stroke="#111" stroke-width="1.2"/><line x1="533.5" y1="838.5" x2="533.5" y2="842" stroke="#111" stroke-width="1.2"/><line x1="610.0" y1="838.5" x2="610.0" y2="842" stroke="#111" stroke-width="1.2"/><line x1="686.6" y1="838.5" x2="686.6" y2="842" stroke="#111" stroke-width="1.2"/><text x="282" y="865.5" font-size="19.5" fill="#000" font-weight="bold" text-anchor="start" textLength="43.2" lengthAdjust="spacingAndGlyphs">8000</text><text x="435" y="865.5" font-size="19.5" fill="#000" font-weight="bold" text-anchor="start" textLength="43.5" lengthAdjust="spacingAndGlyphs">9000</text><text x="583" y="865.5" font-size="19.5" fill="#000" font-weight="bold" text-anchor="start" textLength="54.3" lengthAdjust="spacingAndGlyphs">10000</text><text x="445.8" y="901.5" font-size="22" fill="#000" font-weight="bold" font-style="italic" text-anchor="start" textLength="36.1" lengthAdjust="spacingAndGlyphs">m/z</text><circle cx="286.3" cy="816.6" r="3.6" fill="#000000"/><circle cx="300.9" cy="768.8" r="3.6" fill="#3333CC"/><circle cx="315.7" cy="741.5" r="3.6" fill="#008000"/><circle cx="330.3" cy="773.1" r="3.6" fill="#FF9900"/><circle cx="344.3" cy="808.3" r="3.6" fill="#FF0000"/><circle cx="352.7" cy="770.4" r="3.6" fill="#000000"/><circle cx="368.7" cy="573.4" r="3.6" fill="#3333CC"/><circle cx="384.7" cy="541.4" r="3.6" fill="#008000"/><circle cx="400.1" cy="674.8" r="3.6" fill="#FF9900"/><circle cx="416" cy="781" r="3.6" fill="#FF0000"/><circle cx="428.4" cy="759.8" r="3.6" fill="#000000"/><circle cx="444.2" cy="576.9" r="3.6" fill="#3333CC"/><circle cx="461.1" cy="539.6" r="3.6" fill="#008000"/><circle cx="478.3" cy="684.1" r="3.6" fill="#FF9900"/><circle cx="494.3" cy="781" r="3.6" fill="#FF0000"/><circle cx="513.3" cy="799" r="3.6" fill="#000000"/><circle cx="532" cy="741.5" r="3.6" fill="#3333CC"/><circle cx="549.4" cy="721.6" r="3.6" fill="#008000"/><circle cx="566.3" cy="771" r="3.6" fill="#FF9900"/><circle cx="583.4" cy="811.9" r="3.6" fill="#FF0000"/><circle cx="610.1" cy="824.4" r="3.6" fill="#000000"/><circle cx="626.5" cy="817.6" r="3.6" fill="#3333CC"/><circle cx="644.6" cy="811.3" r="3.6" fill="#008000"/><circle cx="663.5" cy="821.1" r="3.6" fill="#FF9900"/><circle cx="59.1" cy="601.3" r="3.4" fill="#000"/><text x="74.2" y="607.4" font-size="17" fill="#000" font-weight="bold" text-anchor="start" textLength="49.9" lengthAdjust="spacingAndGlyphs" stroke="#000" stroke-width="0.35">DL = 0</text><circle cx="59.1" cy="633.7" r="3.4" fill="#3333CC"/><text x="74.2" y="639.5" font-size="17" fill="#3333CC" font-weight="bold" text-anchor="start" textLength="49.9" lengthAdjust="spacingAndGlyphs" stroke="#3333CC" stroke-width="0.35">DL = 2</text><circle cx="59.1" cy="664.3" r="3.4" fill="#339933"/><text x="74.2" y="670.1" font-size="17" fill="#339933" font-weight="bold" text-anchor="start" textLength="49.9" lengthAdjust="spacingAndGlyphs" stroke="#339933" stroke-width="0.35">DL = 4</text><circle cx="59.1" cy="693.7" r="3.4" fill="#FF9900"/><text x="74.2" y="700.3" font-size="17" fill="#FF9900" font-weight="bold" text-anchor="start" textLength="49.9" lengthAdjust="spacingAndGlyphs" stroke="#FF9900" stroke-width="0.35">DL = 6</text><circle cx="59.1" cy="724" r="3.4" fill="#FF1111"/><text x="74.2" y="730.1" font-size="17" fill="#FF1111" font-weight="bold" text-anchor="start" textLength="49.9" lengthAdjust="spacingAndGlyphs" stroke="#FF1111" stroke-width="0.35">DL = 8</text><text x="44" y="760.9" font-size="17" fill="#000" font-weight="bold" text-anchor="start" textLength="126.6" lengthAdjust="spacingAndGlyphs" stroke="#000" stroke-width="0.35">DAR = 3.8 ± 0.1</text></svg>
</body></html>
